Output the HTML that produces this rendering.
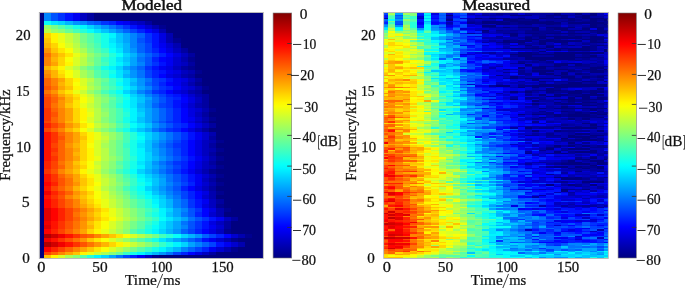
<!DOCTYPE html>
<html><head><meta charset="utf-8"><style>
html,body{margin:0;padding:0;background:#fff;}
body{width:685px;height:288px;overflow:hidden;position:relative;}
svg{position:absolute;left:0;top:0;}

.t{font-family:"Liberation Serif",serif;font-size:14px;fill:#111;stroke:#111;stroke-width:0.25px;}
.tb{font-family:"Liberation Serif",serif;font-size:14px;font-weight:normal;fill:#111;stroke:#111;stroke-width:0.45px;}
</style></head><body>
<svg width="685" height="288" viewBox="0 0 685 288">
<defs><linearGradient id="jet" x1="0" y1="0" x2="0" y2="1"><stop offset="0.0000" stop-color="#800000"/><stop offset="0.0159" stop-color="#900000"/><stop offset="0.0317" stop-color="#a00000"/><stop offset="0.0476" stop-color="#b00000"/><stop offset="0.0635" stop-color="#c00000"/><stop offset="0.0794" stop-color="#d00000"/><stop offset="0.0952" stop-color="#e10000"/><stop offset="0.1111" stop-color="#f10000"/><stop offset="0.1270" stop-color="#ff0200"/><stop offset="0.1429" stop-color="#ff1200"/><stop offset="0.1587" stop-color="#ff2200"/><stop offset="0.1746" stop-color="#ff3300"/><stop offset="0.1905" stop-color="#ff4300"/><stop offset="0.2063" stop-color="#ff5300"/><stop offset="0.2222" stop-color="#ff6300"/><stop offset="0.2381" stop-color="#ff7300"/><stop offset="0.2540" stop-color="#ff8400"/><stop offset="0.2698" stop-color="#ff9400"/><stop offset="0.2857" stop-color="#ffa400"/><stop offset="0.3016" stop-color="#ffb400"/><stop offset="0.3175" stop-color="#ffc400"/><stop offset="0.3333" stop-color="#ffd500"/><stop offset="0.3492" stop-color="#ffe500"/><stop offset="0.3651" stop-color="#fff500"/><stop offset="0.3810" stop-color="#f9ff06"/><stop offset="0.3968" stop-color="#e9ff16"/><stop offset="0.4127" stop-color="#d9ff26"/><stop offset="0.4286" stop-color="#c8ff37"/><stop offset="0.4444" stop-color="#b8ff47"/><stop offset="0.4603" stop-color="#a8ff57"/><stop offset="0.4762" stop-color="#98ff67"/><stop offset="0.4921" stop-color="#88ff77"/><stop offset="0.5079" stop-color="#77ff88"/><stop offset="0.5238" stop-color="#67ff98"/><stop offset="0.5397" stop-color="#57ffa8"/><stop offset="0.5556" stop-color="#47ffb8"/><stop offset="0.5714" stop-color="#37ffc8"/><stop offset="0.5873" stop-color="#26ffd9"/><stop offset="0.6032" stop-color="#16ffe9"/><stop offset="0.6190" stop-color="#06fff9"/><stop offset="0.6349" stop-color="#00f5ff"/><stop offset="0.6508" stop-color="#00e5ff"/><stop offset="0.6667" stop-color="#00d4ff"/><stop offset="0.6825" stop-color="#00c4ff"/><stop offset="0.6984" stop-color="#00b4ff"/><stop offset="0.7143" stop-color="#00a4ff"/><stop offset="0.7302" stop-color="#0094ff"/><stop offset="0.7460" stop-color="#0084ff"/><stop offset="0.7619" stop-color="#0073ff"/><stop offset="0.7778" stop-color="#0063ff"/><stop offset="0.7937" stop-color="#0053ff"/><stop offset="0.8095" stop-color="#0043ff"/><stop offset="0.8254" stop-color="#0033ff"/><stop offset="0.8413" stop-color="#0022ff"/><stop offset="0.8571" stop-color="#0012ff"/><stop offset="0.8730" stop-color="#0002ff"/><stop offset="0.8889" stop-color="#0000f1"/><stop offset="0.9048" stop-color="#0000e1"/><stop offset="0.9206" stop-color="#0000d0"/><stop offset="0.9365" stop-color="#0000c0"/><stop offset="0.9524" stop-color="#0000b0"/><stop offset="0.9683" stop-color="#0000a0"/><stop offset="0.9841" stop-color="#000090"/><stop offset="1.0000" stop-color="#000080"/></linearGradient></defs>
<g style="filter:blur(0.45px)">
<rect x="39.8" y="13" width="223.2" height="245" fill="#000080"/>
<g shape-rendering="crispEdges">
<path fill="#000090" d="M158.9 24.5h7.2v4.0h-7.2zM173.3 38.0h7.2v5.0h-7.2zM187.7 57.0h7.2v4.5h-7.2zM187.7 66.0h7.2v4.0h-7.2zM194.8 70.0h7.2v4.0h-7.2zM194.8 82.0h7.2v4.0h-7.2zM202.0 86.0h7.2v4.0h-7.2zM209.2 107.8h7.2v4.0h-7.2zM209.2 116.5h7.2v4.0h-7.2zM216.4 139.9h7.2v3.5h-7.2zM216.4 147.7h7.2v4.3h-7.2zM216.4 156.3h7.2v4.3h-7.2zM216.4 164.9h7.2v4.3h-7.2zM209.2 169.2h7.2v4.3h-7.2zM216.4 173.5h7.2v4.3h-7.2zM216.4 182.1h7.2v4.3h-7.2zM216.4 190.7h7.2v4.3h-7.2zM216.4 203.6h7.2v4.3h-7.2zM223.6 207.9h7.2v4.3h-7.2zM223.6 229.4h7.2v4.3h-7.2zM245.2 233.7h7.2v4.3h-7.2zM230.8 238.0h7.2v4.4h-7.2zM230.8 247.4h7.2v4.5h-7.2zM151.7 254.7h7.2v3.3h-7.2z"/>
<path fill="#0000a0" d="M87.0 13.0h7.2v7.5h-7.2zM144.5 20.5h7.2v4.0h-7.2zM180.5 48.0h7.2v4.5h-7.2zM187.7 52.5h7.2v4.5h-7.2zM187.7 61.5h7.2v4.5h-7.2zM180.5 66.0h7.2v4.0h-7.2zM187.7 74.0h7.2v4.0h-7.2zM194.8 78.0h7.2v4.0h-7.2zM194.8 90.0h7.2v4.0h-7.2zM202.0 94.0h7.2v2.5h-7.2zM202.0 96.5h7.2v3.5h-7.2zM202.0 100.0h7.2v3.1h-7.2zM202.0 103.1h7.2v4.7h-7.2zM202.0 111.8h7.2v4.7h-7.2zM202.0 120.5h7.2v2.9h-7.2zM209.2 123.4h7.2v4.4h-7.2zM202.0 127.8h7.2v4.3h-7.2zM209.2 135.6h7.2v4.3h-7.2zM209.2 143.4h7.2v4.3h-7.2zM209.2 152.0h7.2v4.3h-7.2zM209.2 160.6h7.2v4.3h-7.2zM209.2 177.8h7.2v4.3h-7.2zM209.2 186.4h7.2v4.3h-7.2zM216.4 199.3h7.2v4.3h-7.2zM230.8 216.5h7.2v4.3h-7.2zM223.6 220.8h7.2v4.3h-7.2zM223.6 225.1h7.2v4.3h-7.2zM209.2 251.9h7.2v2.8h-7.2z"/>
<path fill="#0000b0" d="M151.7 24.5h7.2v4.0h-7.2zM158.9 28.5h7.2v4.5h-7.2zM166.1 33.0h7.2v5.0h-7.2zM166.1 38.0h7.2v5.0h-7.2zM173.3 43.0h7.2v5.0h-7.2zM180.5 57.0h7.2v4.5h-7.2zM187.7 70.0h7.2v4.0h-7.2zM180.5 74.0h7.2v4.0h-7.2zM187.7 82.0h7.2v4.0h-7.2zM194.8 86.0h7.2v4.0h-7.2zM187.7 90.0h7.2v4.0h-7.2zM194.8 94.0h7.2v2.5h-7.2zM194.8 103.1h7.2v4.7h-7.2zM202.0 107.8h7.2v4.0h-7.2zM202.0 116.5h7.2v4.0h-7.2zM209.2 132.1h7.2v3.5h-7.2zM209.2 139.9h7.2v3.5h-7.2zM209.2 147.7h7.2v4.3h-7.2zM209.2 156.3h7.2v4.3h-7.2zM209.2 164.9h7.2v4.3h-7.2zM202.0 169.2h7.2v4.3h-7.2zM209.2 173.5h7.2v4.3h-7.2zM209.2 182.1h7.2v4.3h-7.2zM209.2 190.7h7.2v4.3h-7.2zM209.2 195.0h7.2v4.3h-7.2zM216.4 207.9h7.2v4.3h-7.2zM216.4 212.2h7.2v4.3h-7.2zM238.0 233.7h7.2v4.3h-7.2zM223.6 238.0h7.2v4.4h-7.2zM238.0 242.4h7.2v5.0h-7.2zM223.6 247.4h7.2v4.5h-7.2z"/>
<path fill="#0000c0" d="M79.8 13.0h7.2v7.5h-7.2zM137.3 20.5h7.2v4.0h-7.2zM173.3 48.0h7.2v4.5h-7.2zM180.5 52.5h7.2v4.5h-7.2zM180.5 61.5h7.2v4.5h-7.2zM173.3 66.0h7.2v4.0h-7.2zM180.5 70.0h7.2v4.0h-7.2zM187.7 78.0h7.2v4.0h-7.2zM194.8 96.5h7.2v3.5h-7.2zM194.8 100.0h7.2v3.1h-7.2zM194.8 111.8h7.2v4.7h-7.2zM194.8 120.5h7.2v2.9h-7.2zM202.0 123.4h7.2v4.4h-7.2zM194.8 127.8h7.2v4.3h-7.2zM202.0 139.9h7.2v3.5h-7.2zM202.0 143.4h7.2v4.3h-7.2zM202.0 147.7h7.2v4.3h-7.2zM202.0 152.0h7.2v4.3h-7.2zM202.0 160.6h7.2v4.3h-7.2zM202.0 164.9h7.2v4.3h-7.2zM202.0 177.8h7.2v4.3h-7.2zM202.0 186.4h7.2v4.3h-7.2zM209.2 199.3h7.2v4.3h-7.2zM209.2 203.6h7.2v4.3h-7.2zM223.6 216.5h7.2v4.3h-7.2zM216.4 220.8h7.2v4.3h-7.2zM216.4 229.4h7.2v4.3h-7.2zM202.0 251.9h7.2v2.8h-7.2zM144.5 254.7h7.2v3.3h-7.2z"/>
<path fill="#0000d0" d="M130.1 20.5h7.2v4.0h-7.2zM144.5 24.5h7.2v4.0h-7.2zM166.1 43.0h7.2v5.0h-7.2zM173.3 57.0h7.2v4.5h-7.2zM173.3 61.5h7.2v4.5h-7.2zM173.3 74.0h7.2v4.0h-7.2zM180.5 82.0h7.2v4.0h-7.2zM187.7 86.0h7.2v4.0h-7.2zM180.5 90.0h7.2v4.0h-7.2zM187.7 94.0h7.2v2.5h-7.2zM187.7 103.1h7.2v4.7h-7.2zM194.8 107.8h7.2v4.0h-7.2zM194.8 116.5h7.2v4.0h-7.2zM202.0 132.1h7.2v3.5h-7.2zM202.0 135.6h7.2v4.3h-7.2zM202.0 156.3h7.2v4.3h-7.2zM194.8 169.2h7.2v4.3h-7.2zM202.0 173.5h7.2v4.3h-7.2zM202.0 182.1h7.2v4.3h-7.2zM202.0 195.0h7.2v4.3h-7.2zM209.2 212.2h7.2v4.3h-7.2zM216.4 225.1h7.2v4.3h-7.2zM230.8 233.7h7.2v4.3h-7.2zM216.4 238.0h7.2v4.4h-7.2zM230.8 242.4h7.2v5.0h-7.2zM216.4 247.4h7.2v4.5h-7.2z"/>
<path fill="#0000e1" d="M151.7 28.5h7.2v4.5h-7.2zM158.9 33.0h7.2v5.0h-7.2zM158.9 38.0h7.2v5.0h-7.2zM166.1 48.0h7.2v4.5h-7.2zM173.3 52.5h7.2v4.5h-7.2zM166.1 66.0h7.2v4.0h-7.2zM173.3 70.0h7.2v4.0h-7.2zM166.1 74.0h7.2v4.0h-7.2zM180.5 78.0h7.2v4.0h-7.2zM180.5 86.0h7.2v4.0h-7.2zM173.3 90.0h7.2v4.0h-7.2zM187.7 96.5h7.2v3.5h-7.2zM187.7 100.0h7.2v3.1h-7.2zM187.7 107.8h7.2v4.0h-7.2zM187.7 111.8h7.2v4.7h-7.2zM187.7 120.5h7.2v2.9h-7.2zM194.8 123.4h7.2v4.4h-7.2zM187.7 127.8h7.2v4.3h-7.2zM194.8 139.9h7.2v3.5h-7.2zM194.8 143.4h7.2v4.3h-7.2zM194.8 147.7h7.2v4.3h-7.2zM194.8 152.0h7.2v4.3h-7.2zM194.8 160.6h7.2v4.3h-7.2zM194.8 164.9h7.2v4.3h-7.2zM194.8 186.4h7.2v4.3h-7.2zM202.0 190.7h7.2v4.3h-7.2zM202.0 203.6h7.2v4.3h-7.2zM209.2 207.9h7.2v4.3h-7.2zM209.2 220.8h7.2v4.3h-7.2zM209.2 229.4h7.2v4.3h-7.2zM194.8 251.9h7.2v2.8h-7.2z"/>
<path fill="#0000f1" d="M72.6 13.0h7.2v7.5h-7.2zM122.9 20.5h7.2v4.0h-7.2zM137.3 24.5h7.2v4.0h-7.2zM158.9 43.0h7.2v5.0h-7.2zM166.1 57.0h7.2v4.5h-7.2zM166.1 61.5h7.2v4.5h-7.2zM158.9 66.0h7.2v4.0h-7.2zM166.1 70.0h7.2v4.0h-7.2zM173.3 78.0h7.2v4.0h-7.2zM173.3 82.0h7.2v4.0h-7.2zM180.5 94.0h7.2v2.5h-7.2zM180.5 103.1h7.2v4.7h-7.2zM187.7 116.5h7.2v4.0h-7.2zM194.8 132.1h7.2v3.5h-7.2zM194.8 135.6h7.2v4.3h-7.2zM194.8 156.3h7.2v4.3h-7.2zM187.7 169.2h7.2v4.3h-7.2zM194.8 173.5h7.2v4.3h-7.2zM194.8 177.8h7.2v4.3h-7.2zM194.8 182.1h7.2v4.3h-7.2zM202.0 199.3h7.2v4.3h-7.2zM216.4 216.5h7.2v4.3h-7.2zM209.2 225.1h7.2v4.3h-7.2zM209.2 238.0h7.2v4.4h-7.2zM223.6 242.4h7.2v5.0h-7.2zM209.2 247.4h7.2v4.5h-7.2zM137.3 254.7h7.2v3.3h-7.2z"/>
<path fill="#0002ff" d="M115.8 20.5h7.2v4.0h-7.2zM144.5 28.5h7.2v4.5h-7.2zM158.9 48.0h7.2v4.5h-7.2zM166.1 52.5h7.2v4.5h-7.2zM158.9 57.0h7.2v4.5h-7.2zM158.9 74.0h7.2v4.0h-7.2zM166.1 82.0h7.2v4.0h-7.2zM173.3 86.0h7.2v4.0h-7.2zM166.1 90.0h7.2v4.0h-7.2zM180.5 96.5h7.2v3.5h-7.2zM180.5 100.0h7.2v3.1h-7.2zM180.5 107.8h7.2v4.0h-7.2zM180.5 111.8h7.2v4.7h-7.2zM180.5 116.5h7.2v4.0h-7.2zM180.5 120.5h7.2v2.9h-7.2zM187.7 123.4h7.2v4.4h-7.2zM180.5 127.8h7.2v4.3h-7.2zM187.7 139.9h7.2v3.5h-7.2zM187.7 143.4h7.2v4.3h-7.2zM187.7 147.7h7.2v4.3h-7.2zM187.7 152.0h7.2v4.3h-7.2zM187.7 160.6h7.2v4.3h-7.2zM187.7 164.9h7.2v4.3h-7.2zM187.7 186.4h7.2v4.3h-7.2zM194.8 190.7h7.2v4.3h-7.2zM194.8 195.0h7.2v4.3h-7.2zM202.0 207.9h7.2v4.3h-7.2zM202.0 212.2h7.2v4.3h-7.2zM202.0 229.4h7.2v4.3h-7.2zM223.6 233.7h7.2v4.3h-7.2zM187.7 251.9h7.2v2.8h-7.2z"/>
<path fill="#0012ff" d="M65.4 13.0h7.2v7.5h-7.2zM130.1 24.5h7.2v4.0h-7.2zM151.7 33.0h7.2v5.0h-7.2zM151.7 38.0h7.2v5.0h-7.2zM151.7 43.0h7.2v5.0h-7.2zM158.9 61.5h7.2v4.5h-7.2zM151.7 66.0h7.2v4.0h-7.2zM158.9 70.0h7.2v4.0h-7.2zM166.1 78.0h7.2v4.0h-7.2zM173.3 94.0h7.2v2.5h-7.2zM173.3 100.0h7.2v3.1h-7.2zM173.3 103.1h7.2v4.7h-7.2zM187.7 132.1h7.2v3.5h-7.2zM187.7 135.6h7.2v4.3h-7.2zM187.7 156.3h7.2v4.3h-7.2zM180.5 169.2h7.2v4.3h-7.2zM187.7 173.5h7.2v4.3h-7.2zM187.7 177.8h7.2v4.3h-7.2zM194.8 199.3h7.2v4.3h-7.2zM194.8 203.6h7.2v4.3h-7.2zM209.2 216.5h7.2v4.3h-7.2zM202.0 220.8h7.2v4.3h-7.2zM202.0 225.1h7.2v4.3h-7.2zM202.0 238.0h7.2v4.4h-7.2zM216.4 242.4h7.2v5.0h-7.2z"/>
<path fill="#0022ff" d="M108.6 20.5h7.2v4.0h-7.2zM137.3 28.5h7.2v4.5h-7.2zM151.7 48.0h7.2v4.5h-7.2zM158.9 52.5h7.2v4.5h-7.2zM151.7 57.0h7.2v4.5h-7.2zM151.7 70.0h7.2v4.0h-7.2zM151.7 74.0h7.2v4.0h-7.2zM158.9 82.0h7.2v4.0h-7.2zM166.1 86.0h7.2v4.0h-7.2zM158.9 90.0h7.2v4.0h-7.2zM166.1 94.0h7.2v2.5h-7.2zM173.3 96.5h7.2v3.5h-7.2zM173.3 107.8h7.2v4.0h-7.2zM173.3 111.8h7.2v4.7h-7.2zM173.3 116.5h7.2v4.0h-7.2zM173.3 120.5h7.2v2.9h-7.2zM180.5 123.4h7.2v4.4h-7.2zM173.3 127.8h7.2v4.3h-7.2zM180.5 139.9h7.2v3.5h-7.2zM180.5 143.4h7.2v4.3h-7.2zM180.5 147.7h7.2v4.3h-7.2zM180.5 152.0h7.2v4.3h-7.2zM180.5 160.6h7.2v4.3h-7.2zM180.5 164.9h7.2v4.3h-7.2zM187.7 182.1h7.2v4.3h-7.2zM180.5 186.4h7.2v4.3h-7.2zM187.7 190.7h7.2v4.3h-7.2zM187.7 195.0h7.2v4.3h-7.2zM194.8 212.2h7.2v4.3h-7.2zM194.8 229.4h7.2v4.3h-7.2zM216.4 233.7h7.2v4.3h-7.2zM202.0 247.4h7.2v4.5h-7.2zM180.5 251.9h7.2v2.8h-7.2zM130.1 254.7h7.2v3.3h-7.2z"/>
<path fill="#0033ff" d="M58.2 13.0h7.2v7.5h-7.2zM101.4 20.5h7.2v4.0h-7.2zM122.9 24.5h7.2v4.0h-7.2zM144.5 33.0h7.2v5.0h-7.2zM144.5 38.0h7.2v5.0h-7.2zM151.7 61.5h7.2v4.5h-7.2zM144.5 66.0h7.2v4.0h-7.2zM158.9 78.0h7.2v4.0h-7.2zM158.9 86.0h7.2v4.0h-7.2zM151.7 90.0h7.2v4.0h-7.2zM166.1 96.5h7.2v3.5h-7.2zM166.1 100.0h7.2v3.1h-7.2zM166.1 103.1h7.2v4.7h-7.2zM166.1 120.5h7.2v2.9h-7.2zM173.3 123.4h7.2v4.4h-7.2zM166.1 127.8h7.2v4.3h-7.2zM180.5 132.1h7.2v3.5h-7.2zM180.5 135.6h7.2v4.3h-7.2zM173.3 143.4h7.2v4.3h-7.2zM180.5 156.3h7.2v4.3h-7.2zM173.3 160.6h7.2v4.3h-7.2zM173.3 169.2h7.2v4.3h-7.2zM180.5 173.5h7.2v4.3h-7.2zM180.5 177.8h7.2v4.3h-7.2zM187.7 199.3h7.2v4.3h-7.2zM187.7 203.6h7.2v4.3h-7.2zM194.8 207.9h7.2v4.3h-7.2zM202.0 216.5h7.2v4.3h-7.2zM194.8 220.8h7.2v4.3h-7.2zM194.8 225.1h7.2v4.3h-7.2z"/>
<path fill="#0043ff" d="M130.1 28.5h7.2v4.5h-7.2zM144.5 43.0h7.2v5.0h-7.2zM144.5 48.0h7.2v4.5h-7.2zM151.7 52.5h7.2v4.5h-7.2zM144.5 70.0h7.2v4.0h-7.2zM144.5 74.0h7.2v4.0h-7.2zM151.7 78.0h7.2v4.0h-7.2zM151.7 82.0h7.2v4.0h-7.2zM158.9 94.0h7.2v2.5h-7.2zM158.9 103.1h7.2v4.7h-7.2zM166.1 107.8h7.2v4.0h-7.2zM166.1 111.8h7.2v4.7h-7.2zM166.1 116.5h7.2v4.0h-7.2zM173.3 139.9h7.2v3.5h-7.2zM173.3 147.7h7.2v4.3h-7.2zM173.3 152.0h7.2v4.3h-7.2zM173.3 164.9h7.2v4.3h-7.2zM180.5 182.1h7.2v4.3h-7.2zM180.5 190.7h7.2v4.3h-7.2zM180.5 195.0h7.2v4.3h-7.2zM187.7 229.4h7.2v4.3h-7.2zM209.2 233.7h7.2v4.3h-7.2zM194.8 238.0h7.2v4.4h-7.2zM209.2 242.4h7.2v5.0h-7.2zM194.8 247.4h7.2v4.5h-7.2zM173.3 251.9h7.2v2.8h-7.2zM122.9 254.7h7.2v3.3h-7.2z"/>
<path fill="#0053ff" d="M51.0 13.0h7.2v7.5h-7.2zM94.2 20.5h7.2v4.0h-7.2zM115.8 24.5h7.2v4.0h-7.2zM137.3 38.0h7.2v5.0h-7.2zM144.5 57.0h7.2v4.5h-7.2zM144.5 61.5h7.2v4.5h-7.2zM151.7 86.0h7.2v4.0h-7.2zM158.9 96.5h7.2v3.5h-7.2zM158.9 100.0h7.2v3.1h-7.2zM158.9 120.5h7.2v2.9h-7.2zM166.1 123.4h7.2v4.4h-7.2zM158.9 127.8h7.2v4.3h-7.2zM173.3 132.1h7.2v3.5h-7.2zM173.3 135.6h7.2v4.3h-7.2zM166.1 143.4h7.2v4.3h-7.2zM173.3 156.3h7.2v4.3h-7.2zM166.1 160.6h7.2v4.3h-7.2zM166.1 169.2h7.2v4.3h-7.2zM173.3 173.5h7.2v4.3h-7.2zM173.3 177.8h7.2v4.3h-7.2zM173.3 186.4h7.2v4.3h-7.2zM187.7 207.9h7.2v4.3h-7.2zM187.7 212.2h7.2v4.3h-7.2zM194.8 216.5h7.2v4.3h-7.2zM187.7 220.8h7.2v4.3h-7.2zM187.7 225.1h7.2v4.3h-7.2z"/>
<path fill="#0063ff" d="M87.0 20.5h7.2v4.0h-7.2zM122.9 28.5h7.2v4.5h-7.2zM137.3 33.0h7.2v5.0h-7.2zM137.3 43.0h7.2v5.0h-7.2zM137.3 48.0h7.2v4.5h-7.2zM144.5 52.5h7.2v4.5h-7.2zM137.3 66.0h7.2v4.0h-7.2zM144.5 82.0h7.2v4.0h-7.2zM144.5 90.0h7.2v4.0h-7.2zM151.7 94.0h7.2v2.5h-7.2zM151.7 103.1h7.2v4.7h-7.2zM158.9 107.8h7.2v4.0h-7.2zM158.9 111.8h7.2v4.7h-7.2zM158.9 116.5h7.2v4.0h-7.2zM166.1 139.9h7.2v3.5h-7.2zM166.1 147.7h7.2v4.3h-7.2zM166.1 152.0h7.2v4.3h-7.2zM166.1 164.9h7.2v4.3h-7.2zM173.3 182.1h7.2v4.3h-7.2zM173.3 190.7h7.2v4.3h-7.2zM180.5 199.3h7.2v4.3h-7.2zM180.5 203.6h7.2v4.3h-7.2zM180.5 229.4h7.2v4.3h-7.2zM202.0 233.7h7.2v4.3h-7.2zM187.7 238.0h7.2v4.4h-7.2zM202.0 242.4h7.2v5.0h-7.2zM187.7 247.4h7.2v4.5h-7.2z"/>
<path fill="#0073ff" d="M108.6 24.5h7.2v4.0h-7.2zM137.3 57.0h7.2v4.5h-7.2zM137.3 70.0h7.2v4.0h-7.2zM137.3 74.0h7.2v4.0h-7.2zM144.5 78.0h7.2v4.0h-7.2zM151.7 96.5h7.2v3.5h-7.2zM151.7 100.0h7.2v3.1h-7.2zM151.7 120.5h7.2v2.9h-7.2zM158.9 123.4h7.2v4.4h-7.2zM151.7 127.8h7.2v4.3h-7.2zM166.1 132.1h7.2v3.5h-7.2zM166.1 135.6h7.2v4.3h-7.2zM158.9 143.4h7.2v4.3h-7.2zM166.1 156.3h7.2v4.3h-7.2zM158.9 160.6h7.2v4.3h-7.2zM158.9 169.2h7.2v4.3h-7.2zM166.1 173.5h7.2v4.3h-7.2zM166.1 177.8h7.2v4.3h-7.2zM166.1 186.4h7.2v4.3h-7.2zM173.3 195.0h7.2v4.3h-7.2zM180.5 212.2h7.2v4.3h-7.2zM187.7 216.5h7.2v4.3h-7.2zM180.5 220.8h7.2v4.3h-7.2zM166.1 251.9h7.2v2.8h-7.2zM115.8 254.7h7.2v3.3h-7.2z"/>
<path fill="#0084ff" d="M43.8 13.0h7.2v7.5h-7.2zM79.8 20.5h7.2v4.0h-7.2zM115.8 28.5h7.2v4.5h-7.2zM130.1 33.0h7.2v5.0h-7.2zM130.1 38.0h7.2v5.0h-7.2zM130.1 43.0h7.2v5.0h-7.2zM137.3 52.5h7.2v4.5h-7.2zM137.3 61.5h7.2v4.5h-7.2zM130.1 66.0h7.2v4.0h-7.2zM144.5 86.0h7.2v4.0h-7.2zM137.3 90.0h7.2v4.0h-7.2zM144.5 94.0h7.2v2.5h-7.2zM151.7 107.8h7.2v4.0h-7.2zM151.7 111.8h7.2v4.7h-7.2zM151.7 116.5h7.2v4.0h-7.2zM158.9 139.9h7.2v3.5h-7.2zM158.9 147.7h7.2v4.3h-7.2zM158.9 152.0h7.2v4.3h-7.2zM158.9 164.9h7.2v4.3h-7.2zM166.1 182.1h7.2v4.3h-7.2zM166.1 190.7h7.2v4.3h-7.2zM173.3 199.3h7.2v4.3h-7.2zM173.3 203.6h7.2v4.3h-7.2zM180.5 207.9h7.2v4.3h-7.2zM180.5 225.1h7.2v4.3h-7.2zM180.5 238.0h7.2v4.4h-7.2zM194.8 242.4h7.2v5.0h-7.2zM180.5 247.4h7.2v4.5h-7.2z"/>
<path fill="#0094ff" d="M72.6 20.5h7.2v4.0h-7.2zM101.4 24.5h7.2v4.0h-7.2zM130.1 48.0h7.2v4.5h-7.2zM130.1 70.0h7.2v4.0h-7.2zM130.1 74.0h7.2v4.0h-7.2zM137.3 78.0h7.2v4.0h-7.2zM137.3 82.0h7.2v4.0h-7.2zM144.5 100.0h7.2v3.1h-7.2zM144.5 103.1h7.2v4.7h-7.2zM151.7 123.4h7.2v4.4h-7.2zM158.9 132.1h7.2v3.5h-7.2zM158.9 135.6h7.2v4.3h-7.2zM151.7 143.4h7.2v4.3h-7.2zM158.9 156.3h7.2v4.3h-7.2zM151.7 160.6h7.2v4.3h-7.2zM151.7 169.2h7.2v4.3h-7.2zM158.9 173.5h7.2v4.3h-7.2zM158.9 186.4h7.2v4.3h-7.2zM166.1 195.0h7.2v4.3h-7.2zM173.3 229.4h7.2v4.3h-7.2zM194.8 233.7h7.2v4.3h-7.2zM158.9 251.9h7.2v2.8h-7.2z"/>
<path fill="#00a4ff" d="M108.6 28.5h7.2v4.5h-7.2zM122.9 33.0h7.2v5.0h-7.2zM122.9 38.0h7.2v5.0h-7.2zM130.1 57.0h7.2v4.5h-7.2zM130.1 61.5h7.2v4.5h-7.2zM122.9 66.0h7.2v4.0h-7.2zM137.3 86.0h7.2v4.0h-7.2zM144.5 96.5h7.2v3.5h-7.2zM144.5 107.8h7.2v4.0h-7.2zM144.5 111.8h7.2v4.7h-7.2zM144.5 116.5h7.2v4.0h-7.2zM144.5 120.5h7.2v2.9h-7.2zM144.5 127.8h7.2v4.3h-7.2zM151.7 139.9h7.2v3.5h-7.2zM151.7 147.7h7.2v4.3h-7.2zM151.7 152.0h7.2v4.3h-7.2zM151.7 164.9h7.2v4.3h-7.2zM158.9 177.8h7.2v4.3h-7.2zM158.9 182.1h7.2v4.3h-7.2zM158.9 190.7h7.2v4.3h-7.2zM173.3 207.9h7.2v4.3h-7.2zM173.3 212.2h7.2v4.3h-7.2zM180.5 216.5h7.2v4.3h-7.2zM173.3 220.8h7.2v4.3h-7.2zM173.3 225.1h7.2v4.3h-7.2zM173.3 238.0h7.2v4.4h-7.2zM187.7 242.4h7.2v5.0h-7.2zM108.6 254.7h7.2v3.3h-7.2z"/>
<path fill="#00b4ff" d="M65.4 20.5h7.2v4.0h-7.2zM94.2 24.5h7.2v4.0h-7.2zM122.9 43.0h7.2v5.0h-7.2zM122.9 48.0h7.2v4.5h-7.2zM130.1 52.5h7.2v4.5h-7.2zM122.9 74.0h7.2v4.0h-7.2zM130.1 82.0h7.2v4.0h-7.2zM130.1 90.0h7.2v4.0h-7.2zM137.3 94.0h7.2v2.5h-7.2zM137.3 103.1h7.2v4.7h-7.2zM151.7 132.1h7.2v3.5h-7.2zM151.7 135.6h7.2v4.3h-7.2zM151.7 156.3h7.2v4.3h-7.2zM144.5 169.2h7.2v4.3h-7.2zM151.7 173.5h7.2v4.3h-7.2zM151.7 186.4h7.2v4.3h-7.2zM166.1 199.3h7.2v4.3h-7.2zM166.1 203.6h7.2v4.3h-7.2zM166.1 229.4h7.2v4.3h-7.2zM187.7 233.7h7.2v4.3h-7.2zM173.3 247.4h7.2v4.5h-7.2zM151.7 251.9h7.2v2.8h-7.2z"/>
<path fill="#00c4ff" d="M101.4 28.5h7.2v4.5h-7.2zM115.8 33.0h7.2v5.0h-7.2zM115.8 38.0h7.2v5.0h-7.2zM122.9 57.0h7.2v4.5h-7.2zM122.9 70.0h7.2v4.0h-7.2zM130.1 78.0h7.2v4.0h-7.2zM137.3 96.5h7.2v3.5h-7.2zM137.3 100.0h7.2v3.1h-7.2zM137.3 107.8h7.2v4.0h-7.2zM137.3 116.5h7.2v4.0h-7.2zM137.3 120.5h7.2v2.9h-7.2zM144.5 123.4h7.2v4.4h-7.2zM137.3 127.8h7.2v4.3h-7.2zM144.5 139.9h7.2v3.5h-7.2zM144.5 143.4h7.2v4.3h-7.2zM144.5 147.7h7.2v4.3h-7.2zM144.5 160.6h7.2v4.3h-7.2zM144.5 164.9h7.2v4.3h-7.2zM151.7 177.8h7.2v4.3h-7.2zM151.7 182.1h7.2v4.3h-7.2zM151.7 190.7h7.2v4.3h-7.2zM158.9 195.0h7.2v4.3h-7.2zM166.1 212.2h7.2v4.3h-7.2zM173.3 216.5h7.2v4.3h-7.2zM166.1 220.8h7.2v4.3h-7.2zM166.1 225.1h7.2v4.3h-7.2zM166.1 238.0h7.2v4.4h-7.2z"/>
<path fill="#00d4ff" d="M58.2 20.5h7.2v4.0h-7.2zM87.0 24.5h7.2v4.0h-7.2zM115.8 43.0h7.2v5.0h-7.2zM122.9 52.5h7.2v4.5h-7.2zM122.9 61.5h7.2v4.5h-7.2zM115.8 66.0h7.2v4.0h-7.2zM130.1 86.0h7.2v4.0h-7.2zM122.9 90.0h7.2v4.0h-7.2zM130.1 94.0h7.2v2.5h-7.2zM137.3 111.8h7.2v4.7h-7.2zM144.5 132.1h7.2v3.5h-7.2zM144.5 135.6h7.2v4.3h-7.2zM144.5 152.0h7.2v4.3h-7.2zM144.5 156.3h7.2v4.3h-7.2zM137.3 169.2h7.2v4.3h-7.2zM144.5 173.5h7.2v4.3h-7.2zM144.5 186.4h7.2v4.3h-7.2zM158.9 199.3h7.2v4.3h-7.2zM158.9 203.6h7.2v4.3h-7.2zM166.1 207.9h7.2v4.3h-7.2zM158.9 229.4h7.2v4.3h-7.2zM180.5 233.7h7.2v4.3h-7.2zM180.5 242.4h7.2v5.0h-7.2zM166.1 247.4h7.2v4.5h-7.2zM144.5 251.9h7.2v2.8h-7.2zM101.4 254.7h7.2v3.3h-7.2z"/>
<path fill="#00e5ff" d="M51.0 20.5h7.2v4.0h-7.2zM94.2 28.5h7.2v4.5h-7.2zM108.6 38.0h7.2v5.0h-7.2zM115.8 48.0h7.2v4.5h-7.2zM115.8 57.0h7.2v4.5h-7.2zM115.8 70.0h7.2v4.0h-7.2zM115.8 74.0h7.2v4.0h-7.2zM122.9 78.0h7.2v4.0h-7.2zM122.9 82.0h7.2v4.0h-7.2zM130.1 96.5h7.2v3.5h-7.2zM130.1 100.0h7.2v3.1h-7.2zM130.1 103.1h7.2v4.7h-7.2zM130.1 120.5h7.2v2.9h-7.2zM137.3 123.4h7.2v4.4h-7.2zM130.1 127.8h7.2v4.3h-7.2zM137.3 143.4h7.2v4.3h-7.2zM137.3 160.6h7.2v4.3h-7.2zM144.5 177.8h7.2v4.3h-7.2zM151.7 195.0h7.2v4.3h-7.2zM166.1 216.5h7.2v4.3h-7.2zM158.9 220.8h7.2v4.3h-7.2zM158.9 225.1h7.2v4.3h-7.2zM158.9 238.0h7.2v4.4h-7.2z"/>
<path fill="#00f5ff" d="M79.8 24.5h7.2v4.0h-7.2zM108.6 33.0h7.2v5.0h-7.2zM108.6 43.0h7.2v5.0h-7.2zM115.8 61.5h7.2v4.5h-7.2zM108.6 66.0h7.2v4.0h-7.2zM122.9 86.0h7.2v4.0h-7.2zM130.1 107.8h7.2v4.0h-7.2zM130.1 111.8h7.2v4.7h-7.2zM130.1 116.5h7.2v4.0h-7.2zM137.3 132.1h7.2v3.5h-7.2zM137.3 139.9h7.2v3.5h-7.2zM137.3 147.7h7.2v4.3h-7.2zM137.3 152.0h7.2v4.3h-7.2zM137.3 156.3h7.2v4.3h-7.2zM137.3 164.9h7.2v4.3h-7.2zM137.3 173.5h7.2v4.3h-7.2zM144.5 182.1h7.2v4.3h-7.2zM144.5 190.7h7.2v4.3h-7.2zM151.7 199.3h7.2v4.3h-7.2zM158.9 207.9h7.2v4.3h-7.2zM158.9 212.2h7.2v4.3h-7.2zM151.7 229.4h7.2v4.3h-7.2zM173.3 242.4h7.2v5.0h-7.2zM158.9 247.4h7.2v4.5h-7.2zM137.3 251.9h7.2v2.8h-7.2zM94.2 254.7h7.2v3.3h-7.2z"/>
<path fill="#06fff9" d="M43.8 20.5h7.2v4.0h-7.2zM87.0 28.5h7.2v4.5h-7.2zM108.6 48.0h7.2v4.5h-7.2zM115.8 52.5h7.2v4.5h-7.2zM108.6 74.0h7.2v4.0h-7.2zM115.8 82.0h7.2v4.0h-7.2zM115.8 90.0h7.2v4.0h-7.2zM122.9 94.0h7.2v2.5h-7.2zM122.9 100.0h7.2v3.1h-7.2zM122.9 103.1h7.2v4.7h-7.2zM130.1 123.4h7.2v4.4h-7.2zM137.3 135.6h7.2v4.3h-7.2zM130.1 169.2h7.2v4.3h-7.2zM137.3 177.8h7.2v4.3h-7.2zM137.3 186.4h7.2v4.3h-7.2zM144.5 195.0h7.2v4.3h-7.2zM151.7 203.6h7.2v4.3h-7.2zM158.9 216.5h7.2v4.3h-7.2zM151.7 225.1h7.2v4.3h-7.2zM173.3 233.7h7.2v4.3h-7.2z"/>
<path fill="#16ffe9" d="M72.6 24.5h7.2v4.0h-7.2zM101.4 33.0h7.2v5.0h-7.2zM101.4 38.0h7.2v5.0h-7.2zM101.4 43.0h7.2v5.0h-7.2zM108.6 57.0h7.2v4.5h-7.2zM108.6 61.5h7.2v4.5h-7.2zM101.4 66.0h7.2v4.0h-7.2zM108.6 70.0h7.2v4.0h-7.2zM115.8 78.0h7.2v4.0h-7.2zM122.9 96.5h7.2v3.5h-7.2zM122.9 107.8h7.2v4.0h-7.2zM122.9 116.5h7.2v4.0h-7.2zM122.9 120.5h7.2v2.9h-7.2zM122.9 127.8h7.2v4.3h-7.2zM130.1 139.9h7.2v3.5h-7.2zM130.1 143.4h7.2v4.3h-7.2zM130.1 147.7h7.2v4.3h-7.2zM130.1 152.0h7.2v4.3h-7.2zM130.1 160.6h7.2v4.3h-7.2zM130.1 164.9h7.2v4.3h-7.2zM137.3 182.1h7.2v4.3h-7.2zM137.3 190.7h7.2v4.3h-7.2zM151.7 212.2h7.2v4.3h-7.2zM151.7 220.8h7.2v4.3h-7.2zM144.5 229.4h7.2v4.3h-7.2zM151.7 238.0h7.2v4.4h-7.2zM166.1 242.4h7.2v5.0h-7.2zM151.7 247.4h7.2v4.5h-7.2zM130.1 251.9h7.2v2.8h-7.2z"/>
<path fill="#26ffd9" d="M79.8 28.5h7.2v4.5h-7.2zM108.6 52.5h7.2v4.5h-7.2zM115.8 86.0h7.2v4.0h-7.2zM108.6 90.0h7.2v4.0h-7.2zM115.8 94.0h7.2v2.5h-7.2zM115.8 103.1h7.2v4.7h-7.2zM122.9 111.8h7.2v4.7h-7.2zM130.1 132.1h7.2v3.5h-7.2zM130.1 135.6h7.2v4.3h-7.2zM130.1 156.3h7.2v4.3h-7.2zM122.9 169.2h7.2v4.3h-7.2zM130.1 173.5h7.2v4.3h-7.2zM130.1 186.4h7.2v4.3h-7.2zM137.3 195.0h7.2v4.3h-7.2zM144.5 199.3h7.2v4.3h-7.2zM144.5 203.6h7.2v4.3h-7.2zM151.7 207.9h7.2v4.3h-7.2zM144.5 225.1h7.2v4.3h-7.2zM166.1 233.7h7.2v4.3h-7.2zM87.0 254.7h7.2v3.3h-7.2z"/>
<path fill="#37ffc8" d="M65.4 24.5h7.2v4.0h-7.2zM94.2 33.0h7.2v5.0h-7.2zM94.2 38.0h7.2v5.0h-7.2zM101.4 48.0h7.2v4.5h-7.2zM101.4 57.0h7.2v4.5h-7.2zM101.4 70.0h7.2v4.0h-7.2zM101.4 74.0h7.2v4.0h-7.2zM108.6 78.0h7.2v4.0h-7.2zM108.6 82.0h7.2v4.0h-7.2zM115.8 96.5h7.2v3.5h-7.2zM115.8 100.0h7.2v3.1h-7.2zM115.8 120.5h7.2v2.9h-7.2zM122.9 123.4h7.2v4.4h-7.2zM115.8 127.8h7.2v4.3h-7.2zM122.9 143.4h7.2v4.3h-7.2zM122.9 160.6h7.2v4.3h-7.2zM122.9 164.9h7.2v4.3h-7.2zM130.1 177.8h7.2v4.3h-7.2zM130.1 182.1h7.2v4.3h-7.2zM130.1 190.7h7.2v4.3h-7.2zM144.5 212.2h7.2v4.3h-7.2zM151.7 216.5h7.2v4.3h-7.2zM144.5 220.8h7.2v4.3h-7.2zM137.3 229.4h7.2v4.3h-7.2zM144.5 238.0h7.2v4.4h-7.2zM158.9 242.4h7.2v5.0h-7.2zM144.5 247.4h7.2v4.5h-7.2zM122.9 251.9h7.2v2.8h-7.2z"/>
<path fill="#47ffb8" d="M72.6 28.5h7.2v4.5h-7.2zM94.2 43.0h7.2v5.0h-7.2zM101.4 61.5h7.2v4.5h-7.2zM94.2 66.0h7.2v4.0h-7.2zM108.6 86.0h7.2v4.0h-7.2zM101.4 90.0h7.2v4.0h-7.2zM108.6 94.0h7.2v2.5h-7.2zM115.8 107.8h7.2v4.0h-7.2zM115.8 111.8h7.2v4.7h-7.2zM115.8 116.5h7.2v4.0h-7.2zM122.9 132.1h7.2v3.5h-7.2zM122.9 135.6h7.2v4.3h-7.2zM122.9 139.9h7.2v3.5h-7.2zM122.9 147.7h7.2v4.3h-7.2zM122.9 152.0h7.2v4.3h-7.2zM122.9 156.3h7.2v4.3h-7.2zM115.8 169.2h7.2v4.3h-7.2zM122.9 173.5h7.2v4.3h-7.2zM122.9 186.4h7.2v4.3h-7.2zM130.1 195.0h7.2v4.3h-7.2zM137.3 199.3h7.2v4.3h-7.2zM137.3 203.6h7.2v4.3h-7.2zM144.5 207.9h7.2v4.3h-7.2zM158.9 233.7h7.2v4.3h-7.2z"/>
<path fill="#57ffa8" d="M58.2 24.5h7.2v4.0h-7.2zM87.0 33.0h7.2v5.0h-7.2zM87.0 38.0h7.2v5.0h-7.2zM94.2 48.0h7.2v4.5h-7.2zM101.4 52.5h7.2v4.5h-7.2zM94.2 70.0h7.2v4.0h-7.2zM94.2 74.0h7.2v4.0h-7.2zM101.4 82.0h7.2v4.0h-7.2zM108.6 100.0h7.2v3.1h-7.2zM108.6 103.1h7.2v4.7h-7.2zM115.8 123.4h7.2v4.4h-7.2zM115.8 160.6h7.2v4.3h-7.2zM122.9 177.8h7.2v4.3h-7.2zM144.5 216.5h7.2v4.3h-7.2zM137.3 220.8h7.2v4.3h-7.2zM137.3 225.1h7.2v4.3h-7.2zM130.1 229.4h7.2v4.3h-7.2zM137.3 238.0h7.2v4.4h-7.2zM137.3 247.4h7.2v4.5h-7.2zM79.8 254.7h7.2v3.3h-7.2z"/>
<path fill="#67ff98" d="M65.4 28.5h7.2v4.5h-7.2zM87.0 43.0h7.2v5.0h-7.2zM94.2 57.0h7.2v4.5h-7.2zM94.2 61.5h7.2v4.5h-7.2zM87.0 66.0h7.2v4.0h-7.2zM101.4 78.0h7.2v4.0h-7.2zM101.4 86.0h7.2v4.0h-7.2zM108.6 96.5h7.2v3.5h-7.2zM108.6 107.8h7.2v4.0h-7.2zM108.6 111.8h7.2v4.7h-7.2zM108.6 116.5h7.2v4.0h-7.2zM108.6 120.5h7.2v2.9h-7.2zM108.6 127.8h7.2v4.3h-7.2zM115.8 139.9h7.2v3.5h-7.2zM115.8 143.4h7.2v4.3h-7.2zM115.8 147.7h7.2v4.3h-7.2zM115.8 152.0h7.2v4.3h-7.2zM115.8 164.9h7.2v4.3h-7.2zM122.9 182.1h7.2v4.3h-7.2zM122.9 190.7h7.2v4.3h-7.2zM130.1 199.3h7.2v4.3h-7.2zM130.1 203.6h7.2v4.3h-7.2zM137.3 207.9h7.2v4.3h-7.2zM137.3 212.2h7.2v4.3h-7.2zM151.7 242.4h7.2v5.0h-7.2zM115.8 251.9h7.2v2.8h-7.2z"/>
<path fill="#77ff88" d="M51.0 24.5h7.2v4.0h-7.2zM79.8 33.0h7.2v5.0h-7.2zM79.8 38.0h7.2v5.0h-7.2zM87.0 48.0h7.2v4.5h-7.2zM94.2 52.5h7.2v4.5h-7.2zM94.2 90.0h7.2v4.0h-7.2zM101.4 94.0h7.2v2.5h-7.2zM101.4 103.1h7.2v4.7h-7.2zM115.8 132.1h7.2v3.5h-7.2zM115.8 135.6h7.2v4.3h-7.2zM115.8 156.3h7.2v4.3h-7.2zM108.6 169.2h7.2v4.3h-7.2zM115.8 173.5h7.2v4.3h-7.2zM115.8 177.8h7.2v4.3h-7.2zM115.8 186.4h7.2v4.3h-7.2zM122.9 195.0h7.2v4.3h-7.2zM137.3 216.5h7.2v4.3h-7.2zM130.1 220.8h7.2v4.3h-7.2zM130.1 225.1h7.2v4.3h-7.2zM151.7 233.7h7.2v4.3h-7.2zM130.1 238.0h7.2v4.4h-7.2zM130.1 247.4h7.2v4.5h-7.2z"/>
<path fill="#88ff77" d="M58.2 28.5h7.2v4.5h-7.2zM79.8 43.0h7.2v5.0h-7.2zM87.0 57.0h7.2v4.5h-7.2zM79.8 66.0h7.2v4.0h-7.2zM87.0 70.0h7.2v4.0h-7.2zM87.0 74.0h7.2v4.0h-7.2zM94.2 78.0h7.2v4.0h-7.2zM94.2 82.0h7.2v4.0h-7.2zM101.4 96.5h7.2v3.5h-7.2zM101.4 100.0h7.2v3.1h-7.2zM101.4 107.8h7.2v4.0h-7.2zM101.4 116.5h7.2v4.0h-7.2zM101.4 120.5h7.2v2.9h-7.2zM108.6 123.4h7.2v4.4h-7.2zM101.4 127.8h7.2v4.3h-7.2zM108.6 139.9h7.2v3.5h-7.2zM108.6 143.4h7.2v4.3h-7.2zM108.6 147.7h7.2v4.3h-7.2zM108.6 152.0h7.2v4.3h-7.2zM108.6 160.6h7.2v4.3h-7.2zM108.6 164.9h7.2v4.3h-7.2zM115.8 182.1h7.2v4.3h-7.2zM115.8 190.7h7.2v4.3h-7.2zM122.9 199.3h7.2v4.3h-7.2zM122.9 203.6h7.2v4.3h-7.2zM130.1 207.9h7.2v4.3h-7.2zM130.1 212.2h7.2v4.3h-7.2zM122.9 229.4h7.2v4.3h-7.2zM144.5 242.4h7.2v5.0h-7.2zM108.6 251.9h7.2v2.8h-7.2zM72.6 254.7h7.2v3.3h-7.2z"/>
<path fill="#98ff67" d="M43.8 24.5h7.2v4.0h-7.2zM51.0 28.5h7.2v4.5h-7.2zM87.0 52.5h7.2v4.5h-7.2zM87.0 61.5h7.2v4.5h-7.2zM94.2 86.0h7.2v4.0h-7.2zM87.0 90.0h7.2v4.0h-7.2zM94.2 94.0h7.2v2.5h-7.2zM101.4 111.8h7.2v4.7h-7.2zM108.6 132.1h7.2v3.5h-7.2zM108.6 135.6h7.2v4.3h-7.2zM108.6 156.3h7.2v4.3h-7.2zM101.4 169.2h7.2v4.3h-7.2zM108.6 173.5h7.2v4.3h-7.2zM108.6 186.4h7.2v4.3h-7.2zM115.8 195.0h7.2v4.3h-7.2zM130.1 216.5h7.2v4.3h-7.2zM122.9 220.8h7.2v4.3h-7.2zM122.9 225.1h7.2v4.3h-7.2zM144.5 233.7h7.2v4.3h-7.2zM122.9 238.0h7.2v4.4h-7.2zM122.9 247.4h7.2v4.5h-7.2z"/>
<path fill="#a8ff57" d="M72.6 33.0h7.2v5.0h-7.2zM72.6 38.0h7.2v5.0h-7.2zM79.8 48.0h7.2v4.5h-7.2zM79.8 70.0h7.2v4.0h-7.2zM79.8 74.0h7.2v4.0h-7.2zM87.0 82.0h7.2v4.0h-7.2zM94.2 96.5h7.2v3.5h-7.2zM94.2 100.0h7.2v3.1h-7.2zM94.2 103.1h7.2v4.7h-7.2zM94.2 120.5h7.2v2.9h-7.2zM101.4 123.4h7.2v4.4h-7.2zM94.2 127.8h7.2v4.3h-7.2zM101.4 143.4h7.2v4.3h-7.2zM101.4 160.6h7.2v4.3h-7.2zM101.4 164.9h7.2v4.3h-7.2zM108.6 177.8h7.2v4.3h-7.2zM108.6 182.1h7.2v4.3h-7.2zM108.6 190.7h7.2v4.3h-7.2zM115.8 199.3h7.2v4.3h-7.2zM115.8 203.6h7.2v4.3h-7.2zM122.9 207.9h7.2v4.3h-7.2zM122.9 212.2h7.2v4.3h-7.2zM115.8 229.4h7.2v4.3h-7.2zM137.3 242.4h7.2v5.0h-7.2zM101.4 251.9h7.2v2.8h-7.2zM65.4 254.7h7.2v3.3h-7.2z"/>
<path fill="#b8ff47" d="M43.8 28.5h7.2v4.5h-7.2zM72.6 43.0h7.2v5.0h-7.2zM79.8 57.0h7.2v4.5h-7.2zM79.8 61.5h7.2v4.5h-7.2zM72.6 66.0h7.2v4.0h-7.2zM87.0 78.0h7.2v4.0h-7.2zM87.0 86.0h7.2v4.0h-7.2zM94.2 107.8h7.2v4.0h-7.2zM94.2 111.8h7.2v4.7h-7.2zM94.2 116.5h7.2v4.0h-7.2zM101.4 132.1h7.2v3.5h-7.2zM101.4 139.9h7.2v3.5h-7.2zM101.4 147.7h7.2v4.3h-7.2zM101.4 152.0h7.2v4.3h-7.2zM101.4 156.3h7.2v4.3h-7.2zM101.4 173.5h7.2v4.3h-7.2zM101.4 186.4h7.2v4.3h-7.2zM108.6 195.0h7.2v4.3h-7.2zM122.9 216.5h7.2v4.3h-7.2zM115.8 220.8h7.2v4.3h-7.2zM115.8 225.1h7.2v4.3h-7.2zM137.3 233.7h7.2v4.3h-7.2zM115.8 238.0h7.2v4.4h-7.2zM115.8 247.4h7.2v4.5h-7.2z"/>
<path fill="#c8ff37" d="M65.4 33.0h7.2v5.0h-7.2zM65.4 38.0h7.2v5.0h-7.2zM72.6 48.0h7.2v4.5h-7.2zM79.8 52.5h7.2v4.5h-7.2zM79.8 90.0h7.2v4.0h-7.2zM87.0 94.0h7.2v2.5h-7.2zM87.0 103.1h7.2v4.7h-7.2zM94.2 123.4h7.2v4.4h-7.2zM101.4 135.6h7.2v4.3h-7.2zM94.2 160.6h7.2v4.3h-7.2zM94.2 169.2h7.2v4.3h-7.2zM101.4 177.8h7.2v4.3h-7.2zM101.4 182.1h7.2v4.3h-7.2zM108.6 199.3h7.2v4.3h-7.2zM108.6 203.6h7.2v4.3h-7.2zM115.8 207.9h7.2v4.3h-7.2zM115.8 212.2h7.2v4.3h-7.2zM108.6 229.4h7.2v4.3h-7.2zM130.1 242.4h7.2v5.0h-7.2zM94.2 251.9h7.2v2.8h-7.2z"/>
<path fill="#d9ff26" d="M65.4 43.0h7.2v5.0h-7.2zM72.6 57.0h7.2v4.5h-7.2zM72.6 61.5h7.2v4.5h-7.2zM65.4 66.0h7.2v4.0h-7.2zM72.6 70.0h7.2v4.0h-7.2zM72.6 74.0h7.2v4.0h-7.2zM79.8 78.0h7.2v4.0h-7.2zM79.8 82.0h7.2v4.0h-7.2zM87.0 96.5h7.2v3.5h-7.2zM87.0 100.0h7.2v3.1h-7.2zM87.0 107.8h7.2v4.0h-7.2zM87.0 116.5h7.2v4.0h-7.2zM87.0 120.5h7.2v2.9h-7.2zM87.0 127.8h7.2v4.3h-7.2zM94.2 139.9h7.2v3.5h-7.2zM94.2 143.4h7.2v4.3h-7.2zM94.2 147.7h7.2v4.3h-7.2zM94.2 152.0h7.2v4.3h-7.2zM94.2 164.9h7.2v4.3h-7.2zM101.4 190.7h7.2v4.3h-7.2zM101.4 195.0h7.2v4.3h-7.2zM115.8 216.5h7.2v4.3h-7.2zM108.6 220.8h7.2v4.3h-7.2zM108.6 225.1h7.2v4.3h-7.2zM130.1 233.7h7.2v4.3h-7.2zM108.6 238.0h7.2v4.4h-7.2zM108.6 247.4h7.2v4.5h-7.2zM58.2 254.7h7.2v3.3h-7.2z"/>
<path fill="#e9ff16" d="M58.2 33.0h7.2v5.0h-7.2zM58.2 38.0h7.2v5.0h-7.2zM72.6 52.5h7.2v4.5h-7.2zM79.8 86.0h7.2v4.0h-7.2zM72.6 90.0h7.2v4.0h-7.2zM79.8 94.0h7.2v2.5h-7.2zM79.8 103.1h7.2v4.7h-7.2zM87.0 111.8h7.2v4.7h-7.2zM94.2 132.1h7.2v3.5h-7.2zM94.2 135.6h7.2v4.3h-7.2zM94.2 156.3h7.2v4.3h-7.2zM87.0 169.2h7.2v4.3h-7.2zM94.2 173.5h7.2v4.3h-7.2zM94.2 177.8h7.2v4.3h-7.2zM94.2 186.4h7.2v4.3h-7.2zM101.4 199.3h7.2v4.3h-7.2zM101.4 203.6h7.2v4.3h-7.2zM108.6 207.9h7.2v4.3h-7.2zM108.6 212.2h7.2v4.3h-7.2zM101.4 229.4h7.2v4.3h-7.2zM122.9 242.4h7.2v5.0h-7.2zM87.0 251.9h7.2v2.8h-7.2z"/>
<path fill="#f9ff06" d="M58.2 43.0h7.2v5.0h-7.2zM65.4 48.0h7.2v4.5h-7.2zM65.4 57.0h7.2v4.5h-7.2zM65.4 70.0h7.2v4.0h-7.2zM65.4 74.0h7.2v4.0h-7.2zM72.6 82.0h7.2v4.0h-7.2zM79.8 96.5h7.2v3.5h-7.2zM79.8 100.0h7.2v3.1h-7.2zM79.8 120.5h7.2v2.9h-7.2zM87.0 123.4h7.2v4.4h-7.2zM79.8 127.8h7.2v4.3h-7.2zM87.0 143.4h7.2v4.3h-7.2zM87.0 160.6h7.2v4.3h-7.2zM87.0 164.9h7.2v4.3h-7.2zM94.2 182.1h7.2v4.3h-7.2zM94.2 190.7h7.2v4.3h-7.2zM94.2 195.0h7.2v4.3h-7.2zM108.6 216.5h7.2v4.3h-7.2zM101.4 220.8h7.2v4.3h-7.2zM101.4 225.1h7.2v4.3h-7.2zM122.9 233.7h7.2v4.3h-7.2zM101.4 238.0h7.2v4.4h-7.2zM101.4 247.4h7.2v4.5h-7.2z"/>
<path fill="#fff500" d="M51.0 33.0h7.2v5.0h-7.2zM51.0 38.0h7.2v5.0h-7.2zM65.4 61.5h7.2v4.5h-7.2zM58.2 66.0h7.2v4.0h-7.2zM72.6 78.0h7.2v4.0h-7.2zM72.6 86.0h7.2v4.0h-7.2zM79.8 107.8h7.2v4.0h-7.2zM79.8 111.8h7.2v4.7h-7.2zM79.8 116.5h7.2v4.0h-7.2zM87.0 132.1h7.2v3.5h-7.2zM87.0 135.6h7.2v4.3h-7.2zM87.0 139.9h7.2v3.5h-7.2zM87.0 147.7h7.2v4.3h-7.2zM87.0 152.0h7.2v4.3h-7.2zM87.0 156.3h7.2v4.3h-7.2zM79.8 169.2h7.2v4.3h-7.2zM87.0 173.5h7.2v4.3h-7.2zM87.0 186.4h7.2v4.3h-7.2zM94.2 199.3h7.2v4.3h-7.2zM101.4 212.2h7.2v4.3h-7.2zM94.2 229.4h7.2v4.3h-7.2zM115.8 242.4h7.2v5.0h-7.2zM79.8 251.9h7.2v2.8h-7.2zM51.0 254.7h7.2v3.3h-7.2z"/>
<path fill="#ffe500" d="M58.2 48.0h7.2v4.5h-7.2zM65.4 52.5h7.2v4.5h-7.2zM58.2 70.0h7.2v4.0h-7.2zM65.4 90.0h7.2v4.0h-7.2zM72.6 94.0h7.2v2.5h-7.2zM72.6 100.0h7.2v3.1h-7.2zM72.6 103.1h7.2v4.7h-7.2zM79.8 123.4h7.2v4.4h-7.2zM79.8 160.6h7.2v4.3h-7.2zM87.0 177.8h7.2v4.3h-7.2zM87.0 182.1h7.2v4.3h-7.2zM87.0 195.0h7.2v4.3h-7.2zM94.2 203.6h7.2v4.3h-7.2zM101.4 207.9h7.2v4.3h-7.2zM101.4 216.5h7.2v4.3h-7.2zM94.2 220.8h7.2v4.3h-7.2zM94.2 225.1h7.2v4.3h-7.2zM115.8 233.7h7.2v4.3h-7.2zM94.2 238.0h7.2v4.4h-7.2zM94.2 247.4h7.2v4.5h-7.2z"/>
<path fill="#ffd500" d="M43.8 33.0h7.2v5.0h-7.2zM51.0 43.0h7.2v5.0h-7.2zM58.2 57.0h7.2v4.5h-7.2zM58.2 61.5h7.2v4.5h-7.2zM51.0 66.0h7.2v4.0h-7.2zM58.2 74.0h7.2v4.0h-7.2zM65.4 78.0h7.2v4.0h-7.2zM65.4 82.0h7.2v4.0h-7.2zM72.6 96.5h7.2v3.5h-7.2zM72.6 107.8h7.2v4.0h-7.2zM72.6 111.8h7.2v4.7h-7.2zM72.6 116.5h7.2v4.0h-7.2zM72.6 120.5h7.2v2.9h-7.2zM72.6 127.8h7.2v4.3h-7.2zM79.8 132.1h7.2v3.5h-7.2zM79.8 139.9h7.2v3.5h-7.2zM79.8 143.4h7.2v4.3h-7.2zM79.8 147.7h7.2v4.3h-7.2zM79.8 152.0h7.2v4.3h-7.2zM79.8 156.3h7.2v4.3h-7.2zM79.8 164.9h7.2v4.3h-7.2zM79.8 173.5h7.2v4.3h-7.2zM79.8 186.4h7.2v4.3h-7.2zM87.0 190.7h7.2v4.3h-7.2zM87.0 199.3h7.2v4.3h-7.2zM94.2 212.2h7.2v4.3h-7.2zM87.0 229.4h7.2v4.3h-7.2zM108.6 242.4h7.2v5.0h-7.2z"/>
<path fill="#ffc400" d="M43.8 38.0h7.2v5.0h-7.2zM51.0 48.0h7.2v4.5h-7.2zM58.2 52.5h7.2v4.5h-7.2zM65.4 86.0h7.2v4.0h-7.2zM58.2 90.0h7.2v4.0h-7.2zM65.4 94.0h7.2v2.5h-7.2zM65.4 103.1h7.2v4.7h-7.2zM79.8 135.6h7.2v4.3h-7.2zM72.6 160.6h7.2v4.3h-7.2zM72.6 169.2h7.2v4.3h-7.2zM79.8 177.8h7.2v4.3h-7.2zM79.8 182.1h7.2v4.3h-7.2zM79.8 195.0h7.2v4.3h-7.2zM87.0 203.6h7.2v4.3h-7.2zM94.2 207.9h7.2v4.3h-7.2zM94.2 216.5h7.2v4.3h-7.2zM87.0 220.8h7.2v4.3h-7.2zM108.6 233.7h7.2v4.3h-7.2zM87.0 238.0h7.2v4.4h-7.2zM87.0 247.4h7.2v4.5h-7.2zM72.6 251.9h7.2v2.8h-7.2zM43.8 254.7h7.2v3.3h-7.2z"/>
<path fill="#ffb400" d="M43.8 43.0h7.2v5.0h-7.2zM51.0 57.0h7.2v4.5h-7.2zM43.8 66.0h7.2v4.0h-7.2zM51.0 70.0h7.2v4.0h-7.2zM51.0 74.0h7.2v4.0h-7.2zM58.2 82.0h7.2v4.0h-7.2zM65.4 96.5h7.2v3.5h-7.2zM65.4 100.0h7.2v3.1h-7.2zM65.4 120.5h7.2v2.9h-7.2zM72.6 123.4h7.2v4.4h-7.2zM65.4 127.8h7.2v4.3h-7.2zM72.6 143.4h7.2v4.3h-7.2zM72.6 152.0h7.2v4.3h-7.2zM72.6 164.9h7.2v4.3h-7.2zM72.6 186.4h7.2v4.3h-7.2zM79.8 190.7h7.2v4.3h-7.2zM79.8 199.3h7.2v4.3h-7.2zM87.0 212.2h7.2v4.3h-7.2zM87.0 225.1h7.2v4.3h-7.2zM101.4 242.4h7.2v5.0h-7.2z"/>
<path fill="#ffa400" d="M51.0 52.5h7.2v4.5h-7.2zM51.0 61.5h7.2v4.5h-7.2zM58.2 78.0h7.2v4.0h-7.2zM58.2 86.0h7.2v4.0h-7.2zM58.2 94.0h7.2v2.5h-7.2zM65.4 107.8h7.2v4.0h-7.2zM65.4 111.8h7.2v4.7h-7.2zM65.4 116.5h7.2v4.0h-7.2zM72.6 132.1h7.2v3.5h-7.2zM72.6 135.6h7.2v4.3h-7.2zM72.6 139.9h7.2v3.5h-7.2zM72.6 147.7h7.2v4.3h-7.2zM72.6 156.3h7.2v4.3h-7.2zM65.4 169.2h7.2v4.3h-7.2zM72.6 173.5h7.2v4.3h-7.2zM72.6 177.8h7.2v4.3h-7.2zM72.6 195.0h7.2v4.3h-7.2zM79.8 203.6h7.2v4.3h-7.2zM87.0 207.9h7.2v4.3h-7.2zM87.0 216.5h7.2v4.3h-7.2zM79.8 229.4h7.2v4.3h-7.2zM101.4 233.7h7.2v4.3h-7.2zM79.8 247.4h7.2v4.5h-7.2zM65.4 251.9h7.2v2.8h-7.2z"/>
<path fill="#ff9400" d="M43.8 48.0h7.2v4.5h-7.2zM43.8 70.0h7.2v4.0h-7.2zM51.0 90.0h7.2v4.0h-7.2zM58.2 100.0h7.2v3.1h-7.2zM58.2 103.1h7.2v4.7h-7.2zM65.4 123.4h7.2v4.4h-7.2zM65.4 143.4h7.2v4.3h-7.2zM65.4 160.6h7.2v4.3h-7.2zM65.4 164.9h7.2v4.3h-7.2zM72.6 182.1h7.2v4.3h-7.2zM72.6 190.7h7.2v4.3h-7.2zM79.8 212.2h7.2v4.3h-7.2zM79.8 220.8h7.2v4.3h-7.2zM79.8 225.1h7.2v4.3h-7.2zM79.8 238.0h7.2v4.4h-7.2zM94.2 242.4h7.2v5.0h-7.2z"/>
<path fill="#ff8400" d="M43.8 57.0h7.2v4.5h-7.2zM43.8 61.5h7.2v4.5h-7.2zM43.8 74.0h7.2v4.0h-7.2zM51.0 78.0h7.2v4.0h-7.2zM51.0 82.0h7.2v4.0h-7.2zM58.2 96.5h7.2v3.5h-7.2zM58.2 107.8h7.2v4.0h-7.2zM58.2 111.8h7.2v4.7h-7.2zM58.2 116.5h7.2v4.0h-7.2zM58.2 120.5h7.2v2.9h-7.2zM58.2 127.8h7.2v4.3h-7.2zM65.4 132.1h7.2v3.5h-7.2zM65.4 135.6h7.2v4.3h-7.2zM65.4 139.9h7.2v3.5h-7.2zM65.4 147.7h7.2v4.3h-7.2zM65.4 152.0h7.2v4.3h-7.2zM65.4 156.3h7.2v4.3h-7.2zM58.2 169.2h7.2v4.3h-7.2zM65.4 173.5h7.2v4.3h-7.2zM65.4 186.4h7.2v4.3h-7.2zM65.4 195.0h7.2v4.3h-7.2zM72.6 199.3h7.2v4.3h-7.2zM72.6 203.6h7.2v4.3h-7.2zM79.8 207.9h7.2v4.3h-7.2zM79.8 216.5h7.2v4.3h-7.2zM72.6 229.4h7.2v4.3h-7.2zM94.2 233.7h7.2v4.3h-7.2zM72.6 247.4h7.2v4.5h-7.2zM58.2 251.9h7.2v2.8h-7.2z"/>
<path fill="#ff7300" d="M43.8 52.5h7.2v4.5h-7.2zM51.0 86.0h7.2v4.0h-7.2zM43.8 90.0h7.2v4.0h-7.2zM51.0 94.0h7.2v2.5h-7.2zM51.0 103.1h7.2v4.7h-7.2zM58.2 160.6h7.2v4.3h-7.2zM65.4 177.8h7.2v4.3h-7.2zM65.4 182.1h7.2v4.3h-7.2zM72.6 212.2h7.2v4.3h-7.2zM72.6 220.8h7.2v4.3h-7.2zM72.6 225.1h7.2v4.3h-7.2zM72.6 238.0h7.2v4.4h-7.2zM87.0 242.4h7.2v5.0h-7.2z"/>
<path fill="#ff6300" d="M43.8 78.0h7.2v4.0h-7.2zM43.8 82.0h7.2v4.0h-7.2zM51.0 96.5h7.2v3.5h-7.2zM51.0 100.0h7.2v3.1h-7.2zM51.0 107.8h7.2v4.0h-7.2zM51.0 116.5h7.2v4.0h-7.2zM51.0 120.5h7.2v2.9h-7.2zM58.2 123.4h7.2v4.4h-7.2zM51.0 127.8h7.2v4.3h-7.2zM58.2 132.1h7.2v3.5h-7.2zM58.2 139.9h7.2v3.5h-7.2zM58.2 143.4h7.2v4.3h-7.2zM58.2 147.7h7.2v4.3h-7.2zM58.2 152.0h7.2v4.3h-7.2zM58.2 156.3h7.2v4.3h-7.2zM58.2 164.9h7.2v4.3h-7.2zM58.2 173.5h7.2v4.3h-7.2zM58.2 186.4h7.2v4.3h-7.2zM65.4 190.7h7.2v4.3h-7.2zM65.4 199.3h7.2v4.3h-7.2zM65.4 203.6h7.2v4.3h-7.2zM72.6 207.9h7.2v4.3h-7.2zM72.6 216.5h7.2v4.3h-7.2zM65.4 229.4h7.2v4.3h-7.2zM87.0 233.7h7.2v4.3h-7.2zM65.4 247.4h7.2v4.5h-7.2zM51.0 251.9h7.2v2.8h-7.2z"/>
<path fill="#ff5300" d="M43.8 86.0h7.2v4.0h-7.2zM43.8 94.0h7.2v2.5h-7.2zM51.0 111.8h7.2v4.7h-7.2zM58.2 135.6h7.2v4.3h-7.2zM51.0 169.2h7.2v4.3h-7.2zM58.2 177.8h7.2v4.3h-7.2zM58.2 182.1h7.2v4.3h-7.2zM58.2 195.0h7.2v4.3h-7.2zM65.4 220.8h7.2v4.3h-7.2zM65.4 225.1h7.2v4.3h-7.2zM79.8 233.7h7.2v4.3h-7.2zM65.4 238.0h7.2v4.4h-7.2zM79.8 242.4h7.2v5.0h-7.2z"/>
<path fill="#ff4300" d="M43.8 96.5h7.2v3.5h-7.2zM43.8 100.0h7.2v3.1h-7.2zM43.8 103.1h7.2v4.7h-7.2zM43.8 120.5h7.2v2.9h-7.2zM51.0 123.4h7.2v4.4h-7.2zM43.8 127.8h7.2v4.3h-7.2zM51.0 143.4h7.2v4.3h-7.2zM51.0 152.0h7.2v4.3h-7.2zM51.0 160.6h7.2v4.3h-7.2zM51.0 164.9h7.2v4.3h-7.2zM51.0 186.4h7.2v4.3h-7.2zM58.2 190.7h7.2v4.3h-7.2zM58.2 199.3h7.2v4.3h-7.2zM58.2 203.6h7.2v4.3h-7.2zM65.4 207.9h7.2v4.3h-7.2zM65.4 212.2h7.2v4.3h-7.2zM65.4 216.5h7.2v4.3h-7.2zM58.2 229.4h7.2v4.3h-7.2zM58.2 247.4h7.2v4.5h-7.2zM43.8 251.9h7.2v2.8h-7.2z"/>
<path fill="#ff3300" d="M43.8 107.8h7.2v4.0h-7.2zM43.8 111.8h7.2v4.7h-7.2zM43.8 116.5h7.2v4.0h-7.2zM51.0 132.1h7.2v3.5h-7.2zM51.0 135.6h7.2v4.3h-7.2zM51.0 139.9h7.2v3.5h-7.2zM51.0 147.7h7.2v4.3h-7.2zM51.0 156.3h7.2v4.3h-7.2zM43.8 169.2h7.2v4.3h-7.2zM51.0 173.5h7.2v4.3h-7.2zM51.0 177.8h7.2v4.3h-7.2zM51.0 195.0h7.2v4.3h-7.2zM58.2 220.8h7.2v4.3h-7.2zM58.2 225.1h7.2v4.3h-7.2zM72.6 233.7h7.2v4.3h-7.2zM58.2 238.0h7.2v4.4h-7.2zM72.6 242.4h7.2v5.0h-7.2z"/>
<path fill="#ff2200" d="M43.8 123.4h7.2v4.4h-7.2zM43.8 160.6h7.2v4.3h-7.2zM43.8 164.9h7.2v4.3h-7.2zM51.0 182.1h7.2v4.3h-7.2zM51.0 190.7h7.2v4.3h-7.2zM51.0 199.3h7.2v4.3h-7.2zM51.0 203.6h7.2v4.3h-7.2zM58.2 207.9h7.2v4.3h-7.2zM58.2 212.2h7.2v4.3h-7.2zM58.2 216.5h7.2v4.3h-7.2zM51.0 229.4h7.2v4.3h-7.2zM51.0 247.4h7.2v4.5h-7.2z"/>
<path fill="#ff1200" d="M43.8 132.1h7.2v3.5h-7.2zM43.8 135.6h7.2v4.3h-7.2zM43.8 139.9h7.2v3.5h-7.2zM43.8 143.4h7.2v4.3h-7.2zM43.8 147.7h7.2v4.3h-7.2zM43.8 152.0h7.2v4.3h-7.2zM43.8 156.3h7.2v4.3h-7.2zM43.8 173.5h7.2v4.3h-7.2zM43.8 177.8h7.2v4.3h-7.2zM43.8 186.4h7.2v4.3h-7.2zM43.8 195.0h7.2v4.3h-7.2zM51.0 220.8h7.2v4.3h-7.2zM51.0 225.1h7.2v4.3h-7.2zM65.4 233.7h7.2v4.3h-7.2zM51.0 238.0h7.2v4.4h-7.2zM65.4 242.4h7.2v5.0h-7.2z"/>
<path fill="#ff0200" d="M43.8 182.1h7.2v4.3h-7.2zM43.8 199.3h7.2v4.3h-7.2zM43.8 203.6h7.2v4.3h-7.2zM51.0 207.9h7.2v4.3h-7.2zM51.0 212.2h7.2v4.3h-7.2zM51.0 216.5h7.2v4.3h-7.2zM43.8 229.4h7.2v4.3h-7.2zM43.8 247.4h7.2v4.5h-7.2z"/>
<path fill="#f10000" d="M43.8 190.7h7.2v4.3h-7.2zM43.8 220.8h7.2v4.3h-7.2zM58.2 233.7h7.2v4.3h-7.2zM43.8 238.0h7.2v4.4h-7.2zM58.2 242.4h7.2v5.0h-7.2z"/>
<path fill="#e10000" d="M43.8 207.9h7.2v4.3h-7.2zM43.8 212.2h7.2v4.3h-7.2zM43.8 216.5h7.2v4.3h-7.2zM43.8 225.1h7.2v4.3h-7.2z"/>
<path fill="#d00000" d="M51.0 233.7h7.2v4.3h-7.2zM51.0 242.4h7.2v5.0h-7.2z"/>
<path fill="#b00000" d="M43.8 233.7h7.2v4.3h-7.2zM43.8 242.4h7.2v5.0h-7.2z"/>
</g>
</g>
<rect x="39.3" y="12.5" width="224" height="246" fill="none" stroke="#aaa" stroke-width="0.8"/>
<rect x="273.10" y="13" width="18.60" height="245" fill="url(#jet)" stroke="#777" stroke-width="0.6"/>
<line x1="287.20" y1="43.50" x2="291.70" y2="43.50" stroke="#333" stroke-width="0.8"/>
<line x1="287.20" y1="74.40" x2="291.70" y2="74.40" stroke="#333" stroke-width="0.8"/>
<line x1="287.20" y1="104.40" x2="291.70" y2="104.40" stroke="#333" stroke-width="0.8"/>
<line x1="287.20" y1="135.40" x2="291.70" y2="135.40" stroke="#333" stroke-width="0.8"/>
<line x1="287.20" y1="166.10" x2="291.70" y2="166.10" stroke="#333" stroke-width="0.8"/>
<line x1="287.20" y1="196.40" x2="291.70" y2="196.40" stroke="#333" stroke-width="0.8"/>
<line x1="287.20" y1="227.40" x2="291.70" y2="227.40" stroke="#333" stroke-width="0.8"/>
<g style="filter:blur(0.45px)">
<rect x="384.3" y="13" width="223.6" height="245" fill="#000080"/>
<g shape-rendering="crispEdges">
<path fill="#000090" d="M568.0 188.9h7.2v1.5h-7.2zM575.1 185.9h7.2v1.5h-7.2zM575.1 184.3h7.2v1.5h-7.2zM560.8 181.3h7.2v1.5h-7.2zM582.3 178.3h7.2v1.5h-7.2zM568.0 176.8h7.2v1.5h-7.2zM603.9 176.8h4.0v1.5h-4.0zM546.4 173.8h7.2v1.5h-7.2zM596.7 170.8h7.2v1.5h-7.2zM568.0 167.8h7.2v1.5h-7.2zM546.4 166.3h7.2v1.5h-7.2zM582.3 166.3h14.4v1.5h-14.4zM553.6 163.3h7.2v1.5h-7.2zM603.9 163.3h4.0v1.5h-4.0zM560.8 161.8h7.2v1.5h-7.2zM603.9 161.8h4.0v1.5h-4.0zM575.1 157.3h7.2v1.5h-7.2zM589.5 155.8h7.2v1.5h-7.2zM524.8 152.8h7.2v1.5h-7.2zM546.4 152.8h14.4v1.5h-14.4zM603.9 152.8h4.0v1.5h-4.0zM568.0 151.3h7.2v1.5h-7.2zM539.2 149.8h7.2v1.5h-7.2zM560.8 149.8h7.2v1.5h-7.2zM546.4 146.8h14.4v1.5h-14.4zM589.5 146.8h18.4v1.5h-18.4zM596.7 145.3h7.2v1.5h-7.2zM575.1 143.8h7.2v1.5h-7.2zM582.3 142.3h7.2v1.5h-7.2zM603.9 140.8h4.0v1.5h-4.0zM560.8 139.3h14.4v1.5h-14.4zM596.7 139.3h7.2v1.5h-7.2zM596.7 137.8h7.2v1.5h-7.2zM589.5 136.3h7.2v1.5h-7.2zM524.8 134.7h14.4v1.5h-14.4zM546.4 134.7h14.4v1.5h-14.4zM546.4 133.2h7.2v1.5h-7.2zM560.8 130.2h28.8v1.5h-28.8zM539.2 127.2h14.4v1.5h-14.4zM553.6 125.7h7.2v1.5h-7.2zM575.1 125.7h7.2v1.5h-7.2zM589.5 125.7h14.4v1.5h-14.4zM560.8 124.2h7.2v1.5h-7.2zM532.0 121.2h7.2v1.5h-7.2zM532.0 118.2h7.2v1.5h-7.2zM582.3 116.7h14.4v1.5h-14.4zM560.8 115.2h7.2v1.5h-7.2zM589.5 115.2h7.2v1.5h-7.2zM546.4 113.7h7.2v1.5h-7.2zM560.8 113.7h7.2v1.5h-7.2zM546.4 112.2h7.2v1.5h-7.2zM568.0 112.2h7.2v1.5h-7.2zM582.3 112.2h7.2v1.5h-7.2zM596.7 112.2h11.2v1.5h-11.2zM539.2 110.7h7.2v1.5h-7.2zM568.0 110.7h7.2v1.5h-7.2zM596.7 110.7h7.2v1.5h-7.2zM553.6 103.2h7.2v1.5h-7.2zM582.3 103.2h7.2v1.5h-7.2zM596.7 103.2h7.2v1.5h-7.2zM568.0 101.7h7.2v1.5h-7.2zM603.9 101.7h4.0v1.5h-4.0zM575.1 100.2h14.4v1.5h-14.4zM539.2 98.7h7.2v1.5h-7.2zM575.1 98.7h7.2v1.5h-7.2zM603.9 98.7h4.0v1.5h-4.0zM524.8 97.2h14.4v1.5h-14.4zM603.9 97.2h4.0v1.5h-4.0zM524.8 94.2h7.2v1.5h-7.2zM568.0 94.2h14.4v1.5h-14.4zM553.6 91.2h14.4v1.5h-14.4zM582.3 91.2h7.2v1.5h-7.2zM532.0 89.7h14.4v1.5h-14.4zM560.8 89.7h7.2v1.5h-7.2zM596.7 89.7h7.2v1.5h-7.2zM553.6 88.2h7.2v1.5h-7.2zM517.6 85.1h14.4v1.5h-14.4zM553.6 83.6h7.2v1.5h-7.2zM589.5 82.1h7.2v1.5h-7.2zM553.6 80.6h14.4v1.5h-14.4zM568.0 79.1h14.4v1.5h-14.4zM596.7 79.1h7.2v1.5h-7.2zM553.6 77.6h7.2v1.5h-7.2zM575.1 77.6h14.4v1.5h-14.4zM589.5 76.1h7.2v1.5h-7.2zM496.1 74.6h7.2v1.5h-7.2zM560.8 74.6h7.2v1.5h-7.2zM596.7 74.6h11.2v1.5h-11.2zM517.6 73.1h14.4v1.5h-14.4zM582.3 73.1h7.2v1.5h-7.2zM503.2 71.6h7.2v1.5h-7.2zM517.6 71.6h7.2v1.5h-7.2zM517.6 70.1h7.2v1.5h-7.2zM575.1 70.1h7.2v1.5h-7.2zM503.2 68.6h7.2v1.5h-7.2zM532.0 68.6h14.4v1.5h-14.4zM568.0 68.6h7.2v1.5h-7.2zM546.4 65.6h7.2v1.5h-7.2zM568.0 65.6h21.6v1.5h-21.6zM596.7 65.6h11.2v1.5h-11.2zM582.3 64.1h7.2v1.5h-7.2zM553.6 62.6h7.2v1.5h-7.2zM589.5 62.6h7.2v1.5h-7.2zM517.6 61.1h7.2v1.5h-7.2zM532.0 61.1h7.2v1.5h-7.2zM546.4 61.1h7.2v1.5h-7.2zM575.1 59.6h7.2v1.5h-7.2zM582.3 58.1h7.2v1.5h-7.2zM589.5 56.6h14.4v1.5h-14.4zM582.3 55.1h7.2v1.5h-7.2zM582.3 53.6h7.2v1.5h-7.2zM532.0 52.1h7.2v1.5h-7.2zM546.4 49.1h7.2v1.5h-7.2zM589.5 49.1h7.2v1.5h-7.2zM503.2 47.6h7.2v1.5h-7.2zM589.5 47.6h7.2v1.5h-7.2zM532.0 46.1h7.2v1.5h-7.2zM589.5 46.1h7.2v1.5h-7.2zM546.4 44.6h7.2v1.5h-7.2zM589.5 44.6h7.2v1.5h-7.2zM603.9 44.6h4.0v1.5h-4.0zM517.6 43.1h7.2v1.5h-7.2zM560.8 43.1h7.2v1.5h-7.2zM582.3 43.1h7.2v1.5h-7.2zM496.1 41.6h7.2v1.5h-7.2zM510.4 40.1h7.2v1.5h-7.2zM596.7 40.1h7.2v1.5h-7.2zM553.6 38.6h7.2v1.5h-7.2zM510.4 35.5h7.2v1.5h-7.2zM524.8 35.5h14.4v1.5h-14.4zM568.0 35.5h7.2v1.5h-7.2zM582.3 35.5h7.2v1.5h-7.2zM596.7 35.5h7.2v1.5h-7.2zM532.0 34.0h14.4v1.5h-14.4zM568.0 34.0h7.2v1.5h-7.2zM503.2 32.5h7.2v1.5h-7.2zM539.2 32.5h7.2v1.5h-7.2zM481.7 31.0h7.2v1.5h-7.2zM524.8 31.0h36.0v1.5h-36.0zM568.0 31.0h7.2v1.5h-7.2zM589.5 31.0h7.2v1.5h-7.2zM496.1 29.5h7.2v1.5h-7.2zM510.4 29.5h7.2v1.5h-7.2zM524.8 29.5h7.2v1.5h-7.2zM546.4 29.5h7.2v1.5h-7.2zM582.3 29.5h7.2v1.5h-7.2zM603.9 29.5h4.0v1.5h-4.0zM546.4 28.0h7.2v1.5h-7.2zM488.9 26.5h7.2v1.5h-7.2zM560.8 26.5h7.2v1.5h-7.2zM582.3 26.5h7.2v1.5h-7.2zM596.7 25.0h11.2v1.5h-11.2zM510.4 23.5h14.4v1.5h-14.4zM553.6 23.5h7.2v1.5h-7.2zM596.7 23.5h7.2v1.5h-7.2zM467.3 22.0h7.2v1.5h-7.2zM510.4 22.0h7.2v1.5h-7.2zM603.9 22.0h4.0v1.5h-4.0zM503.2 20.5h7.2v1.5h-7.2zM539.2 20.5h7.2v1.5h-7.2zM560.8 20.5h14.4v1.5h-14.4zM582.3 20.5h7.2v1.5h-7.2zM603.9 20.5h4.0v1.5h-4.0zM445.7 19.0h7.2v1.5h-7.2zM517.6 19.0h14.4v1.5h-14.4zM575.1 19.0h7.2v1.5h-7.2zM596.7 19.0h7.2v1.5h-7.2zM496.1 17.5h7.2v1.5h-7.2zM546.4 17.5h7.2v1.5h-7.2zM546.4 16.0h7.2v1.5h-7.2zM560.8 16.0h7.2v1.5h-7.2zM575.1 16.0h7.2v1.5h-7.2zM481.7 14.5h7.2v1.5h-7.2zM496.1 13.0h7.2v1.5h-7.2z"/>
<path fill="#0000a0" d="M596.7 206.9h7.2v1.5h-7.2zM560.8 205.4h7.2v1.5h-7.2zM582.3 205.4h14.4v1.5h-14.4zM603.9 205.4h4.0v1.5h-4.0zM532.0 196.4h7.2v1.5h-7.2zM539.2 194.9h7.2v1.5h-7.2zM568.0 191.9h7.2v1.5h-7.2zM589.5 190.4h7.2v1.5h-7.2zM575.1 188.9h7.2v1.5h-7.2zM596.7 187.4h7.2v1.5h-7.2zM582.3 185.9h7.2v1.5h-7.2zM596.7 185.9h7.2v1.5h-7.2zM560.8 184.3h7.2v1.5h-7.2zM582.3 182.8h7.2v1.5h-7.2zM553.6 181.3h7.2v1.5h-7.2zM589.5 179.8h14.4v1.5h-14.4zM596.7 178.3h7.2v1.5h-7.2zM582.3 176.8h21.6v1.5h-21.6zM560.8 172.3h7.2v1.5h-7.2zM575.1 169.3h7.2v1.5h-7.2zM589.5 169.3h14.4v1.5h-14.4zM575.1 167.8h7.2v1.5h-7.2zM589.5 167.8h7.2v1.5h-7.2zM524.8 163.3h7.2v1.5h-7.2zM546.4 163.3h7.2v1.5h-7.2zM589.5 163.3h7.2v1.5h-7.2zM539.2 161.8h7.2v1.5h-7.2zM553.6 161.8h7.2v1.5h-7.2zM560.8 160.3h7.2v1.5h-7.2zM582.3 160.3h7.2v1.5h-7.2zM603.9 157.3h4.0v1.5h-4.0zM575.1 154.3h7.2v1.5h-7.2zM596.7 154.3h7.2v1.5h-7.2zM568.0 152.8h7.2v1.5h-7.2zM589.5 152.8h14.4v1.5h-14.4zM524.8 151.3h7.2v1.5h-7.2zM603.9 151.3h4.0v1.5h-4.0zM560.8 148.3h7.2v1.5h-7.2zM575.1 146.8h7.2v1.5h-7.2zM560.8 145.3h7.2v1.5h-7.2zM575.1 145.3h7.2v1.5h-7.2zM589.5 145.3h7.2v1.5h-7.2zM603.9 145.3h4.0v1.5h-4.0zM568.0 143.8h7.2v1.5h-7.2zM553.6 140.8h28.8v1.5h-28.8zM575.1 137.8h7.2v1.5h-7.2zM546.4 136.3h14.4v1.5h-14.4zM575.1 134.7h7.2v1.5h-7.2zM532.0 133.2h7.2v1.5h-7.2zM568.0 133.2h7.2v1.5h-7.2zM589.5 133.2h18.4v1.5h-18.4zM568.0 131.7h7.2v1.5h-7.2zM510.4 127.2h7.2v1.5h-7.2zM532.0 127.2h7.2v1.5h-7.2zM524.8 125.7h14.4v1.5h-14.4zM546.4 125.7h7.2v1.5h-7.2zM568.0 124.2h7.2v1.5h-7.2zM589.5 122.7h7.2v1.5h-7.2zM603.9 122.7h4.0v1.5h-4.0zM546.4 121.2h7.2v1.5h-7.2zM575.1 119.7h7.2v1.5h-7.2zM539.2 118.2h7.2v1.5h-7.2zM560.8 118.2h7.2v1.5h-7.2zM575.1 118.2h7.2v1.5h-7.2zM603.9 118.2h4.0v1.5h-4.0zM546.4 116.7h7.2v1.5h-7.2zM568.0 116.7h14.4v1.5h-14.4zM546.4 115.2h7.2v1.5h-7.2zM596.7 115.2h7.2v1.5h-7.2zM589.5 113.7h7.2v1.5h-7.2zM532.0 112.2h14.4v1.5h-14.4zM560.8 112.2h7.2v1.5h-7.2zM575.1 110.7h7.2v1.5h-7.2zM560.8 109.2h14.4v1.5h-14.4zM582.3 109.2h7.2v1.5h-7.2zM596.7 109.2h7.2v1.5h-7.2zM546.4 107.7h7.2v1.5h-7.2zM546.4 106.2h7.2v1.5h-7.2zM568.0 106.2h7.2v1.5h-7.2zM596.7 106.2h7.2v1.5h-7.2zM596.7 104.7h7.2v1.5h-7.2zM539.2 103.2h7.2v1.5h-7.2zM589.5 103.2h7.2v1.5h-7.2zM539.2 100.2h14.4v1.5h-14.4zM560.8 100.2h7.2v1.5h-7.2zM589.5 100.2h7.2v1.5h-7.2zM524.8 98.7h7.2v1.5h-7.2zM510.4 97.2h7.2v1.5h-7.2zM539.2 97.2h7.2v1.5h-7.2zM568.0 95.7h7.2v1.5h-7.2zM596.7 95.7h7.2v1.5h-7.2zM524.8 92.7h7.2v1.5h-7.2zM546.4 92.7h14.4v1.5h-14.4zM532.0 91.2h7.2v1.5h-7.2zM524.8 89.7h7.2v1.5h-7.2zM582.3 89.7h7.2v1.5h-7.2zM568.0 86.7h14.4v1.5h-14.4zM488.9 85.1h7.2v1.5h-7.2zM517.6 83.6h7.2v1.5h-7.2zM539.2 82.1h7.2v1.5h-7.2zM553.6 82.1h14.4v1.5h-14.4zM582.3 82.1h7.2v1.5h-7.2zM517.6 80.6h7.2v1.5h-7.2zM546.4 80.6h7.2v1.5h-7.2zM568.0 80.6h7.2v1.5h-7.2zM589.5 79.1h7.2v1.5h-7.2zM503.2 77.6h7.2v1.5h-7.2zM517.6 77.6h7.2v1.5h-7.2zM560.8 77.6h7.2v1.5h-7.2zM596.7 77.6h11.2v1.5h-11.2zM517.6 76.1h7.2v1.5h-7.2zM524.8 74.6h7.2v1.5h-7.2zM568.0 74.6h7.2v1.5h-7.2zM582.3 74.6h14.4v1.5h-14.4zM575.1 71.6h7.2v1.5h-7.2zM582.3 70.1h7.2v1.5h-7.2zM603.9 70.1h4.0v1.5h-4.0zM546.4 68.6h7.2v1.5h-7.2zM596.7 68.6h7.2v1.5h-7.2zM553.6 67.1h14.4v1.5h-14.4zM575.1 67.1h14.4v1.5h-14.4zM524.8 65.6h14.4v1.5h-14.4zM560.8 65.6h7.2v1.5h-7.2zM589.5 65.6h7.2v1.5h-7.2zM589.5 64.1h14.4v1.5h-14.4zM510.4 62.6h7.2v1.5h-7.2zM546.4 62.6h7.2v1.5h-7.2zM524.8 61.1h7.2v1.5h-7.2zM539.2 61.1h7.2v1.5h-7.2zM596.7 61.1h7.2v1.5h-7.2zM532.0 59.6h7.2v1.5h-7.2zM568.0 59.6h7.2v1.5h-7.2zM589.5 59.6h7.2v1.5h-7.2zM503.2 58.1h14.4v1.5h-14.4zM575.1 58.1h7.2v1.5h-7.2zM596.7 58.1h7.2v1.5h-7.2zM510.4 55.1h7.2v1.5h-7.2zM532.0 55.1h21.6v1.5h-21.6zM575.1 55.1h7.2v1.5h-7.2zM488.9 52.1h7.2v1.5h-7.2zM546.4 52.1h7.2v1.5h-7.2zM532.0 49.1h7.2v1.5h-7.2zM560.8 49.1h7.2v1.5h-7.2zM524.8 46.1h7.2v1.5h-7.2zM510.4 44.6h7.2v1.5h-7.2zM553.6 44.6h14.4v1.5h-14.4zM575.1 44.6h7.2v1.5h-7.2zM503.2 43.1h7.2v1.5h-7.2zM524.8 43.1h14.4v1.5h-14.4zM589.5 43.1h7.2v1.5h-7.2zM481.7 41.6h7.2v1.5h-7.2zM532.0 41.6h7.2v1.5h-7.2zM582.3 41.6h7.2v1.5h-7.2zM488.9 40.1h7.2v1.5h-7.2zM510.4 38.6h7.2v1.5h-7.2zM539.2 38.6h7.2v1.5h-7.2zM496.1 37.0h7.2v1.5h-7.2zM517.6 37.0h7.2v1.5h-7.2zM532.0 37.0h7.2v1.5h-7.2zM582.3 37.0h7.2v1.5h-7.2zM603.9 37.0h4.0v1.5h-4.0zM496.1 35.5h7.2v1.5h-7.2zM553.6 34.0h7.2v1.5h-7.2zM575.1 34.0h7.2v1.5h-7.2zM589.5 34.0h7.2v1.5h-7.2zM467.3 32.5h7.2v1.5h-7.2zM517.6 32.5h7.2v1.5h-7.2zM603.9 32.5h4.0v1.5h-4.0zM496.1 31.0h21.6v1.5h-21.6zM503.2 29.5h7.2v1.5h-7.2zM517.6 29.5h7.2v1.5h-7.2zM539.2 29.5h7.2v1.5h-7.2zM517.6 28.0h14.4v1.5h-14.4zM481.7 26.5h7.2v1.5h-7.2zM496.1 26.5h7.2v1.5h-7.2zM510.4 26.5h7.2v1.5h-7.2zM603.9 26.5h4.0v1.5h-4.0zM517.6 25.0h14.4v1.5h-14.4zM539.2 25.0h21.6v1.5h-21.6zM568.0 25.0h7.2v1.5h-7.2zM582.3 25.0h7.2v1.5h-7.2zM539.2 23.5h7.2v1.5h-7.2zM568.0 23.5h14.4v1.5h-14.4zM474.5 22.0h7.2v1.5h-7.2zM467.3 20.5h7.2v1.5h-7.2zM553.6 20.5h7.2v1.5h-7.2zM575.1 20.5h7.2v1.5h-7.2zM596.7 20.5h7.2v1.5h-7.2zM546.4 19.0h21.6v1.5h-21.6zM582.3 19.0h7.2v1.5h-7.2zM384.3 17.5h3.9v1.5h-3.9zM481.7 17.5h7.2v1.5h-7.2zM510.4 17.5h7.2v1.5h-7.2zM575.1 17.5h7.2v1.5h-7.2zM603.9 17.5h4.0v1.5h-4.0zM539.2 16.0h7.2v1.5h-7.2zM589.5 16.0h14.4v1.5h-14.4zM488.9 14.5h14.4v1.5h-14.4zM539.2 14.5h7.2v1.5h-7.2zM568.0 14.5h14.4v1.5h-14.4zM603.9 14.5h4.0v1.5h-4.0zM481.7 13.0h7.2v1.5h-7.2zM503.2 13.0h14.4v1.5h-14.4zM524.8 13.0h28.8v1.5h-28.8z"/>
<path fill="#0000b0" d="M596.7 229.4h7.2v1.5h-7.2zM539.2 205.4h7.2v1.5h-7.2zM575.1 205.4h7.2v1.5h-7.2zM568.0 203.9h7.2v1.5h-7.2zM596.7 203.9h7.2v1.5h-7.2zM582.3 197.9h7.2v1.5h-7.2zM596.7 196.4h7.2v1.5h-7.2zM568.0 194.9h7.2v1.5h-7.2zM596.7 194.9h7.2v1.5h-7.2zM568.0 193.4h7.2v1.5h-7.2zM553.6 191.9h7.2v1.5h-7.2zM539.2 188.9h7.2v1.5h-7.2zM582.3 187.4h7.2v1.5h-7.2zM582.3 184.3h7.2v1.5h-7.2zM568.0 181.3h7.2v1.5h-7.2zM582.3 179.8h7.2v1.5h-7.2zM539.2 176.8h7.2v1.5h-7.2zM568.0 175.3h7.2v1.5h-7.2zM589.5 175.3h7.2v1.5h-7.2zM575.1 173.8h14.4v1.5h-14.4zM596.7 173.8h7.2v1.5h-7.2zM589.5 170.8h7.2v1.5h-7.2zM603.9 170.8h4.0v1.5h-4.0zM560.8 169.3h14.4v1.5h-14.4zM582.3 169.3h7.2v1.5h-7.2zM568.0 166.3h7.2v1.5h-7.2zM568.0 164.8h21.6v1.5h-21.6zM532.0 161.8h7.2v1.5h-7.2zM546.4 161.8h7.2v1.5h-7.2zM582.3 161.8h14.4v1.5h-14.4zM589.5 158.8h14.4v1.5h-14.4zM582.3 157.3h7.2v1.5h-7.2zM553.6 155.8h7.2v1.5h-7.2zM603.9 155.8h4.0v1.5h-4.0zM532.0 154.3h7.2v1.5h-7.2zM582.3 154.3h7.2v1.5h-7.2zM596.7 151.3h7.2v1.5h-7.2zM568.0 149.8h7.2v1.5h-7.2zM596.7 149.8h7.2v1.5h-7.2zM539.2 148.3h7.2v1.5h-7.2zM589.5 148.3h14.4v1.5h-14.4zM532.0 145.3h7.2v1.5h-7.2zM546.4 145.3h7.2v1.5h-7.2zM532.0 143.8h7.2v1.5h-7.2zM596.7 140.8h7.2v1.5h-7.2zM524.8 139.3h7.2v1.5h-7.2zM546.4 139.3h7.2v1.5h-7.2zM589.5 137.8h7.2v1.5h-7.2zM560.8 136.3h7.2v1.5h-7.2zM596.7 136.3h7.2v1.5h-7.2zM539.2 134.7h7.2v1.5h-7.2zM560.8 134.7h7.2v1.5h-7.2zM582.3 134.7h7.2v1.5h-7.2zM603.9 134.7h4.0v1.5h-4.0zM539.2 133.2h7.2v1.5h-7.2zM560.8 133.2h7.2v1.5h-7.2zM546.4 131.7h21.6v1.5h-21.6zM589.5 131.7h7.2v1.5h-7.2zM589.5 130.2h7.2v1.5h-7.2zM568.0 128.7h14.4v1.5h-14.4zM553.6 127.2h7.2v1.5h-7.2zM596.7 127.2h7.2v1.5h-7.2zM517.6 125.7h7.2v1.5h-7.2zM539.2 125.7h7.2v1.5h-7.2zM560.8 125.7h14.4v1.5h-14.4zM582.3 125.7h7.2v1.5h-7.2zM575.1 124.2h14.4v1.5h-14.4zM539.2 122.7h7.2v1.5h-7.2zM560.8 122.7h14.4v1.5h-14.4zM596.7 122.7h7.2v1.5h-7.2zM553.6 121.2h7.2v1.5h-7.2zM575.1 121.2h14.4v1.5h-14.4zM524.8 118.2h7.2v1.5h-7.2zM553.6 118.2h7.2v1.5h-7.2zM589.5 118.2h14.4v1.5h-14.4zM553.6 116.7h7.2v1.5h-7.2zM603.9 115.2h4.0v1.5h-4.0zM524.8 113.7h7.2v1.5h-7.2zM553.6 110.7h7.2v1.5h-7.2zM582.3 110.7h7.2v1.5h-7.2zM546.4 109.2h7.2v1.5h-7.2zM524.8 106.2h14.4v1.5h-14.4zM553.6 106.2h7.2v1.5h-7.2zM582.3 106.2h7.2v1.5h-7.2zM532.0 104.7h7.2v1.5h-7.2zM546.4 104.7h7.2v1.5h-7.2zM560.8 104.7h7.2v1.5h-7.2zM524.8 103.2h7.2v1.5h-7.2zM546.4 103.2h7.2v1.5h-7.2zM603.9 103.2h4.0v1.5h-4.0zM546.4 101.7h7.2v1.5h-7.2zM560.8 101.7h7.2v1.5h-7.2zM596.7 101.7h7.2v1.5h-7.2zM596.7 100.2h7.2v1.5h-7.2zM546.4 98.7h7.2v1.5h-7.2zM589.5 97.2h7.2v1.5h-7.2zM510.4 95.7h7.2v1.5h-7.2zM539.2 95.7h7.2v1.5h-7.2zM603.9 95.7h4.0v1.5h-4.0zM532.0 94.2h7.2v1.5h-7.2zM496.1 92.7h7.2v1.5h-7.2zM582.3 92.7h7.2v1.5h-7.2zM517.6 91.2h7.2v1.5h-7.2zM603.9 91.2h4.0v1.5h-4.0zM568.0 89.7h7.2v1.5h-7.2zM532.0 88.2h7.2v1.5h-7.2zM510.4 86.7h7.2v1.5h-7.2zM539.2 86.7h7.2v1.5h-7.2zM582.3 86.7h7.2v1.5h-7.2zM496.1 83.6h7.2v1.5h-7.2zM510.4 82.1h28.8v1.5h-28.8zM575.1 80.6h7.2v1.5h-7.2zM589.5 77.6h7.2v1.5h-7.2zM524.8 76.1h36.0v1.5h-36.0zM575.1 76.1h7.2v1.5h-7.2zM546.4 74.6h7.2v1.5h-7.2zM575.1 74.6h7.2v1.5h-7.2zM553.6 73.1h7.2v1.5h-7.2zM589.5 73.1h14.4v1.5h-14.4zM524.8 71.6h14.4v1.5h-14.4zM546.4 71.6h14.4v1.5h-14.4zM568.0 71.6h7.2v1.5h-7.2zM603.9 71.6h4.0v1.5h-4.0zM524.8 70.1h7.2v1.5h-7.2zM553.6 70.1h14.4v1.5h-14.4zM510.4 68.6h14.4v1.5h-14.4zM488.9 67.1h7.2v1.5h-7.2zM546.4 67.1h7.2v1.5h-7.2zM568.0 67.1h7.2v1.5h-7.2zM496.1 65.6h7.2v1.5h-7.2zM539.2 64.1h14.4v1.5h-14.4zM539.2 62.6h7.2v1.5h-7.2zM582.3 62.6h7.2v1.5h-7.2zM596.7 62.6h7.2v1.5h-7.2zM582.3 59.6h7.2v1.5h-7.2zM596.7 59.6h7.2v1.5h-7.2zM517.6 58.1h7.2v1.5h-7.2zM589.5 58.1h7.2v1.5h-7.2zM510.4 56.6h14.4v1.5h-14.4zM596.7 55.1h7.2v1.5h-7.2zM575.1 53.6h7.2v1.5h-7.2zM589.5 53.6h7.2v1.5h-7.2zM481.7 52.1h7.2v1.5h-7.2zM510.4 52.1h7.2v1.5h-7.2zM539.2 52.1h7.2v1.5h-7.2zM568.0 50.6h7.2v1.5h-7.2zM582.3 50.6h7.2v1.5h-7.2zM510.4 49.1h21.6v1.5h-21.6zM596.7 49.1h7.2v1.5h-7.2zM496.1 47.6h7.2v1.5h-7.2zM546.4 47.6h7.2v1.5h-7.2zM596.7 47.6h7.2v1.5h-7.2zM503.2 46.1h7.2v1.5h-7.2zM539.2 46.1h7.2v1.5h-7.2zM560.8 46.1h7.2v1.5h-7.2zM603.9 46.1h4.0v1.5h-4.0zM546.4 43.1h7.2v1.5h-7.2zM575.1 43.1h7.2v1.5h-7.2zM596.7 43.1h7.2v1.5h-7.2zM546.4 41.6h7.2v1.5h-7.2zM575.1 41.6h7.2v1.5h-7.2zM496.1 40.1h7.2v1.5h-7.2zM532.0 40.1h7.2v1.5h-7.2zM503.2 38.6h7.2v1.5h-7.2zM560.8 38.6h7.2v1.5h-7.2zM575.1 38.6h7.2v1.5h-7.2zM481.7 37.0h14.4v1.5h-14.4zM503.2 37.0h14.4v1.5h-14.4zM546.4 37.0h7.2v1.5h-7.2zM524.8 34.0h7.2v1.5h-7.2zM546.4 34.0h7.2v1.5h-7.2zM560.8 34.0h7.2v1.5h-7.2zM582.3 34.0h7.2v1.5h-7.2zM488.9 32.5h14.4v1.5h-14.4zM589.5 32.5h7.2v1.5h-7.2zM517.6 31.0h7.2v1.5h-7.2zM575.1 31.0h14.4v1.5h-14.4zM553.6 29.5h7.2v1.5h-7.2zM496.1 28.0h21.6v1.5h-21.6zM539.2 28.0h7.2v1.5h-7.2zM568.0 28.0h14.4v1.5h-14.4zM532.0 25.0h7.2v1.5h-7.2zM575.1 25.0h7.2v1.5h-7.2zM474.5 23.5h14.4v1.5h-14.4zM532.0 23.5h7.2v1.5h-7.2zM560.8 23.5h7.2v1.5h-7.2zM445.7 22.0h7.2v1.5h-7.2zM560.8 22.0h7.2v1.5h-7.2zM474.5 20.5h7.2v1.5h-7.2zM467.3 19.0h7.2v1.5h-7.2zM481.7 19.0h14.4v1.5h-14.4zM539.2 19.0h7.2v1.5h-7.2zM445.7 17.5h7.2v1.5h-7.2zM467.3 17.5h7.2v1.5h-7.2zM524.8 17.5h7.2v1.5h-7.2zM517.6 16.0h7.2v1.5h-7.2zM553.6 16.0h7.2v1.5h-7.2zM474.5 14.5h7.2v1.5h-7.2zM532.0 14.5h7.2v1.5h-7.2zM596.7 14.5h7.2v1.5h-7.2zM467.3 13.0h7.2v1.5h-7.2zM488.9 13.0h7.2v1.5h-7.2zM560.8 13.0h14.4v1.5h-14.4zM582.3 13.0h7.2v1.5h-7.2zM596.7 13.0h7.2v1.5h-7.2z"/>
<path fill="#0000c0" d="M596.7 237.0h7.2v1.5h-7.2zM589.5 230.9h7.2v1.5h-7.2zM524.8 229.4h7.2v1.5h-7.2zM582.3 217.4h7.2v1.5h-7.2zM575.1 214.4h14.4v1.5h-14.4zM568.0 206.9h7.2v1.5h-7.2zM582.3 206.9h7.2v1.5h-7.2zM568.0 205.4h7.2v1.5h-7.2zM596.7 205.4h7.2v1.5h-7.2zM553.6 203.9h7.2v1.5h-7.2zM589.5 203.9h7.2v1.5h-7.2zM553.6 202.4h7.2v1.5h-7.2zM568.0 202.4h7.2v1.5h-7.2zM582.3 202.4h7.2v1.5h-7.2zM596.7 200.9h7.2v1.5h-7.2zM575.1 196.4h7.2v1.5h-7.2zM589.5 196.4h7.2v1.5h-7.2zM603.9 196.4h4.0v1.5h-4.0zM575.1 194.9h14.4v1.5h-14.4zM575.1 190.4h7.2v1.5h-7.2zM603.9 188.9h4.0v1.5h-4.0zM560.8 187.4h7.2v1.5h-7.2zM589.5 187.4h7.2v1.5h-7.2zM553.6 185.9h7.2v1.5h-7.2zM568.0 185.9h7.2v1.5h-7.2zM596.7 184.3h7.2v1.5h-7.2zM560.8 182.8h7.2v1.5h-7.2zM575.1 182.8h7.2v1.5h-7.2zM532.0 181.3h7.2v1.5h-7.2zM575.1 181.3h7.2v1.5h-7.2zM603.9 181.3h4.0v1.5h-4.0zM532.0 179.8h7.2v1.5h-7.2zM603.9 179.8h4.0v1.5h-4.0zM589.5 178.3h7.2v1.5h-7.2zM603.9 178.3h4.0v1.5h-4.0zM553.6 175.3h7.2v1.5h-7.2zM582.3 175.3h7.2v1.5h-7.2zM568.0 173.8h7.2v1.5h-7.2zM603.9 173.8h4.0v1.5h-4.0zM575.1 172.3h21.6v1.5h-21.6zM603.9 172.3h4.0v1.5h-4.0zM560.8 170.8h7.2v1.5h-7.2zM546.4 169.3h14.4v1.5h-14.4zM560.8 167.8h7.2v1.5h-7.2zM539.2 166.3h7.2v1.5h-7.2zM560.8 164.8h7.2v1.5h-7.2zM524.8 161.8h7.2v1.5h-7.2zM546.4 160.3h14.4v1.5h-14.4zM575.1 160.3h7.2v1.5h-7.2zM568.0 158.8h7.2v1.5h-7.2zM596.7 157.3h7.2v1.5h-7.2zM539.2 155.8h7.2v1.5h-7.2zM560.8 155.8h21.6v1.5h-21.6zM596.7 155.8h7.2v1.5h-7.2zM539.2 152.8h7.2v1.5h-7.2zM575.1 152.8h14.4v1.5h-14.4zM539.2 151.3h7.2v1.5h-7.2zM546.4 149.8h14.4v1.5h-14.4zM575.1 149.8h14.4v1.5h-14.4zM532.0 148.3h7.2v1.5h-7.2zM539.2 146.8h7.2v1.5h-7.2zM582.3 146.8h7.2v1.5h-7.2zM510.4 143.8h7.2v1.5h-7.2zM582.3 143.8h14.4v1.5h-14.4zM524.8 142.3h7.2v1.5h-7.2zM553.6 142.3h7.2v1.5h-7.2zM596.7 142.3h7.2v1.5h-7.2zM539.2 139.3h7.2v1.5h-7.2zM553.6 139.3h7.2v1.5h-7.2zM539.2 137.8h7.2v1.5h-7.2zM517.6 133.2h14.4v1.5h-14.4zM553.6 133.2h7.2v1.5h-7.2zM532.0 131.7h7.2v1.5h-7.2zM596.7 131.7h11.2v1.5h-11.2zM517.6 130.2h14.4v1.5h-14.4zM539.2 130.2h7.2v1.5h-7.2zM524.8 128.7h7.2v1.5h-7.2zM560.8 128.7h7.2v1.5h-7.2zM589.5 128.7h14.4v1.5h-14.4zM603.9 125.7h4.0v1.5h-4.0zM553.6 124.2h7.2v1.5h-7.2zM596.7 124.2h7.2v1.5h-7.2zM532.0 122.7h7.2v1.5h-7.2zM575.1 122.7h7.2v1.5h-7.2zM560.8 121.2h14.4v1.5h-14.4zM596.7 121.2h7.2v1.5h-7.2zM517.6 119.7h7.2v1.5h-7.2zM546.4 119.7h21.6v1.5h-21.6zM589.5 119.7h14.4v1.5h-14.4zM524.8 116.7h14.4v1.5h-14.4zM517.6 115.2h7.2v1.5h-7.2zM532.0 115.2h7.2v1.5h-7.2zM524.8 112.2h7.2v1.5h-7.2zM524.8 110.7h14.4v1.5h-14.4zM503.2 109.2h7.2v1.5h-7.2zM532.0 109.2h14.4v1.5h-14.4zM553.6 109.2h7.2v1.5h-7.2zM603.9 109.2h4.0v1.5h-4.0zM524.8 107.7h14.4v1.5h-14.4zM575.1 106.2h7.2v1.5h-7.2zM589.5 106.2h7.2v1.5h-7.2zM553.6 104.7h7.2v1.5h-7.2zM532.0 101.7h14.4v1.5h-14.4zM575.1 101.7h7.2v1.5h-7.2zM553.6 100.2h7.2v1.5h-7.2zM553.6 97.2h7.2v1.5h-7.2zM575.1 97.2h7.2v1.5h-7.2zM560.8 95.7h7.2v1.5h-7.2zM503.2 94.2h7.2v1.5h-7.2zM603.9 94.2h4.0v1.5h-4.0zM510.4 92.7h7.2v1.5h-7.2zM532.0 92.7h7.2v1.5h-7.2zM560.8 92.7h7.2v1.5h-7.2zM596.7 92.7h11.2v1.5h-11.2zM503.2 91.2h7.2v1.5h-7.2zM539.2 91.2h7.2v1.5h-7.2zM603.9 89.7h4.0v1.5h-4.0zM539.2 88.2h7.2v1.5h-7.2zM560.8 88.2h7.2v1.5h-7.2zM582.3 88.2h14.4v1.5h-14.4zM589.5 86.7h14.4v1.5h-14.4zM510.4 85.1h7.2v1.5h-7.2zM532.0 83.6h7.2v1.5h-7.2zM496.1 82.1h7.2v1.5h-7.2zM596.7 82.1h7.2v1.5h-7.2zM596.7 80.6h7.2v1.5h-7.2zM524.8 79.1h7.2v1.5h-7.2zM539.2 79.1h14.4v1.5h-14.4zM582.3 79.1h7.2v1.5h-7.2zM503.2 76.1h7.2v1.5h-7.2zM603.9 76.1h4.0v1.5h-4.0zM503.2 74.6h7.2v1.5h-7.2zM568.0 73.1h7.2v1.5h-7.2zM603.9 73.1h4.0v1.5h-4.0zM510.4 71.6h7.2v1.5h-7.2zM582.3 71.6h7.2v1.5h-7.2zM496.1 70.1h7.2v1.5h-7.2zM481.7 68.6h7.2v1.5h-7.2zM524.8 68.6h7.2v1.5h-7.2zM575.1 68.6h7.2v1.5h-7.2zM603.9 67.1h4.0v1.5h-4.0zM568.0 64.1h7.2v1.5h-7.2zM524.8 62.6h14.4v1.5h-14.4zM560.8 61.1h7.2v1.5h-7.2zM582.3 61.1h14.4v1.5h-14.4zM517.6 59.6h14.4v1.5h-14.4zM546.4 59.6h21.6v1.5h-21.6zM603.9 58.1h4.0v1.5h-4.0zM496.1 53.6h7.2v1.5h-7.2zM603.9 53.6h4.0v1.5h-4.0zM503.2 52.1h7.2v1.5h-7.2zM603.9 52.1h4.0v1.5h-4.0zM532.0 50.6h7.2v1.5h-7.2zM575.1 50.6h7.2v1.5h-7.2zM539.2 49.1h7.2v1.5h-7.2zM568.0 46.1h14.4v1.5h-14.4zM596.7 46.1h7.2v1.5h-7.2zM481.7 44.6h7.2v1.5h-7.2zM503.2 44.6h7.2v1.5h-7.2zM517.6 44.6h7.2v1.5h-7.2zM532.0 44.6h14.4v1.5h-14.4zM582.3 44.6h7.2v1.5h-7.2zM496.1 43.1h7.2v1.5h-7.2zM568.0 43.1h7.2v1.5h-7.2zM568.0 41.6h7.2v1.5h-7.2zM481.7 40.1h7.2v1.5h-7.2zM582.3 40.1h7.2v1.5h-7.2zM603.9 40.1h4.0v1.5h-4.0zM488.9 38.6h7.2v1.5h-7.2zM517.6 38.6h7.2v1.5h-7.2zM517.6 35.5h7.2v1.5h-7.2zM503.2 34.0h7.2v1.5h-7.2zM517.6 34.0h7.2v1.5h-7.2zM481.7 32.5h7.2v1.5h-7.2zM488.9 31.0h7.2v1.5h-7.2zM560.8 31.0h7.2v1.5h-7.2zM474.5 29.5h7.2v1.5h-7.2zM488.9 28.0h7.2v1.5h-7.2zM603.9 28.0h4.0v1.5h-4.0zM539.2 26.5h7.2v1.5h-7.2zM575.1 26.5h7.2v1.5h-7.2zM503.2 25.0h14.4v1.5h-14.4zM445.7 23.5h7.2v1.5h-7.2zM488.9 23.5h7.2v1.5h-7.2zM582.3 23.5h7.2v1.5h-7.2zM474.5 19.0h7.2v1.5h-7.2zM417.0 17.5h7.2v1.5h-7.2zM532.0 17.5h7.2v1.5h-7.2zM445.7 16.0h7.2v1.5h-7.2zM488.9 16.0h7.2v1.5h-7.2zM510.4 16.0h7.2v1.5h-7.2zM524.8 16.0h14.4v1.5h-14.4zM568.0 16.0h7.2v1.5h-7.2zM503.2 14.5h7.2v1.5h-7.2z"/>
<path fill="#0000d0" d="M575.1 238.5h7.2v1.5h-7.2zM575.1 235.5h7.2v1.5h-7.2zM553.6 224.9h7.2v1.5h-7.2zM575.1 220.4h7.2v1.5h-7.2zM589.5 220.4h7.2v1.5h-7.2zM589.5 218.9h7.2v1.5h-7.2zM596.7 214.4h7.2v1.5h-7.2zM553.6 208.4h7.2v1.5h-7.2zM553.6 205.4h7.2v1.5h-7.2zM603.9 203.9h4.0v1.5h-4.0zM560.8 202.4h7.2v1.5h-7.2zM582.3 200.9h7.2v1.5h-7.2zM560.8 199.4h14.4v1.5h-14.4zM596.7 199.4h7.2v1.5h-7.2zM560.8 196.4h14.4v1.5h-14.4zM589.5 194.9h7.2v1.5h-7.2zM603.9 194.9h4.0v1.5h-4.0zM596.7 193.4h11.2v1.5h-11.2zM582.3 191.9h7.2v1.5h-7.2zM517.6 188.9h21.6v1.5h-21.6zM546.4 188.9h7.2v1.5h-7.2zM589.5 188.9h14.4v1.5h-14.4zM568.0 187.4h7.2v1.5h-7.2zM603.9 187.4h4.0v1.5h-4.0zM560.8 185.9h7.2v1.5h-7.2zM589.5 185.9h7.2v1.5h-7.2zM539.2 184.3h7.2v1.5h-7.2zM603.9 184.3h4.0v1.5h-4.0zM517.6 181.3h7.2v1.5h-7.2zM539.2 181.3h14.4v1.5h-14.4zM539.2 179.8h7.2v1.5h-7.2zM553.6 179.8h7.2v1.5h-7.2zM575.1 179.8h7.2v1.5h-7.2zM539.2 178.3h7.2v1.5h-7.2zM524.8 176.8h7.2v1.5h-7.2zM546.4 176.8h7.2v1.5h-7.2zM575.1 175.3h7.2v1.5h-7.2zM553.6 173.8h14.4v1.5h-14.4zM589.5 173.8h7.2v1.5h-7.2zM532.0 172.3h7.2v1.5h-7.2zM568.0 170.8h7.2v1.5h-7.2zM582.3 170.8h7.2v1.5h-7.2zM603.9 169.3h4.0v1.5h-4.0zM524.8 167.8h14.4v1.5h-14.4zM603.9 167.8h4.0v1.5h-4.0zM553.6 164.8h7.2v1.5h-7.2zM517.6 163.3h7.2v1.5h-7.2zM532.0 163.3h7.2v1.5h-7.2zM539.2 160.3h7.2v1.5h-7.2zM603.9 160.3h4.0v1.5h-4.0zM560.8 158.8h7.2v1.5h-7.2zM568.0 154.3h7.2v1.5h-7.2zM532.0 152.8h7.2v1.5h-7.2zM546.4 151.3h7.2v1.5h-7.2zM560.8 151.3h7.2v1.5h-7.2zM524.8 148.3h7.2v1.5h-7.2zM560.8 146.8h7.2v1.5h-7.2zM517.6 145.3h7.2v1.5h-7.2zM539.2 145.3h7.2v1.5h-7.2zM539.2 143.8h28.8v1.5h-28.8zM560.8 142.3h7.2v1.5h-7.2zM575.1 142.3h7.2v1.5h-7.2zM589.5 142.3h7.2v1.5h-7.2zM517.6 139.3h7.2v1.5h-7.2zM524.8 137.8h7.2v1.5h-7.2zM568.0 137.8h7.2v1.5h-7.2zM603.9 137.8h4.0v1.5h-4.0zM517.6 136.3h7.2v1.5h-7.2zM524.8 131.7h7.2v1.5h-7.2zM575.1 131.7h7.2v1.5h-7.2zM546.4 130.2h7.2v1.5h-7.2zM603.9 130.2h4.0v1.5h-4.0zM582.3 128.7h7.2v1.5h-7.2zM546.4 124.2h7.2v1.5h-7.2zM524.8 122.7h7.2v1.5h-7.2zM532.0 119.7h7.2v1.5h-7.2zM582.3 119.7h7.2v1.5h-7.2zM603.9 119.7h4.0v1.5h-4.0zM517.6 118.2h7.2v1.5h-7.2zM546.4 118.2h7.2v1.5h-7.2zM510.4 116.7h7.2v1.5h-7.2zM560.8 116.7h7.2v1.5h-7.2zM510.4 110.7h7.2v1.5h-7.2zM546.4 110.7h7.2v1.5h-7.2zM603.9 110.7h4.0v1.5h-4.0zM496.1 109.2h7.2v1.5h-7.2zM510.4 109.2h21.6v1.5h-21.6zM510.4 107.7h14.4v1.5h-14.4zM539.2 106.2h7.2v1.5h-7.2zM603.9 106.2h4.0v1.5h-4.0zM603.9 104.7h4.0v1.5h-4.0zM517.6 103.2h7.2v1.5h-7.2zM510.4 101.7h7.2v1.5h-7.2zM488.9 98.7h7.2v1.5h-7.2zM532.0 98.7h7.2v1.5h-7.2zM503.2 97.2h7.2v1.5h-7.2zM546.4 97.2h7.2v1.5h-7.2zM560.8 97.2h7.2v1.5h-7.2zM488.9 95.7h7.2v1.5h-7.2zM532.0 95.7h7.2v1.5h-7.2zM589.5 95.7h7.2v1.5h-7.2zM546.4 94.2h7.2v1.5h-7.2zM539.2 92.7h7.2v1.5h-7.2zM524.8 88.2h7.2v1.5h-7.2zM503.2 86.7h7.2v1.5h-7.2zM524.8 86.7h7.2v1.5h-7.2zM546.4 86.7h7.2v1.5h-7.2zM467.3 83.6h7.2v1.5h-7.2zM510.4 83.6h7.2v1.5h-7.2zM524.8 83.6h7.2v1.5h-7.2zM503.2 82.1h7.2v1.5h-7.2zM546.4 82.1h7.2v1.5h-7.2zM603.9 82.1h4.0v1.5h-4.0zM481.7 80.6h7.2v1.5h-7.2zM532.0 80.6h7.2v1.5h-7.2zM510.4 79.1h7.2v1.5h-7.2zM560.8 79.1h7.2v1.5h-7.2zM488.9 76.1h7.2v1.5h-7.2zM539.2 74.6h7.2v1.5h-7.2zM503.2 73.1h7.2v1.5h-7.2zM481.7 70.1h7.2v1.5h-7.2zM503.2 70.1h7.2v1.5h-7.2zM524.8 67.1h7.2v1.5h-7.2zM488.9 65.6h7.2v1.5h-7.2zM510.4 65.6h7.2v1.5h-7.2zM481.7 64.1h7.2v1.5h-7.2zM496.1 64.1h7.2v1.5h-7.2zM510.4 64.1h14.4v1.5h-14.4zM532.0 64.1h7.2v1.5h-7.2zM603.9 64.1h4.0v1.5h-4.0zM510.4 61.1h7.2v1.5h-7.2zM568.0 61.1h7.2v1.5h-7.2zM510.4 59.6h7.2v1.5h-7.2zM488.9 58.1h14.4v1.5h-14.4zM503.2 56.6h7.2v1.5h-7.2zM603.9 56.6h4.0v1.5h-4.0zM496.1 55.1h7.2v1.5h-7.2zM603.9 55.1h4.0v1.5h-4.0zM460.1 53.6h14.4v1.5h-14.4zM488.9 53.6h7.2v1.5h-7.2zM503.2 53.6h7.2v1.5h-7.2zM596.7 53.6h7.2v1.5h-7.2zM474.5 52.1h7.2v1.5h-7.2zM496.1 52.1h7.2v1.5h-7.2zM596.7 50.6h7.2v1.5h-7.2zM488.9 47.6h7.2v1.5h-7.2zM603.9 47.6h4.0v1.5h-4.0zM517.6 46.1h7.2v1.5h-7.2zM553.6 46.1h7.2v1.5h-7.2zM603.9 43.1h4.0v1.5h-4.0zM488.9 41.6h7.2v1.5h-7.2zM524.8 41.6h7.2v1.5h-7.2zM496.1 38.6h7.2v1.5h-7.2zM568.0 38.6h7.2v1.5h-7.2zM603.9 34.0h4.0v1.5h-4.0zM474.5 32.5h7.2v1.5h-7.2zM488.9 29.5h7.2v1.5h-7.2zM460.1 28.0h7.2v1.5h-7.2zM474.5 28.0h14.4v1.5h-14.4zM467.3 25.0h7.2v1.5h-7.2zM496.1 25.0h7.2v1.5h-7.2zM560.8 25.0h7.2v1.5h-7.2zM460.1 17.5h7.2v1.5h-7.2zM417.0 16.0h7.2v1.5h-7.2zM474.5 16.0h14.4v1.5h-14.4zM496.1 16.0h14.4v1.5h-14.4zM603.9 16.0h4.0v1.5h-4.0zM467.3 14.5h7.2v1.5h-7.2zM445.7 13.0h7.2v1.5h-7.2zM517.6 13.0h7.2v1.5h-7.2z"/>
<path fill="#0000e1" d="M568.0 229.4h7.2v1.5h-7.2zM553.6 220.4h7.2v1.5h-7.2zM582.3 220.4h7.2v1.5h-7.2zM560.8 217.4h7.2v1.5h-7.2zM560.8 211.4h7.2v1.5h-7.2zM532.0 208.4h7.2v1.5h-7.2zM560.8 206.9h7.2v1.5h-7.2zM510.4 205.4h7.2v1.5h-7.2zM560.8 203.9h7.2v1.5h-7.2zM575.1 202.4h7.2v1.5h-7.2zM582.3 199.4h7.2v1.5h-7.2zM553.6 197.9h14.4v1.5h-14.4zM553.6 196.4h7.2v1.5h-7.2zM582.3 196.4h7.2v1.5h-7.2zM546.4 193.4h7.2v1.5h-7.2zM560.8 191.9h7.2v1.5h-7.2zM575.1 191.9h7.2v1.5h-7.2zM568.0 190.4h7.2v1.5h-7.2zM582.3 190.4h7.2v1.5h-7.2zM596.7 190.4h7.2v1.5h-7.2zM575.1 187.4h7.2v1.5h-7.2zM603.9 185.9h4.0v1.5h-4.0zM553.6 184.3h7.2v1.5h-7.2zM596.7 182.8h7.2v1.5h-7.2zM524.8 181.3h7.2v1.5h-7.2zM560.8 179.8h14.4v1.5h-14.4zM553.6 178.3h7.2v1.5h-7.2zM596.7 175.3h11.2v1.5h-11.2zM524.8 173.8h7.2v1.5h-7.2zM539.2 173.8h7.2v1.5h-7.2zM539.2 172.3h7.2v1.5h-7.2zM532.0 170.8h7.2v1.5h-7.2zM546.4 170.8h7.2v1.5h-7.2zM539.2 169.3h7.2v1.5h-7.2zM603.9 166.3h4.0v1.5h-4.0zM524.8 164.8h7.2v1.5h-7.2zM603.9 164.8h4.0v1.5h-4.0zM539.2 163.3h7.2v1.5h-7.2zM553.6 157.3h14.4v1.5h-14.4zM546.4 155.8h7.2v1.5h-7.2zM582.3 155.8h7.2v1.5h-7.2zM539.2 154.3h7.2v1.5h-7.2zM553.6 154.3h14.4v1.5h-14.4zM603.9 154.3h4.0v1.5h-4.0zM524.8 149.8h7.2v1.5h-7.2zM553.6 148.3h7.2v1.5h-7.2zM603.9 148.3h4.0v1.5h-4.0zM524.8 145.3h7.2v1.5h-7.2zM596.7 143.8h7.2v1.5h-7.2zM539.2 142.3h7.2v1.5h-7.2zM582.3 140.8h14.4v1.5h-14.4zM532.0 139.3h7.2v1.5h-7.2zM603.9 139.3h4.0v1.5h-4.0zM532.0 137.8h7.2v1.5h-7.2zM539.2 136.3h7.2v1.5h-7.2zM603.9 136.3h4.0v1.5h-4.0zM510.4 134.7h14.4v1.5h-14.4zM539.2 131.7h7.2v1.5h-7.2zM582.3 131.7h7.2v1.5h-7.2zM546.4 128.7h7.2v1.5h-7.2zM603.9 127.2h4.0v1.5h-4.0zM510.4 125.7h7.2v1.5h-7.2zM589.5 121.2h7.2v1.5h-7.2zM539.2 119.7h7.2v1.5h-7.2zM568.0 119.7h7.2v1.5h-7.2zM603.9 116.7h4.0v1.5h-4.0zM524.8 115.2h7.2v1.5h-7.2zM539.2 115.2h7.2v1.5h-7.2zM503.2 113.7h7.2v1.5h-7.2zM517.6 112.2h7.2v1.5h-7.2zM553.6 112.2h7.2v1.5h-7.2zM589.5 110.7h7.2v1.5h-7.2zM575.1 109.2h7.2v1.5h-7.2zM517.6 106.2h7.2v1.5h-7.2zM568.0 104.7h14.4v1.5h-14.4zM488.9 101.7h7.2v1.5h-7.2zM517.6 101.7h7.2v1.5h-7.2zM524.8 100.2h7.2v1.5h-7.2zM503.2 98.7h7.2v1.5h-7.2zM517.6 95.7h14.4v1.5h-14.4zM496.1 94.2h7.2v1.5h-7.2zM517.6 94.2h7.2v1.5h-7.2zM503.2 92.7h7.2v1.5h-7.2zM510.4 89.7h7.2v1.5h-7.2zM510.4 88.2h7.2v1.5h-7.2zM568.0 88.2h7.2v1.5h-7.2zM603.9 88.2h4.0v1.5h-4.0zM488.9 86.7h7.2v1.5h-7.2zM474.5 85.1h14.4v1.5h-14.4zM503.2 83.6h7.2v1.5h-7.2zM503.2 80.6h14.4v1.5h-14.4zM524.8 80.6h7.2v1.5h-7.2zM496.1 79.1h7.2v1.5h-7.2zM517.6 79.1h7.2v1.5h-7.2zM603.9 79.1h4.0v1.5h-4.0zM488.9 77.6h14.4v1.5h-14.4zM496.1 76.1h7.2v1.5h-7.2zM510.4 74.6h14.4v1.5h-14.4zM488.9 73.1h14.4v1.5h-14.4zM532.0 73.1h7.2v1.5h-7.2zM488.9 71.6h14.4v1.5h-14.4zM488.9 70.1h7.2v1.5h-7.2zM488.9 68.6h14.4v1.5h-14.4zM481.7 67.1h7.2v1.5h-7.2zM481.7 65.6h7.2v1.5h-7.2zM517.6 65.6h7.2v1.5h-7.2zM575.1 61.1h7.2v1.5h-7.2zM481.7 58.1h7.2v1.5h-7.2zM474.5 56.6h7.2v1.5h-7.2zM481.7 55.1h7.2v1.5h-7.2zM524.8 50.6h7.2v1.5h-7.2zM553.6 50.6h7.2v1.5h-7.2zM589.5 50.6h7.2v1.5h-7.2zM481.7 49.1h28.8v1.5h-28.8zM481.7 47.6h7.2v1.5h-7.2zM510.4 46.1h7.2v1.5h-7.2zM496.1 44.6h7.2v1.5h-7.2zM553.6 43.1h7.2v1.5h-7.2zM474.5 40.1h7.2v1.5h-7.2zM481.7 38.6h7.2v1.5h-7.2zM474.5 35.5h14.4v1.5h-14.4zM603.9 35.5h4.0v1.5h-4.0zM481.7 34.0h7.2v1.5h-7.2zM496.1 34.0h7.2v1.5h-7.2zM596.7 34.0h7.2v1.5h-7.2zM467.3 28.0h7.2v1.5h-7.2zM589.5 28.0h7.2v1.5h-7.2zM445.7 25.0h7.2v1.5h-7.2zM474.5 25.0h7.2v1.5h-7.2zM467.3 23.5h7.2v1.5h-7.2zM445.7 20.5h7.2v1.5h-7.2zM496.1 19.0h7.2v1.5h-7.2zM431.3 13.0h7.2v1.5h-7.2zM474.5 13.0h7.2v1.5h-7.2z"/>
<path fill="#0000f1" d="M560.8 241.5h7.2v1.5h-7.2zM553.6 237.0h14.4v1.5h-14.4zM575.1 237.0h7.2v1.5h-7.2zM589.5 234.0h7.2v1.5h-7.2zM539.2 232.4h7.2v1.5h-7.2zM553.6 232.4h7.2v1.5h-7.2zM596.7 232.4h7.2v1.5h-7.2zM560.8 230.9h14.4v1.5h-14.4zM582.3 227.9h7.2v1.5h-7.2zM596.7 224.9h7.2v1.5h-7.2zM560.8 221.9h7.2v1.5h-7.2zM560.8 220.4h14.4v1.5h-14.4zM603.9 217.4h4.0v1.5h-4.0zM575.1 215.9h7.2v1.5h-7.2zM582.3 211.4h7.2v1.5h-7.2zM517.6 208.4h7.2v1.5h-7.2zM546.4 208.4h7.2v1.5h-7.2zM575.1 208.4h7.2v1.5h-7.2zM575.1 206.9h7.2v1.5h-7.2zM546.4 205.4h7.2v1.5h-7.2zM575.1 203.9h7.2v1.5h-7.2zM589.5 202.4h7.2v1.5h-7.2zM603.9 202.4h4.0v1.5h-4.0zM546.4 199.4h7.2v1.5h-7.2zM575.1 199.4h7.2v1.5h-7.2zM568.0 197.9h7.2v1.5h-7.2zM589.5 197.9h7.2v1.5h-7.2zM524.8 196.4h7.2v1.5h-7.2zM539.2 196.4h7.2v1.5h-7.2zM532.0 194.9h7.2v1.5h-7.2zM553.6 194.9h14.4v1.5h-14.4zM575.1 193.4h21.6v1.5h-21.6zM524.8 191.9h7.2v1.5h-7.2zM546.4 187.4h7.2v1.5h-7.2zM524.8 185.9h7.2v1.5h-7.2zM539.2 185.9h7.2v1.5h-7.2zM517.6 184.3h21.6v1.5h-21.6zM568.0 182.8h7.2v1.5h-7.2zM603.9 182.8h4.0v1.5h-4.0zM524.8 178.3h7.2v1.5h-7.2zM532.0 176.8h7.2v1.5h-7.2zM546.4 175.3h7.2v1.5h-7.2zM560.8 175.3h7.2v1.5h-7.2zM568.0 172.3h7.2v1.5h-7.2zM517.6 170.8h7.2v1.5h-7.2zM539.2 170.8h7.2v1.5h-7.2zM539.2 167.8h14.4v1.5h-14.4zM510.4 166.3h7.2v1.5h-7.2zM524.8 166.3h7.2v1.5h-7.2zM546.4 164.8h7.2v1.5h-7.2zM596.7 164.8h7.2v1.5h-7.2zM510.4 161.8h7.2v1.5h-7.2zM524.8 158.8h7.2v1.5h-7.2zM546.4 158.8h14.4v1.5h-14.4zM546.4 157.3h7.2v1.5h-7.2zM568.0 157.3h7.2v1.5h-7.2zM517.6 155.8h7.2v1.5h-7.2zM589.5 154.3h7.2v1.5h-7.2zM532.0 151.3h7.2v1.5h-7.2zM517.6 148.3h7.2v1.5h-7.2zM517.6 146.8h7.2v1.5h-7.2zM568.0 146.8h7.2v1.5h-7.2zM517.6 143.8h14.4v1.5h-14.4zM517.6 142.3h7.2v1.5h-7.2zM546.4 142.3h7.2v1.5h-7.2zM532.0 140.8h7.2v1.5h-7.2zM546.4 137.8h14.4v1.5h-14.4zM524.8 136.3h14.4v1.5h-14.4zM510.4 133.2h7.2v1.5h-7.2zM503.2 131.7h7.2v1.5h-7.2zM532.0 128.7h14.4v1.5h-14.4zM553.6 128.7h7.2v1.5h-7.2zM603.9 128.7h4.0v1.5h-4.0zM517.6 122.7h7.2v1.5h-7.2zM546.4 122.7h7.2v1.5h-7.2zM517.6 121.2h7.2v1.5h-7.2zM603.9 121.2h4.0v1.5h-4.0zM524.8 119.7h7.2v1.5h-7.2zM510.4 115.2h7.2v1.5h-7.2zM510.4 113.7h7.2v1.5h-7.2zM481.7 107.7h7.2v1.5h-7.2zM517.6 104.7h14.4v1.5h-14.4zM539.2 104.7h7.2v1.5h-7.2zM496.1 103.2h7.2v1.5h-7.2zM510.4 103.2h7.2v1.5h-7.2zM496.1 101.7h7.2v1.5h-7.2zM496.1 98.7h7.2v1.5h-7.2zM517.6 98.7h7.2v1.5h-7.2zM481.7 95.7h7.2v1.5h-7.2zM503.2 95.7h7.2v1.5h-7.2zM510.4 94.2h7.2v1.5h-7.2zM517.6 92.7h7.2v1.5h-7.2zM488.9 91.2h7.2v1.5h-7.2zM481.7 89.7h7.2v1.5h-7.2zM503.2 89.7h7.2v1.5h-7.2zM517.6 89.7h7.2v1.5h-7.2zM503.2 88.2h7.2v1.5h-7.2zM517.6 88.2h7.2v1.5h-7.2zM575.1 88.2h7.2v1.5h-7.2zM603.9 86.7h4.0v1.5h-4.0zM496.1 80.6h7.2v1.5h-7.2zM481.7 79.1h7.2v1.5h-7.2zM532.0 74.6h7.2v1.5h-7.2zM481.7 71.6h7.2v1.5h-7.2zM510.4 70.1h7.2v1.5h-7.2zM496.1 67.1h7.2v1.5h-7.2zM503.2 65.6h7.2v1.5h-7.2zM488.9 64.1h7.2v1.5h-7.2zM503.2 64.1h7.2v1.5h-7.2zM488.9 62.6h7.2v1.5h-7.2zM503.2 62.6h7.2v1.5h-7.2zM603.9 62.6h4.0v1.5h-4.0zM503.2 61.1h7.2v1.5h-7.2zM553.6 61.1h7.2v1.5h-7.2zM603.9 61.1h4.0v1.5h-4.0zM603.9 59.6h4.0v1.5h-4.0zM474.5 58.1h7.2v1.5h-7.2zM467.3 52.1h7.2v1.5h-7.2zM546.4 50.6h7.2v1.5h-7.2zM560.8 50.6h7.2v1.5h-7.2zM481.7 46.1h7.2v1.5h-7.2zM496.1 46.1h7.2v1.5h-7.2zM467.3 44.6h7.2v1.5h-7.2zM488.9 44.6h7.2v1.5h-7.2zM488.9 43.1h7.2v1.5h-7.2zM510.4 43.1h7.2v1.5h-7.2zM603.9 38.6h4.0v1.5h-4.0zM488.9 35.5h7.2v1.5h-7.2zM503.2 35.5h7.2v1.5h-7.2zM488.9 34.0h7.2v1.5h-7.2zM474.5 26.5h7.2v1.5h-7.2zM417.0 22.0h7.2v1.5h-7.2zM460.1 22.0h7.2v1.5h-7.2zM467.3 16.0h7.2v1.5h-7.2zM603.9 13.0h4.0v1.5h-4.0z"/>
<path fill="#0002ff" d="M539.2 241.5h14.4v1.5h-14.4zM603.9 241.5h4.0v1.5h-4.0zM553.6 240.0h7.2v1.5h-7.2zM582.3 240.0h7.2v1.5h-7.2zM582.3 234.0h7.2v1.5h-7.2zM596.7 234.0h7.2v1.5h-7.2zM575.1 230.9h7.2v1.5h-7.2zM575.1 229.4h7.2v1.5h-7.2zM575.1 227.9h7.2v1.5h-7.2zM603.9 227.9h4.0v1.5h-4.0zM568.0 224.9h7.2v1.5h-7.2zM568.0 221.9h14.4v1.5h-14.4zM596.7 218.9h7.2v1.5h-7.2zM560.8 215.9h14.4v1.5h-14.4zM539.2 214.4h7.2v1.5h-7.2zM560.8 214.4h7.2v1.5h-7.2zM553.6 211.4h7.2v1.5h-7.2zM589.5 209.9h7.2v1.5h-7.2zM603.9 209.9h4.0v1.5h-4.0zM524.8 208.4h7.2v1.5h-7.2zM539.2 208.4h7.2v1.5h-7.2zM589.5 208.4h7.2v1.5h-7.2zM589.5 206.9h7.2v1.5h-7.2zM603.9 206.9h4.0v1.5h-4.0zM582.3 203.9h7.2v1.5h-7.2zM524.8 202.4h7.2v1.5h-7.2zM546.4 200.9h7.2v1.5h-7.2zM553.6 199.4h7.2v1.5h-7.2zM575.1 197.9h7.2v1.5h-7.2zM596.7 197.9h11.2v1.5h-11.2zM517.6 196.4h7.2v1.5h-7.2zM596.7 191.9h7.2v1.5h-7.2zM532.0 190.4h14.4v1.5h-14.4zM553.6 187.4h7.2v1.5h-7.2zM589.5 182.8h7.2v1.5h-7.2zM524.8 179.8h7.2v1.5h-7.2zM546.4 178.3h7.2v1.5h-7.2zM517.6 175.3h7.2v1.5h-7.2zM532.0 175.3h14.4v1.5h-14.4zM532.0 173.8h7.2v1.5h-7.2zM532.0 169.3h7.2v1.5h-7.2zM503.2 161.8h7.2v1.5h-7.2zM517.6 161.8h7.2v1.5h-7.2zM517.6 160.3h7.2v1.5h-7.2zM532.0 160.3h7.2v1.5h-7.2zM517.6 158.8h7.2v1.5h-7.2zM532.0 157.3h7.2v1.5h-7.2zM503.2 152.8h7.2v1.5h-7.2zM532.0 146.8h7.2v1.5h-7.2zM510.4 145.3h7.2v1.5h-7.2zM603.9 143.8h4.0v1.5h-4.0zM603.9 142.3h4.0v1.5h-4.0zM539.2 140.8h14.4v1.5h-14.4zM510.4 139.3h7.2v1.5h-7.2zM510.4 130.2h7.2v1.5h-7.2zM496.1 128.7h7.2v1.5h-7.2zM517.6 128.7h7.2v1.5h-7.2zM503.2 127.2h7.2v1.5h-7.2zM517.6 127.2h7.2v1.5h-7.2zM517.6 124.2h7.2v1.5h-7.2zM532.0 124.2h14.4v1.5h-14.4zM603.9 124.2h4.0v1.5h-4.0zM553.6 122.7h7.2v1.5h-7.2zM539.2 121.2h7.2v1.5h-7.2zM510.4 119.7h7.2v1.5h-7.2zM510.4 118.2h7.2v1.5h-7.2zM481.7 115.2h7.2v1.5h-7.2zM510.4 112.2h7.2v1.5h-7.2zM517.6 110.7h7.2v1.5h-7.2zM496.1 107.7h14.4v1.5h-14.4zM496.1 106.2h7.2v1.5h-7.2zM503.2 101.7h7.2v1.5h-7.2zM524.8 101.7h7.2v1.5h-7.2zM603.9 100.2h4.0v1.5h-4.0zM496.1 97.2h7.2v1.5h-7.2zM517.6 97.2h7.2v1.5h-7.2zM474.5 94.2h7.2v1.5h-7.2zM481.7 92.7h7.2v1.5h-7.2zM496.1 91.2h7.2v1.5h-7.2zM481.7 86.7h7.2v1.5h-7.2zM496.1 86.7h7.2v1.5h-7.2zM481.7 82.1h7.2v1.5h-7.2zM488.9 79.1h7.2v1.5h-7.2zM488.9 74.6h7.2v1.5h-7.2zM481.7 73.1h7.2v1.5h-7.2zM467.3 70.1h7.2v1.5h-7.2zM474.5 68.6h7.2v1.5h-7.2zM503.2 67.1h14.4v1.5h-14.4zM467.3 61.1h7.2v1.5h-7.2zM481.7 56.6h21.6v1.5h-21.6zM460.1 55.1h7.2v1.5h-7.2zM474.5 55.1h7.2v1.5h-7.2zM474.5 53.6h7.2v1.5h-7.2zM503.2 50.6h7.2v1.5h-7.2zM517.6 50.6h7.2v1.5h-7.2zM488.9 46.1h7.2v1.5h-7.2zM460.1 44.6h7.2v1.5h-7.2zM474.5 41.6h7.2v1.5h-7.2zM467.3 38.6h7.2v1.5h-7.2zM467.3 35.5h7.2v1.5h-7.2zM467.3 29.5h7.2v1.5h-7.2zM445.7 26.5h7.2v1.5h-7.2zM467.3 26.5h7.2v1.5h-7.2zM417.0 23.5h7.2v1.5h-7.2zM431.3 22.0h7.2v1.5h-7.2zM431.3 17.5h7.2v1.5h-7.2z"/>
<path fill="#0012ff" d="M553.6 241.5h7.2v1.5h-7.2zM589.5 241.5h7.2v1.5h-7.2zM560.8 240.0h7.2v1.5h-7.2zM575.1 240.0h7.2v1.5h-7.2zM589.5 240.0h7.2v1.5h-7.2zM532.0 238.5h7.2v1.5h-7.2zM568.0 238.5h7.2v1.5h-7.2zM603.9 238.5h4.0v1.5h-4.0zM532.0 235.5h7.2v1.5h-7.2zM582.3 235.5h7.2v1.5h-7.2zM553.6 234.0h7.2v1.5h-7.2zM575.1 232.4h7.2v1.5h-7.2zM589.5 232.4h7.2v1.5h-7.2zM582.3 230.9h7.2v1.5h-7.2zM532.0 229.4h7.2v1.5h-7.2zM560.8 229.4h7.2v1.5h-7.2zM546.4 221.9h7.2v1.5h-7.2zM575.1 217.4h7.2v1.5h-7.2zM589.5 217.4h7.2v1.5h-7.2zM582.3 215.9h7.2v1.5h-7.2zM532.0 214.4h7.2v1.5h-7.2zM553.6 214.4h7.2v1.5h-7.2zM568.0 214.4h7.2v1.5h-7.2zM575.1 212.9h7.2v1.5h-7.2zM568.0 211.4h14.4v1.5h-14.4zM589.5 211.4h7.2v1.5h-7.2zM546.4 209.9h14.4v1.5h-14.4zM568.0 209.9h21.6v1.5h-21.6zM560.8 208.4h14.4v1.5h-14.4zM582.3 208.4h7.2v1.5h-7.2zM546.4 206.9h7.2v1.5h-7.2zM546.4 203.9h7.2v1.5h-7.2zM532.0 202.4h7.2v1.5h-7.2zM546.4 202.4h7.2v1.5h-7.2zM553.6 200.9h7.2v1.5h-7.2zM589.5 200.9h7.2v1.5h-7.2zM603.9 200.9h4.0v1.5h-4.0zM539.2 199.4h7.2v1.5h-7.2zM589.5 199.4h7.2v1.5h-7.2zM546.4 196.4h7.2v1.5h-7.2zM539.2 193.4h7.2v1.5h-7.2zM560.8 193.4h7.2v1.5h-7.2zM546.4 190.4h14.4v1.5h-14.4zM603.9 190.4h4.0v1.5h-4.0zM510.4 188.9h7.2v1.5h-7.2zM553.6 188.9h7.2v1.5h-7.2zM532.0 187.4h14.4v1.5h-14.4zM524.8 182.8h7.2v1.5h-7.2zM546.4 182.8h7.2v1.5h-7.2zM510.4 181.3h7.2v1.5h-7.2zM546.4 179.8h7.2v1.5h-7.2zM510.4 178.3h14.4v1.5h-14.4zM532.0 178.3h7.2v1.5h-7.2zM517.6 176.8h7.2v1.5h-7.2zM596.7 172.3h7.2v1.5h-7.2zM524.8 170.8h7.2v1.5h-7.2zM553.6 167.8h7.2v1.5h-7.2zM517.6 166.3h7.2v1.5h-7.2zM532.0 166.3h7.2v1.5h-7.2zM532.0 164.8h7.2v1.5h-7.2zM524.8 160.3h7.2v1.5h-7.2zM532.0 158.8h7.2v1.5h-7.2zM496.1 155.8h7.2v1.5h-7.2zM532.0 155.8h7.2v1.5h-7.2zM517.6 154.3h14.4v1.5h-14.4zM546.4 154.3h7.2v1.5h-7.2zM510.4 152.8h7.2v1.5h-7.2zM603.9 149.8h4.0v1.5h-4.0zM524.8 140.8h7.2v1.5h-7.2zM510.4 137.8h7.2v1.5h-7.2zM474.5 136.3h7.2v1.5h-7.2zM510.4 136.3h7.2v1.5h-7.2zM503.2 134.7h7.2v1.5h-7.2zM488.9 133.2h7.2v1.5h-7.2zM517.6 131.7h7.2v1.5h-7.2zM496.1 127.2h7.2v1.5h-7.2zM503.2 125.7h7.2v1.5h-7.2zM524.8 124.2h7.2v1.5h-7.2zM510.4 121.2h7.2v1.5h-7.2zM524.8 121.2h7.2v1.5h-7.2zM496.1 119.7h14.4v1.5h-14.4zM496.1 116.7h7.2v1.5h-7.2zM517.6 116.7h7.2v1.5h-7.2zM496.1 115.2h7.2v1.5h-7.2zM496.1 112.2h14.4v1.5h-14.4zM488.9 104.7h7.2v1.5h-7.2zM503.2 103.2h7.2v1.5h-7.2zM503.2 100.2h21.6v1.5h-21.6zM481.7 98.7h7.2v1.5h-7.2zM496.1 95.7h7.2v1.5h-7.2zM481.7 94.2h7.2v1.5h-7.2zM488.9 92.7h7.2v1.5h-7.2zM481.7 88.2h21.6v1.5h-21.6zM474.5 86.7h7.2v1.5h-7.2zM488.9 82.1h7.2v1.5h-7.2zM488.9 80.6h7.2v1.5h-7.2zM503.2 79.1h7.2v1.5h-7.2zM553.6 79.1h7.2v1.5h-7.2zM481.7 77.6h7.2v1.5h-7.2zM481.7 76.1h7.2v1.5h-7.2zM510.4 73.1h7.2v1.5h-7.2zM474.5 70.1h7.2v1.5h-7.2zM460.1 68.6h7.2v1.5h-7.2zM474.5 67.1h7.2v1.5h-7.2zM474.5 64.1h7.2v1.5h-7.2zM474.5 62.6h7.2v1.5h-7.2zM474.5 59.6h7.2v1.5h-7.2zM496.1 59.6h7.2v1.5h-7.2zM467.3 58.1h7.2v1.5h-7.2zM488.9 55.1h7.2v1.5h-7.2zM503.2 55.1h7.2v1.5h-7.2zM481.7 53.6h7.2v1.5h-7.2zM474.5 49.1h7.2v1.5h-7.2zM474.5 47.6h7.2v1.5h-7.2zM467.3 46.1h7.2v1.5h-7.2zM481.7 43.1h7.2v1.5h-7.2zM474.5 38.6h7.2v1.5h-7.2zM460.1 32.5h7.2v1.5h-7.2zM467.3 31.0h7.2v1.5h-7.2zM452.9 25.0h7.2v1.5h-7.2zM431.3 23.5h7.2v1.5h-7.2zM438.5 22.0h7.2v1.5h-7.2zM417.0 20.5h7.2v1.5h-7.2zM431.3 20.5h7.2v1.5h-7.2zM452.9 20.5h7.2v1.5h-7.2zM417.0 19.0h7.2v1.5h-7.2zM384.3 16.0h3.9v1.5h-3.9zM431.3 16.0h7.2v1.5h-7.2zM452.9 16.0h7.2v1.5h-7.2zM384.3 14.5h3.9v1.5h-3.9zM417.0 14.5h7.2v1.5h-7.2zM431.3 14.5h7.2v1.5h-7.2z"/>
<path fill="#0022ff" d="M553.6 244.5h7.2v1.5h-7.2zM568.0 241.5h7.2v1.5h-7.2zM582.3 241.5h7.2v1.5h-7.2zM596.7 241.5h7.2v1.5h-7.2zM568.0 240.0h7.2v1.5h-7.2zM560.8 238.5h7.2v1.5h-7.2zM582.3 238.5h7.2v1.5h-7.2zM568.0 237.0h7.2v1.5h-7.2zM546.4 230.9h7.2v1.5h-7.2zM596.7 230.9h7.2v1.5h-7.2zM546.4 229.4h7.2v1.5h-7.2zM560.8 227.9h14.4v1.5h-14.4zM546.4 224.9h7.2v1.5h-7.2zM560.8 224.9h7.2v1.5h-7.2zM589.5 224.9h7.2v1.5h-7.2zM603.9 224.9h4.0v1.5h-4.0zM553.6 223.4h7.2v1.5h-7.2zM575.1 223.4h7.2v1.5h-7.2zM596.7 223.4h11.2v1.5h-11.2zM589.5 221.9h7.2v1.5h-7.2zM596.7 220.4h7.2v1.5h-7.2zM546.4 217.4h7.2v1.5h-7.2zM596.7 217.4h7.2v1.5h-7.2zM589.5 214.4h7.2v1.5h-7.2zM603.9 214.4h4.0v1.5h-4.0zM546.4 211.4h7.2v1.5h-7.2zM596.7 211.4h7.2v1.5h-7.2zM596.7 209.9h7.2v1.5h-7.2zM596.7 208.4h7.2v1.5h-7.2zM553.6 206.9h7.2v1.5h-7.2zM524.8 205.4h14.4v1.5h-14.4zM596.7 202.4h7.2v1.5h-7.2zM539.2 200.9h7.2v1.5h-7.2zM568.0 200.9h7.2v1.5h-7.2zM546.4 197.9h7.2v1.5h-7.2zM517.6 194.9h7.2v1.5h-7.2zM546.4 194.9h7.2v1.5h-7.2zM524.8 193.4h7.2v1.5h-7.2zM532.0 191.9h21.6v1.5h-21.6zM589.5 191.9h7.2v1.5h-7.2zM603.9 191.9h4.0v1.5h-4.0zM517.6 187.4h7.2v1.5h-7.2zM546.4 185.9h7.2v1.5h-7.2zM553.6 182.8h7.2v1.5h-7.2zM517.6 179.8h7.2v1.5h-7.2zM510.4 176.8h7.2v1.5h-7.2zM503.2 175.3h7.2v1.5h-7.2zM503.2 173.8h21.6v1.5h-21.6zM546.4 172.3h7.2v1.5h-7.2zM553.6 170.8h7.2v1.5h-7.2zM517.6 164.8h7.2v1.5h-7.2zM539.2 164.8h7.2v1.5h-7.2zM503.2 163.3h14.4v1.5h-14.4zM503.2 158.8h14.4v1.5h-14.4zM539.2 158.8h7.2v1.5h-7.2zM510.4 157.3h7.2v1.5h-7.2zM524.8 157.3h7.2v1.5h-7.2zM539.2 157.3h7.2v1.5h-7.2zM524.8 146.8h7.2v1.5h-7.2zM496.1 145.3h14.4v1.5h-14.4zM503.2 143.8h7.2v1.5h-7.2zM503.2 139.3h7.2v1.5h-7.2zM517.6 137.8h7.2v1.5h-7.2zM488.9 136.3h7.2v1.5h-7.2zM503.2 133.2h7.2v1.5h-7.2zM510.4 131.7h7.2v1.5h-7.2zM496.1 125.7h7.2v1.5h-7.2zM510.4 124.2h7.2v1.5h-7.2zM503.2 122.7h14.4v1.5h-14.4zM503.2 121.2h7.2v1.5h-7.2zM503.2 115.2h7.2v1.5h-7.2zM503.2 110.7h7.2v1.5h-7.2zM488.9 107.7h7.2v1.5h-7.2zM510.4 106.2h7.2v1.5h-7.2zM496.1 104.7h7.2v1.5h-7.2zM510.4 104.7h7.2v1.5h-7.2zM481.7 103.2h14.4v1.5h-14.4zM488.9 94.2h7.2v1.5h-7.2zM488.9 89.7h14.4v1.5h-14.4zM474.5 83.6h7.2v1.5h-7.2zM488.9 83.6h7.2v1.5h-7.2zM467.3 80.6h7.2v1.5h-7.2zM474.5 79.1h7.2v1.5h-7.2zM460.1 70.1h7.2v1.5h-7.2zM467.3 68.6h7.2v1.5h-7.2zM467.3 62.6h7.2v1.5h-7.2zM496.1 62.6h7.2v1.5h-7.2zM488.9 59.6h7.2v1.5h-7.2zM503.2 59.6h7.2v1.5h-7.2zM467.3 56.6h7.2v1.5h-7.2zM467.3 55.1h7.2v1.5h-7.2zM481.7 50.6h14.4v1.5h-14.4zM510.4 50.6h7.2v1.5h-7.2zM467.3 49.1h7.2v1.5h-7.2zM474.5 43.1h7.2v1.5h-7.2zM467.3 40.1h7.2v1.5h-7.2zM467.3 37.0h7.2v1.5h-7.2zM474.5 31.0h7.2v1.5h-7.2zM445.7 28.0h7.2v1.5h-7.2zM417.0 26.5h7.2v1.5h-7.2zM417.0 25.0h7.2v1.5h-7.2zM384.3 22.0h3.9v1.5h-3.9zM460.1 20.5h7.2v1.5h-7.2zM431.3 19.0h7.2v1.5h-7.2zM452.9 14.5h7.2v1.5h-7.2zM417.0 13.0h7.2v1.5h-7.2z"/>
<path fill="#0033ff" d="M539.2 247.5h7.2v1.5h-7.2zM553.6 243.0h7.2v1.5h-7.2zM532.0 241.5h7.2v1.5h-7.2zM575.1 241.5h7.2v1.5h-7.2zM496.1 240.0h7.2v1.5h-7.2zM539.2 240.0h14.4v1.5h-14.4zM596.7 240.0h7.2v1.5h-7.2zM589.5 238.5h14.4v1.5h-14.4zM589.5 235.5h7.2v1.5h-7.2zM603.9 235.5h4.0v1.5h-4.0zM532.0 232.4h7.2v1.5h-7.2zM546.4 232.4h7.2v1.5h-7.2zM568.0 232.4h7.2v1.5h-7.2zM603.9 230.9h4.0v1.5h-4.0zM582.3 229.4h7.2v1.5h-7.2zM532.0 227.9h7.2v1.5h-7.2zM546.4 226.4h7.2v1.5h-7.2zM568.0 226.4h7.2v1.5h-7.2zM596.7 226.4h7.2v1.5h-7.2zM575.1 224.9h7.2v1.5h-7.2zM546.4 223.4h7.2v1.5h-7.2zM560.8 223.4h7.2v1.5h-7.2zM589.5 223.4h7.2v1.5h-7.2zM532.0 221.9h7.2v1.5h-7.2zM553.6 221.9h7.2v1.5h-7.2zM517.6 218.9h7.2v1.5h-7.2zM560.8 218.9h21.6v1.5h-21.6zM553.6 217.4h7.2v1.5h-7.2zM546.4 215.9h7.2v1.5h-7.2zM589.5 215.9h14.4v1.5h-14.4zM532.0 212.9h28.8v1.5h-28.8zM568.0 212.9h7.2v1.5h-7.2zM596.7 212.9h11.2v1.5h-11.2zM532.0 211.4h7.2v1.5h-7.2zM560.8 209.9h7.2v1.5h-7.2zM539.2 203.9h7.2v1.5h-7.2zM560.8 200.9h7.2v1.5h-7.2zM575.1 200.9h7.2v1.5h-7.2zM532.0 199.4h7.2v1.5h-7.2zM603.9 199.4h4.0v1.5h-4.0zM539.2 197.9h7.2v1.5h-7.2zM532.0 193.4h7.2v1.5h-7.2zM553.6 193.4h7.2v1.5h-7.2zM503.2 185.9h7.2v1.5h-7.2zM517.6 185.9h7.2v1.5h-7.2zM532.0 185.9h7.2v1.5h-7.2zM532.0 182.8h7.2v1.5h-7.2zM503.2 178.3h7.2v1.5h-7.2zM503.2 176.8h7.2v1.5h-7.2zM553.6 172.3h7.2v1.5h-7.2zM510.4 169.3h7.2v1.5h-7.2zM524.8 169.3h7.2v1.5h-7.2zM510.4 167.8h14.4v1.5h-14.4zM488.9 161.8h7.2v1.5h-7.2zM524.8 155.8h7.2v1.5h-7.2zM517.6 152.8h7.2v1.5h-7.2zM510.4 151.3h14.4v1.5h-14.4zM510.4 149.8h14.4v1.5h-14.4zM532.0 149.8h7.2v1.5h-7.2zM503.2 148.3h7.2v1.5h-7.2zM503.2 146.8h14.4v1.5h-14.4zM510.4 142.3h7.2v1.5h-7.2zM532.0 142.3h7.2v1.5h-7.2zM496.1 137.8h7.2v1.5h-7.2zM496.1 133.2h7.2v1.5h-7.2zM503.2 130.2h7.2v1.5h-7.2zM488.9 119.7h7.2v1.5h-7.2zM474.5 118.2h7.2v1.5h-7.2zM496.1 118.2h14.4v1.5h-14.4zM503.2 116.7h7.2v1.5h-7.2zM467.3 113.7h7.2v1.5h-7.2zM488.9 110.7h14.4v1.5h-14.4zM503.2 106.2h7.2v1.5h-7.2zM474.5 104.7h7.2v1.5h-7.2zM503.2 104.7h7.2v1.5h-7.2zM481.7 101.7h7.2v1.5h-7.2zM488.9 100.2h14.4v1.5h-14.4zM474.5 95.7h7.2v1.5h-7.2zM474.5 92.7h7.2v1.5h-7.2zM474.5 88.2h7.2v1.5h-7.2zM467.3 86.7h7.2v1.5h-7.2zM474.5 82.1h7.2v1.5h-7.2zM474.5 80.6h7.2v1.5h-7.2zM474.5 71.6h7.2v1.5h-7.2zM481.7 62.6h7.2v1.5h-7.2zM474.5 61.1h7.2v1.5h-7.2zM496.1 61.1h7.2v1.5h-7.2zM467.3 59.6h7.2v1.5h-7.2zM496.1 50.6h7.2v1.5h-7.2zM474.5 46.1h7.2v1.5h-7.2zM474.5 44.6h7.2v1.5h-7.2zM467.3 41.6h7.2v1.5h-7.2zM474.5 37.0h7.2v1.5h-7.2zM452.9 31.0h7.2v1.5h-7.2zM460.1 29.5h7.2v1.5h-7.2zM452.9 23.5h7.2v1.5h-7.2zM452.9 22.0h7.2v1.5h-7.2zM452.9 17.5h7.2v1.5h-7.2zM460.1 14.5h7.2v1.5h-7.2zM452.9 13.0h7.2v1.5h-7.2z"/>
<path fill="#0043ff" d="M546.4 249.0h7.2v1.5h-7.2zM596.7 246.0h7.2v1.5h-7.2zM546.4 244.5h7.2v1.5h-7.2zM546.4 243.0h7.2v1.5h-7.2zM553.6 238.5h7.2v1.5h-7.2zM596.7 235.5h7.2v1.5h-7.2zM560.8 232.4h7.2v1.5h-7.2zM582.3 232.4h7.2v1.5h-7.2zM532.0 230.9h14.4v1.5h-14.4zM553.6 230.9h7.2v1.5h-7.2zM539.2 229.4h7.2v1.5h-7.2zM603.9 229.4h4.0v1.5h-4.0zM553.6 227.9h7.2v1.5h-7.2zM589.5 227.9h7.2v1.5h-7.2zM553.6 226.4h7.2v1.5h-7.2zM589.5 226.4h7.2v1.5h-7.2zM532.0 224.9h7.2v1.5h-7.2zM582.3 224.9h7.2v1.5h-7.2zM532.0 223.4h7.2v1.5h-7.2zM603.9 221.9h4.0v1.5h-4.0zM546.4 220.4h7.2v1.5h-7.2zM582.3 218.9h7.2v1.5h-7.2zM568.0 217.4h7.2v1.5h-7.2zM553.6 215.9h7.2v1.5h-7.2zM560.8 212.9h7.2v1.5h-7.2zM603.9 208.4h4.0v1.5h-4.0zM539.2 206.9h7.2v1.5h-7.2zM532.0 203.9h7.2v1.5h-7.2zM539.2 202.4h7.2v1.5h-7.2zM517.6 197.9h7.2v1.5h-7.2zM532.0 197.9h7.2v1.5h-7.2zM524.8 194.9h7.2v1.5h-7.2zM524.8 187.4h7.2v1.5h-7.2zM503.2 184.3h14.4v1.5h-14.4zM539.2 182.8h7.2v1.5h-7.2zM510.4 179.8h7.2v1.5h-7.2zM517.6 172.3h7.2v1.5h-7.2zM517.6 169.3h7.2v1.5h-7.2zM503.2 166.3h7.2v1.5h-7.2zM517.6 157.3h7.2v1.5h-7.2zM510.4 155.8h7.2v1.5h-7.2zM496.1 152.8h7.2v1.5h-7.2zM510.4 148.3h7.2v1.5h-7.2zM488.9 145.3h7.2v1.5h-7.2zM496.1 143.8h7.2v1.5h-7.2zM496.1 136.3h14.4v1.5h-14.4zM488.9 131.7h7.2v1.5h-7.2zM481.7 127.2h14.4v1.5h-14.4zM503.2 124.2h7.2v1.5h-7.2zM496.1 122.7h7.2v1.5h-7.2zM474.5 116.7h7.2v1.5h-7.2zM488.9 116.7h7.2v1.5h-7.2zM488.9 113.7h14.4v1.5h-14.4zM481.7 112.2h7.2v1.5h-7.2zM488.9 109.2h7.2v1.5h-7.2zM488.9 97.2h7.2v1.5h-7.2zM474.5 91.2h14.4v1.5h-14.4zM467.3 89.7h7.2v1.5h-7.2zM460.1 83.6h7.2v1.5h-7.2zM481.7 83.6h7.2v1.5h-7.2zM474.5 77.6h7.2v1.5h-7.2zM467.3 71.6h7.2v1.5h-7.2zM460.1 65.6h14.4v1.5h-14.4zM467.3 64.1h7.2v1.5h-7.2zM460.1 52.1h7.2v1.5h-7.2zM460.1 49.1h7.2v1.5h-7.2zM467.3 47.6h7.2v1.5h-7.2zM460.1 43.1h7.2v1.5h-7.2zM460.1 37.0h7.2v1.5h-7.2zM452.9 29.5h7.2v1.5h-7.2zM438.5 26.5h7.2v1.5h-7.2zM452.9 26.5h14.4v1.5h-14.4zM395.4 23.5h7.2v1.5h-7.2zM384.3 20.5h3.9v1.5h-3.9zM452.9 19.0h7.2v1.5h-7.2zM384.3 13.0h3.9v1.5h-3.9z"/>
<path fill="#0053ff" d="M560.8 249.0h7.2v1.5h-7.2zM596.7 249.0h7.2v1.5h-7.2zM560.8 243.0h7.2v1.5h-7.2zM510.4 241.5h7.2v1.5h-7.2zM546.4 238.5h7.2v1.5h-7.2zM524.8 237.0h7.2v1.5h-7.2zM539.2 237.0h14.4v1.5h-14.4zM517.6 235.5h7.2v1.5h-7.2zM539.2 235.5h7.2v1.5h-7.2zM560.8 235.5h7.2v1.5h-7.2zM524.8 234.0h7.2v1.5h-7.2zM539.2 234.0h14.4v1.5h-14.4zM560.8 234.0h21.6v1.5h-21.6zM603.9 232.4h4.0v1.5h-4.0zM517.6 229.4h7.2v1.5h-7.2zM553.6 229.4h7.2v1.5h-7.2zM589.5 229.4h7.2v1.5h-7.2zM539.2 227.9h7.2v1.5h-7.2zM596.7 227.9h7.2v1.5h-7.2zM532.0 226.4h7.2v1.5h-7.2zM560.8 226.4h7.2v1.5h-7.2zM575.1 226.4h7.2v1.5h-7.2zM603.9 226.4h4.0v1.5h-4.0zM524.8 224.9h7.2v1.5h-7.2zM539.2 223.4h7.2v1.5h-7.2zM568.0 223.4h7.2v1.5h-7.2zM582.3 223.4h7.2v1.5h-7.2zM582.3 221.9h7.2v1.5h-7.2zM596.7 221.9h7.2v1.5h-7.2zM532.0 220.4h14.4v1.5h-14.4zM603.9 220.4h4.0v1.5h-4.0zM510.4 218.9h7.2v1.5h-7.2zM546.4 218.9h7.2v1.5h-7.2zM603.9 218.9h4.0v1.5h-4.0zM539.2 215.9h7.2v1.5h-7.2zM603.9 215.9h4.0v1.5h-4.0zM524.8 214.4h7.2v1.5h-7.2zM589.5 212.9h7.2v1.5h-7.2zM603.9 211.4h4.0v1.5h-4.0zM517.6 209.9h14.4v1.5h-14.4zM532.0 206.9h7.2v1.5h-7.2zM524.8 203.9h7.2v1.5h-7.2zM517.6 202.4h7.2v1.5h-7.2zM517.6 199.4h14.4v1.5h-14.4zM524.8 197.9h7.2v1.5h-7.2zM510.4 190.4h7.2v1.5h-7.2zM524.8 190.4h7.2v1.5h-7.2zM510.4 187.4h7.2v1.5h-7.2zM510.4 182.8h7.2v1.5h-7.2zM496.1 176.8h7.2v1.5h-7.2zM524.8 175.3h7.2v1.5h-7.2zM510.4 172.3h7.2v1.5h-7.2zM524.8 172.3h7.2v1.5h-7.2zM510.4 170.8h7.2v1.5h-7.2zM503.2 169.3h7.2v1.5h-7.2zM503.2 164.8h7.2v1.5h-7.2zM496.1 163.3h7.2v1.5h-7.2zM503.2 160.3h14.4v1.5h-14.4zM488.9 158.8h7.2v1.5h-7.2zM503.2 157.3h7.2v1.5h-7.2zM503.2 151.3h7.2v1.5h-7.2zM503.2 149.8h7.2v1.5h-7.2zM488.9 142.3h7.2v1.5h-7.2zM503.2 142.3h7.2v1.5h-7.2zM510.4 140.8h7.2v1.5h-7.2zM496.1 139.3h7.2v1.5h-7.2zM503.2 137.8h7.2v1.5h-7.2zM481.7 134.7h7.2v1.5h-7.2zM481.7 133.2h7.2v1.5h-7.2zM496.1 131.7h7.2v1.5h-7.2zM496.1 130.2h7.2v1.5h-7.2zM510.4 128.7h7.2v1.5h-7.2zM481.7 125.7h14.4v1.5h-14.4zM496.1 124.2h7.2v1.5h-7.2zM467.3 122.7h7.2v1.5h-7.2zM481.7 122.7h7.2v1.5h-7.2zM496.1 121.2h7.2v1.5h-7.2zM488.9 118.2h7.2v1.5h-7.2zM481.7 116.7h7.2v1.5h-7.2zM488.9 115.2h7.2v1.5h-7.2zM481.7 113.7h7.2v1.5h-7.2zM474.5 112.2h7.2v1.5h-7.2zM481.7 110.7h7.2v1.5h-7.2zM481.7 109.2h7.2v1.5h-7.2zM474.5 107.7h7.2v1.5h-7.2zM488.9 106.2h7.2v1.5h-7.2zM474.5 103.2h7.2v1.5h-7.2zM474.5 98.7h7.2v1.5h-7.2zM481.7 97.2h7.2v1.5h-7.2zM467.3 94.2h7.2v1.5h-7.2zM467.3 91.2h7.2v1.5h-7.2zM474.5 89.7h7.2v1.5h-7.2zM467.3 88.2h7.2v1.5h-7.2zM467.3 79.1h7.2v1.5h-7.2zM467.3 77.6h7.2v1.5h-7.2zM474.5 76.1h7.2v1.5h-7.2zM467.3 74.6h7.2v1.5h-7.2zM474.5 73.1h7.2v1.5h-7.2zM467.3 67.1h7.2v1.5h-7.2zM474.5 65.6h7.2v1.5h-7.2zM488.9 61.1h7.2v1.5h-7.2zM481.7 59.6h7.2v1.5h-7.2zM452.9 58.1h7.2v1.5h-7.2zM460.1 50.6h7.2v1.5h-7.2zM467.3 43.1h7.2v1.5h-7.2zM460.1 41.6h7.2v1.5h-7.2zM452.9 40.1h7.2v1.5h-7.2zM445.7 38.6h7.2v1.5h-7.2zM452.9 37.0h7.2v1.5h-7.2zM460.1 35.5h7.2v1.5h-7.2zM460.1 34.0h21.6v1.5h-21.6zM445.7 29.5h7.2v1.5h-7.2zM460.1 25.0h7.2v1.5h-7.2zM438.5 23.5h7.2v1.5h-7.2zM460.1 23.5h7.2v1.5h-7.2zM395.4 22.0h7.2v1.5h-7.2zM395.4 20.5h7.2v1.5h-7.2zM438.5 20.5h7.2v1.5h-7.2zM460.1 19.0h7.2v1.5h-7.2zM438.5 17.5h7.2v1.5h-7.2zM460.1 16.0h7.2v1.5h-7.2zM395.4 14.5h7.2v1.5h-7.2zM438.5 14.5h7.2v1.5h-7.2zM460.1 13.0h7.2v1.5h-7.2z"/>
<path fill="#0063ff" d="M517.6 252.0h7.2v1.5h-7.2zM546.4 250.5h7.2v1.5h-7.2zM524.8 249.0h7.2v1.5h-7.2zM575.1 249.0h7.2v1.5h-7.2zM582.3 246.0h7.2v1.5h-7.2zM560.8 244.5h7.2v1.5h-7.2zM517.6 241.5h7.2v1.5h-7.2zM532.0 240.0h7.2v1.5h-7.2zM603.9 240.0h4.0v1.5h-4.0zM582.3 237.0h7.2v1.5h-7.2zM524.8 235.5h7.2v1.5h-7.2zM546.4 235.5h7.2v1.5h-7.2zM603.9 234.0h4.0v1.5h-4.0zM517.6 230.9h14.4v1.5h-14.4zM524.8 227.9h7.2v1.5h-7.2zM546.4 227.9h7.2v1.5h-7.2zM517.6 224.9h7.2v1.5h-7.2zM539.2 221.9h7.2v1.5h-7.2zM524.8 220.4h7.2v1.5h-7.2zM553.6 218.9h7.2v1.5h-7.2zM510.4 217.4h7.2v1.5h-7.2zM517.6 215.9h7.2v1.5h-7.2zM517.6 214.4h7.2v1.5h-7.2zM546.4 214.4h7.2v1.5h-7.2zM524.8 212.9h7.2v1.5h-7.2zM517.6 211.4h7.2v1.5h-7.2zM539.2 211.4h7.2v1.5h-7.2zM539.2 209.9h7.2v1.5h-7.2zM524.8 206.9h7.2v1.5h-7.2zM517.6 205.4h7.2v1.5h-7.2zM532.0 200.9h7.2v1.5h-7.2zM503.2 196.4h14.4v1.5h-14.4zM510.4 194.9h7.2v1.5h-7.2zM517.6 190.4h7.2v1.5h-7.2zM503.2 188.9h7.2v1.5h-7.2zM510.4 185.9h7.2v1.5h-7.2zM496.1 184.3h7.2v1.5h-7.2zM503.2 182.8h7.2v1.5h-7.2zM517.6 182.8h7.2v1.5h-7.2zM496.1 178.3h7.2v1.5h-7.2zM496.1 175.3h7.2v1.5h-7.2zM510.4 175.3h7.2v1.5h-7.2zM503.2 167.8h7.2v1.5h-7.2zM496.1 166.3h7.2v1.5h-7.2zM481.7 155.8h7.2v1.5h-7.2zM503.2 155.8h7.2v1.5h-7.2zM510.4 154.3h7.2v1.5h-7.2zM488.9 152.8h7.2v1.5h-7.2zM488.9 148.3h7.2v1.5h-7.2zM496.1 146.8h7.2v1.5h-7.2zM481.7 145.3h7.2v1.5h-7.2zM488.9 143.8h7.2v1.5h-7.2zM496.1 142.3h7.2v1.5h-7.2zM503.2 140.8h7.2v1.5h-7.2zM481.7 137.8h7.2v1.5h-7.2zM481.7 136.3h7.2v1.5h-7.2zM488.9 124.2h7.2v1.5h-7.2zM474.5 113.7h7.2v1.5h-7.2zM488.9 112.2h7.2v1.5h-7.2zM481.7 104.7h7.2v1.5h-7.2zM467.3 103.2h7.2v1.5h-7.2zM481.7 100.2h7.2v1.5h-7.2zM474.5 97.2h7.2v1.5h-7.2zM460.1 86.7h7.2v1.5h-7.2zM460.1 79.1h7.2v1.5h-7.2zM460.1 76.1h14.4v1.5h-14.4zM481.7 74.6h7.2v1.5h-7.2zM460.1 71.6h7.2v1.5h-7.2zM460.1 62.6h7.2v1.5h-7.2zM481.7 61.1h7.2v1.5h-7.2zM438.5 58.1h7.2v1.5h-7.2zM467.3 50.6h7.2v1.5h-7.2zM452.9 43.1h7.2v1.5h-7.2zM460.1 38.6h7.2v1.5h-7.2zM452.9 32.5h7.2v1.5h-7.2zM445.7 31.0h7.2v1.5h-7.2zM384.3 19.0h3.9v1.5h-3.9zM438.5 19.0h7.2v1.5h-7.2zM395.4 17.5h7.2v1.5h-7.2zM438.5 16.0h7.2v1.5h-7.2zM438.5 13.0h7.2v1.5h-7.2z"/>
<path fill="#0073ff" d="M539.2 252.0h7.2v1.5h-7.2zM539.2 249.0h7.2v1.5h-7.2zM568.0 249.0h7.2v1.5h-7.2zM510.4 247.5h7.2v1.5h-7.2zM532.0 247.5h7.2v1.5h-7.2zM596.7 247.5h7.2v1.5h-7.2zM568.0 246.0h14.4v1.5h-14.4zM589.5 246.0h7.2v1.5h-7.2zM603.9 246.0h4.0v1.5h-4.0zM532.0 244.5h7.2v1.5h-7.2zM568.0 244.5h7.2v1.5h-7.2zM582.3 243.0h7.2v1.5h-7.2zM596.7 243.0h7.2v1.5h-7.2zM524.8 241.5h7.2v1.5h-7.2zM517.6 238.5h7.2v1.5h-7.2zM589.5 237.0h7.2v1.5h-7.2zM553.6 235.5h7.2v1.5h-7.2zM524.8 232.4h7.2v1.5h-7.2zM510.4 229.4h7.2v1.5h-7.2zM517.6 227.9h7.2v1.5h-7.2zM517.6 226.4h7.2v1.5h-7.2zM582.3 226.4h7.2v1.5h-7.2zM539.2 224.9h7.2v1.5h-7.2zM524.8 223.4h7.2v1.5h-7.2zM510.4 220.4h7.2v1.5h-7.2zM539.2 218.9h7.2v1.5h-7.2zM503.2 217.4h7.2v1.5h-7.2zM524.8 217.4h7.2v1.5h-7.2zM539.2 217.4h7.2v1.5h-7.2zM582.3 212.9h7.2v1.5h-7.2zM524.8 211.4h7.2v1.5h-7.2zM532.0 209.9h7.2v1.5h-7.2zM496.1 208.4h14.4v1.5h-14.4zM496.1 205.4h14.4v1.5h-14.4zM503.2 203.9h14.4v1.5h-14.4zM503.2 200.9h7.2v1.5h-7.2zM524.8 200.9h7.2v1.5h-7.2zM510.4 199.4h7.2v1.5h-7.2zM503.2 194.9h7.2v1.5h-7.2zM510.4 193.4h7.2v1.5h-7.2zM503.2 191.9h21.6v1.5h-21.6zM503.2 187.4h7.2v1.5h-7.2zM496.1 181.3h14.4v1.5h-14.4zM488.9 176.8h7.2v1.5h-7.2zM510.4 164.8h7.2v1.5h-7.2zM474.5 161.8h7.2v1.5h-7.2zM488.9 149.8h14.4v1.5h-14.4zM496.1 148.3h7.2v1.5h-7.2zM488.9 146.8h7.2v1.5h-7.2zM517.6 140.8h7.2v1.5h-7.2zM474.5 131.7h7.2v1.5h-7.2zM474.5 127.2h7.2v1.5h-7.2zM474.5 122.7h7.2v1.5h-7.2zM481.7 118.2h7.2v1.5h-7.2zM474.5 115.2h7.2v1.5h-7.2zM467.3 107.7h7.2v1.5h-7.2zM467.3 101.7h7.2v1.5h-7.2zM474.5 100.2h7.2v1.5h-7.2zM460.1 89.7h7.2v1.5h-7.2zM467.3 82.1h7.2v1.5h-7.2zM474.5 74.6h7.2v1.5h-7.2zM460.1 73.1h14.4v1.5h-14.4zM460.1 64.1h7.2v1.5h-7.2zM445.7 55.1h7.2v1.5h-7.2zM452.9 53.6h7.2v1.5h-7.2zM474.5 50.6h7.2v1.5h-7.2zM452.9 49.1h7.2v1.5h-7.2zM452.9 47.6h14.4v1.5h-14.4zM445.7 41.6h7.2v1.5h-7.2zM460.1 40.1h7.2v1.5h-7.2zM438.5 28.0h7.2v1.5h-7.2zM452.9 28.0h7.2v1.5h-7.2zM438.5 25.0h7.2v1.5h-7.2zM384.3 23.5h3.9v1.5h-3.9zM395.4 16.0h7.2v1.5h-7.2z"/>
<path fill="#0084ff" d="M589.5 250.5h7.2v1.5h-7.2zM510.4 249.0h7.2v1.5h-7.2zM553.6 249.0h7.2v1.5h-7.2zM546.4 247.5h14.4v1.5h-14.4zM568.0 247.5h7.2v1.5h-7.2zM524.8 246.0h14.4v1.5h-14.4zM546.4 246.0h14.4v1.5h-14.4zM575.1 244.5h7.2v1.5h-7.2zM596.7 244.5h7.2v1.5h-7.2zM539.2 243.0h7.2v1.5h-7.2zM568.0 243.0h14.4v1.5h-14.4zM524.8 240.0h7.2v1.5h-7.2zM524.8 238.5h7.2v1.5h-7.2zM532.0 237.0h7.2v1.5h-7.2zM603.9 237.0h4.0v1.5h-4.0zM496.1 235.5h14.4v1.5h-14.4zM568.0 235.5h7.2v1.5h-7.2zM517.6 232.4h7.2v1.5h-7.2zM496.1 229.4h7.2v1.5h-7.2zM524.8 218.9h14.4v1.5h-14.4zM517.6 217.4h7.2v1.5h-7.2zM524.8 215.9h7.2v1.5h-7.2zM503.2 214.4h7.2v1.5h-7.2zM510.4 208.4h7.2v1.5h-7.2zM510.4 206.9h7.2v1.5h-7.2zM517.6 203.9h7.2v1.5h-7.2zM510.4 202.4h7.2v1.5h-7.2zM510.4 200.9h14.4v1.5h-14.4zM503.2 193.4h7.2v1.5h-7.2zM517.6 193.4h7.2v1.5h-7.2zM503.2 190.4h7.2v1.5h-7.2zM496.1 188.9h7.2v1.5h-7.2zM481.7 170.8h7.2v1.5h-7.2zM481.7 166.3h7.2v1.5h-7.2zM488.9 163.3h7.2v1.5h-7.2zM496.1 161.8h7.2v1.5h-7.2zM496.1 158.8h7.2v1.5h-7.2zM496.1 157.3h7.2v1.5h-7.2zM488.9 155.8h7.2v1.5h-7.2zM503.2 154.3h7.2v1.5h-7.2zM481.7 151.3h7.2v1.5h-7.2zM496.1 151.3h7.2v1.5h-7.2zM481.7 149.8h7.2v1.5h-7.2zM481.7 148.3h7.2v1.5h-7.2zM474.5 143.8h14.4v1.5h-14.4zM496.1 140.8h7.2v1.5h-7.2zM481.7 139.3h14.4v1.5h-14.4zM467.3 134.7h14.4v1.5h-14.4zM496.1 134.7h7.2v1.5h-7.2zM474.5 133.2h7.2v1.5h-7.2zM481.7 131.7h7.2v1.5h-7.2zM503.2 128.7h7.2v1.5h-7.2zM460.1 125.7h7.2v1.5h-7.2zM488.9 122.7h7.2v1.5h-7.2zM481.7 121.2h7.2v1.5h-7.2zM467.3 119.7h7.2v1.5h-7.2zM481.7 119.7h7.2v1.5h-7.2zM467.3 115.2h7.2v1.5h-7.2zM474.5 110.7h7.2v1.5h-7.2zM460.1 109.2h7.2v1.5h-7.2zM481.7 106.2h7.2v1.5h-7.2zM467.3 104.7h7.2v1.5h-7.2zM474.5 101.7h7.2v1.5h-7.2zM467.3 98.7h7.2v1.5h-7.2zM467.3 95.7h7.2v1.5h-7.2zM460.1 94.2h7.2v1.5h-7.2zM467.3 92.7h7.2v1.5h-7.2zM460.1 85.1h7.2v1.5h-7.2zM460.1 77.6h7.2v1.5h-7.2zM438.5 65.6h7.2v1.5h-7.2zM460.1 59.6h7.2v1.5h-7.2zM445.7 56.6h7.2v1.5h-7.2zM460.1 56.6h7.2v1.5h-7.2zM460.1 46.1h7.2v1.5h-7.2zM452.9 38.6h7.2v1.5h-7.2zM445.7 37.0h7.2v1.5h-7.2zM445.7 35.5h14.4v1.5h-14.4zM452.9 34.0h7.2v1.5h-7.2zM460.1 31.0h7.2v1.5h-7.2zM431.3 26.5h7.2v1.5h-7.2z"/>
<path fill="#0094ff" d="M539.2 256.5h7.2v1.5h-7.2zM553.6 256.5h14.4v1.5h-14.4zM553.6 253.5h7.2v1.5h-7.2zM596.7 253.5h7.2v1.5h-7.2zM524.8 252.0h7.2v1.5h-7.2zM517.6 249.0h7.2v1.5h-7.2zM532.0 249.0h7.2v1.5h-7.2zM603.9 249.0h4.0v1.5h-4.0zM575.1 247.5h7.2v1.5h-7.2zM510.4 244.5h7.2v1.5h-7.2zM524.8 244.5h7.2v1.5h-7.2zM539.2 244.5h7.2v1.5h-7.2zM589.5 244.5h7.2v1.5h-7.2zM503.2 238.5h7.2v1.5h-7.2zM539.2 238.5h7.2v1.5h-7.2zM496.1 237.0h7.2v1.5h-7.2zM510.4 235.5h7.2v1.5h-7.2zM510.4 234.0h7.2v1.5h-7.2zM510.4 230.9h7.2v1.5h-7.2zM510.4 227.9h7.2v1.5h-7.2zM524.8 226.4h7.2v1.5h-7.2zM510.4 224.9h7.2v1.5h-7.2zM510.4 221.9h14.4v1.5h-14.4zM532.0 217.4h7.2v1.5h-7.2zM532.0 215.9h7.2v1.5h-7.2zM510.4 212.9h7.2v1.5h-7.2zM517.6 206.9h7.2v1.5h-7.2zM488.9 197.9h7.2v1.5h-7.2zM510.4 197.9h7.2v1.5h-7.2zM496.1 194.9h7.2v1.5h-7.2zM488.9 181.3h7.2v1.5h-7.2zM503.2 179.8h7.2v1.5h-7.2zM496.1 173.8h7.2v1.5h-7.2zM503.2 172.3h7.2v1.5h-7.2zM503.2 170.8h7.2v1.5h-7.2zM488.9 167.8h14.4v1.5h-14.4zM488.9 166.3h7.2v1.5h-7.2zM496.1 164.8h7.2v1.5h-7.2zM481.7 161.8h7.2v1.5h-7.2zM496.1 160.3h7.2v1.5h-7.2zM488.9 157.3h7.2v1.5h-7.2zM496.1 154.3h7.2v1.5h-7.2zM481.7 152.8h7.2v1.5h-7.2zM474.5 151.3h7.2v1.5h-7.2zM488.9 151.3h7.2v1.5h-7.2zM488.9 140.8h7.2v1.5h-7.2zM474.5 139.3h7.2v1.5h-7.2zM488.9 134.7h7.2v1.5h-7.2zM467.3 130.2h28.8v1.5h-28.8zM467.3 127.2h7.2v1.5h-7.2zM474.5 125.7h7.2v1.5h-7.2zM474.5 121.2h7.2v1.5h-7.2zM460.1 113.7h7.2v1.5h-7.2zM467.3 112.2h7.2v1.5h-7.2zM467.3 109.2h7.2v1.5h-7.2zM474.5 106.2h7.2v1.5h-7.2zM460.1 103.2h7.2v1.5h-7.2zM460.1 101.7h7.2v1.5h-7.2zM467.3 100.2h7.2v1.5h-7.2zM467.3 97.2h7.2v1.5h-7.2zM460.1 95.7h7.2v1.5h-7.2zM467.3 85.1h7.2v1.5h-7.2zM460.1 82.1h7.2v1.5h-7.2zM460.1 80.6h7.2v1.5h-7.2zM452.9 70.1h7.2v1.5h-7.2zM452.9 68.6h7.2v1.5h-7.2zM438.5 64.1h7.2v1.5h-7.2zM452.9 64.1h7.2v1.5h-7.2zM452.9 55.1h7.2v1.5h-7.2zM445.7 53.6h7.2v1.5h-7.2zM452.9 52.1h7.2v1.5h-7.2zM445.7 44.6h7.2v1.5h-7.2zM452.9 41.6h7.2v1.5h-7.2zM438.5 32.5h7.2v1.5h-7.2zM438.5 29.5h7.2v1.5h-7.2zM417.0 28.0h7.2v1.5h-7.2zM431.3 28.0h7.2v1.5h-7.2zM384.3 25.0h3.9v1.5h-3.9zM395.4 25.0h7.2v1.5h-7.2zM431.3 25.0h7.2v1.5h-7.2zM395.4 19.0h7.2v1.5h-7.2z"/>
<path fill="#00a4ff" d="M575.1 256.5h7.2v1.5h-7.2zM532.0 253.5h7.2v1.5h-7.2zM532.0 252.0h7.2v1.5h-7.2zM596.7 252.0h7.2v1.5h-7.2zM568.0 250.5h7.2v1.5h-7.2zM503.2 249.0h7.2v1.5h-7.2zM582.3 249.0h14.4v1.5h-14.4zM517.6 247.5h7.2v1.5h-7.2zM560.8 247.5h7.2v1.5h-7.2zM582.3 247.5h14.4v1.5h-14.4zM539.2 246.0h7.2v1.5h-7.2zM496.1 243.0h7.2v1.5h-7.2zM589.5 243.0h7.2v1.5h-7.2zM603.9 243.0h4.0v1.5h-4.0zM503.2 241.5h7.2v1.5h-7.2zM517.6 234.0h7.2v1.5h-7.2zM532.0 234.0h7.2v1.5h-7.2zM510.4 232.4h7.2v1.5h-7.2zM503.2 229.4h7.2v1.5h-7.2zM510.4 226.4h7.2v1.5h-7.2zM539.2 226.4h7.2v1.5h-7.2zM517.6 223.4h7.2v1.5h-7.2zM524.8 221.9h7.2v1.5h-7.2zM503.2 218.9h7.2v1.5h-7.2zM503.2 212.9h7.2v1.5h-7.2zM517.6 212.9h7.2v1.5h-7.2zM510.4 209.9h7.2v1.5h-7.2zM488.9 208.4h7.2v1.5h-7.2zM503.2 206.9h7.2v1.5h-7.2zM488.9 205.4h7.2v1.5h-7.2zM503.2 202.4h7.2v1.5h-7.2zM496.1 197.9h7.2v1.5h-7.2zM496.1 196.4h7.2v1.5h-7.2zM496.1 187.4h7.2v1.5h-7.2zM488.9 184.3h7.2v1.5h-7.2zM481.7 178.3h7.2v1.5h-7.2zM488.9 175.3h7.2v1.5h-7.2zM488.9 173.8h7.2v1.5h-7.2zM496.1 169.3h7.2v1.5h-7.2zM488.9 164.8h7.2v1.5h-7.2zM474.5 152.8h7.2v1.5h-7.2zM481.7 142.3h7.2v1.5h-7.2zM481.7 140.8h7.2v1.5h-7.2zM481.7 128.7h7.2v1.5h-7.2zM467.3 125.7h7.2v1.5h-7.2zM474.5 124.2h14.4v1.5h-14.4zM488.9 121.2h7.2v1.5h-7.2zM474.5 119.7h7.2v1.5h-7.2zM467.3 116.7h7.2v1.5h-7.2zM460.1 112.2h7.2v1.5h-7.2zM460.1 107.7h7.2v1.5h-7.2zM460.1 104.7h7.2v1.5h-7.2zM460.1 67.1h7.2v1.5h-7.2zM445.7 62.6h7.2v1.5h-7.2zM460.1 61.1h7.2v1.5h-7.2zM460.1 58.1h7.2v1.5h-7.2zM438.5 53.6h7.2v1.5h-7.2zM438.5 47.6h7.2v1.5h-7.2zM445.7 46.1h7.2v1.5h-7.2zM438.5 43.1h14.4v1.5h-14.4zM438.5 38.6h7.2v1.5h-7.2zM438.5 37.0h7.2v1.5h-7.2zM445.7 32.5h7.2v1.5h-7.2zM438.5 31.0h7.2v1.5h-7.2zM431.3 29.5h7.2v1.5h-7.2zM395.4 13.0h7.2v1.5h-7.2z"/>
<path fill="#00b4ff" d="M589.5 253.5h7.2v1.5h-7.2zM546.4 252.0h7.2v1.5h-7.2zM575.1 252.0h7.2v1.5h-7.2zM539.2 250.5h7.2v1.5h-7.2zM582.3 250.5h7.2v1.5h-7.2zM524.8 247.5h7.2v1.5h-7.2zM496.1 246.0h21.6v1.5h-21.6zM582.3 244.5h7.2v1.5h-7.2zM503.2 243.0h7.2v1.5h-7.2zM524.8 243.0h14.4v1.5h-14.4zM488.9 241.5h14.4v1.5h-14.4zM503.2 240.0h21.6v1.5h-21.6zM510.4 238.5h7.2v1.5h-7.2zM517.6 237.0h7.2v1.5h-7.2zM503.2 232.4h7.2v1.5h-7.2zM503.2 230.9h7.2v1.5h-7.2zM503.2 227.9h7.2v1.5h-7.2zM496.1 224.9h14.4v1.5h-14.4zM503.2 223.4h7.2v1.5h-7.2zM496.1 221.9h7.2v1.5h-7.2zM517.6 220.4h7.2v1.5h-7.2zM503.2 215.9h14.4v1.5h-14.4zM496.1 214.4h7.2v1.5h-7.2zM510.4 214.4h7.2v1.5h-7.2zM496.1 212.9h7.2v1.5h-7.2zM510.4 211.4h7.2v1.5h-7.2zM488.9 203.9h7.2v1.5h-7.2zM496.1 202.4h7.2v1.5h-7.2zM503.2 197.9h7.2v1.5h-7.2zM488.9 190.4h7.2v1.5h-7.2zM474.5 184.3h7.2v1.5h-7.2zM496.1 182.8h7.2v1.5h-7.2zM488.9 178.3h7.2v1.5h-7.2zM488.9 172.3h14.4v1.5h-14.4zM496.1 170.8h7.2v1.5h-7.2zM488.9 169.3h7.2v1.5h-7.2zM481.7 163.3h7.2v1.5h-7.2zM481.7 160.3h7.2v1.5h-7.2zM481.7 157.3h7.2v1.5h-7.2zM467.3 155.8h7.2v1.5h-7.2zM474.5 145.3h7.2v1.5h-7.2zM488.9 137.8h7.2v1.5h-7.2zM467.3 133.2h7.2v1.5h-7.2zM460.1 131.7h7.2v1.5h-7.2zM488.9 128.7h7.2v1.5h-7.2zM460.1 127.2h7.2v1.5h-7.2zM460.1 124.2h14.4v1.5h-14.4zM460.1 116.7h7.2v1.5h-7.2zM445.7 113.7h7.2v1.5h-7.2zM460.1 110.7h14.4v1.5h-14.4zM474.5 109.2h7.2v1.5h-7.2zM467.3 106.2h7.2v1.5h-7.2zM460.1 100.2h7.2v1.5h-7.2zM460.1 88.2h7.2v1.5h-7.2zM452.9 83.6h7.2v1.5h-7.2zM445.7 77.6h14.4v1.5h-14.4zM460.1 74.6h7.2v1.5h-7.2zM452.9 71.6h7.2v1.5h-7.2zM445.7 65.6h7.2v1.5h-7.2zM452.9 59.6h7.2v1.5h-7.2zM438.5 56.6h7.2v1.5h-7.2zM438.5 55.1h7.2v1.5h-7.2zM445.7 49.1h7.2v1.5h-7.2zM445.7 47.6h7.2v1.5h-7.2zM452.9 46.1h7.2v1.5h-7.2zM452.9 44.6h7.2v1.5h-7.2zM445.7 40.1h7.2v1.5h-7.2zM438.5 35.5h7.2v1.5h-7.2zM445.7 34.0h7.2v1.5h-7.2zM424.1 20.5h7.2v1.5h-7.2z"/>
<path fill="#00c4ff" d="M524.8 256.5h7.2v1.5h-7.2zM546.4 256.5h7.2v1.5h-7.2zM582.3 256.5h7.2v1.5h-7.2zM596.7 256.5h7.2v1.5h-7.2zM553.6 255.0h7.2v1.5h-7.2zM582.3 255.0h14.4v1.5h-14.4zM496.1 253.5h7.2v1.5h-7.2zM524.8 253.5h7.2v1.5h-7.2zM467.3 252.0h7.2v1.5h-7.2zM553.6 252.0h14.4v1.5h-14.4zM589.5 252.0h7.2v1.5h-7.2zM524.8 250.5h7.2v1.5h-7.2zM603.9 247.5h4.0v1.5h-4.0zM517.6 246.0h7.2v1.5h-7.2zM560.8 246.0h7.2v1.5h-7.2zM517.6 244.5h7.2v1.5h-7.2zM603.9 244.5h4.0v1.5h-4.0zM517.6 243.0h7.2v1.5h-7.2zM503.2 237.0h14.4v1.5h-14.4zM503.2 234.0h7.2v1.5h-7.2zM496.1 227.9h7.2v1.5h-7.2zM510.4 223.4h7.2v1.5h-7.2zM496.1 215.9h7.2v1.5h-7.2zM496.1 211.4h7.2v1.5h-7.2zM503.2 209.9h7.2v1.5h-7.2zM496.1 199.4h14.4v1.5h-14.4zM488.9 196.4h7.2v1.5h-7.2zM496.1 193.4h7.2v1.5h-7.2zM496.1 191.9h7.2v1.5h-7.2zM496.1 190.4h7.2v1.5h-7.2zM488.9 188.9h7.2v1.5h-7.2zM496.1 185.9h7.2v1.5h-7.2zM474.5 181.3h7.2v1.5h-7.2zM481.7 176.8h7.2v1.5h-7.2zM474.5 167.8h14.4v1.5h-14.4zM474.5 164.8h7.2v1.5h-7.2zM474.5 163.3h7.2v1.5h-7.2zM467.3 161.8h7.2v1.5h-7.2zM474.5 158.8h14.4v1.5h-14.4zM474.5 155.8h7.2v1.5h-7.2zM481.7 154.3h14.4v1.5h-14.4zM467.3 152.8h7.2v1.5h-7.2zM474.5 148.3h7.2v1.5h-7.2zM481.7 146.8h7.2v1.5h-7.2zM467.3 140.8h7.2v1.5h-7.2zM460.1 134.7h7.2v1.5h-7.2zM467.3 131.7h7.2v1.5h-7.2zM474.5 128.7h7.2v1.5h-7.2zM460.1 122.7h7.2v1.5h-7.2zM467.3 118.2h7.2v1.5h-7.2zM460.1 115.2h7.2v1.5h-7.2zM452.9 104.7h7.2v1.5h-7.2zM452.9 95.7h7.2v1.5h-7.2zM460.1 92.7h7.2v1.5h-7.2zM452.9 91.2h14.4v1.5h-14.4zM452.9 86.7h7.2v1.5h-7.2zM452.9 80.6h7.2v1.5h-7.2zM438.5 74.6h7.2v1.5h-7.2zM452.9 73.1h7.2v1.5h-7.2zM431.3 70.1h14.4v1.5h-14.4zM445.7 68.6h7.2v1.5h-7.2zM438.5 67.1h7.2v1.5h-7.2zM445.7 64.1h7.2v1.5h-7.2zM452.9 62.6h7.2v1.5h-7.2zM452.9 61.1h7.2v1.5h-7.2zM445.7 58.1h7.2v1.5h-7.2zM445.7 50.6h14.4v1.5h-14.4zM438.5 49.1h7.2v1.5h-7.2zM431.3 38.6h7.2v1.5h-7.2zM431.3 37.0h7.2v1.5h-7.2z"/>
<path fill="#00d4ff" d="M510.4 255.0h14.4v1.5h-14.4zM539.2 255.0h14.4v1.5h-14.4zM560.8 255.0h14.4v1.5h-14.4zM596.7 255.0h11.2v1.5h-11.2zM568.0 253.5h14.4v1.5h-14.4zM582.3 252.0h7.2v1.5h-7.2zM510.4 250.5h14.4v1.5h-14.4zM596.7 250.5h7.2v1.5h-7.2zM496.1 247.5h7.2v1.5h-7.2zM503.2 244.5h7.2v1.5h-7.2zM510.4 243.0h7.2v1.5h-7.2zM496.1 238.5h7.2v1.5h-7.2zM488.9 206.9h14.4v1.5h-14.4zM481.7 205.4h7.2v1.5h-7.2zM496.1 203.9h7.2v1.5h-7.2zM481.7 196.4h7.2v1.5h-7.2zM488.9 191.9h7.2v1.5h-7.2zM481.7 190.4h7.2v1.5h-7.2zM488.9 187.4h7.2v1.5h-7.2zM481.7 185.9h7.2v1.5h-7.2zM481.7 184.3h7.2v1.5h-7.2zM481.7 181.3h7.2v1.5h-7.2zM474.5 178.3h7.2v1.5h-7.2zM488.9 170.8h7.2v1.5h-7.2zM467.3 166.3h14.4v1.5h-14.4zM488.9 160.3h7.2v1.5h-7.2zM474.5 149.8h7.2v1.5h-7.2zM474.5 146.8h7.2v1.5h-7.2zM467.3 143.8h7.2v1.5h-7.2zM474.5 142.3h7.2v1.5h-7.2zM467.3 139.3h7.2v1.5h-7.2zM460.1 133.2h7.2v1.5h-7.2zM445.7 131.7h7.2v1.5h-7.2zM460.1 121.2h14.4v1.5h-14.4zM452.9 113.7h7.2v1.5h-7.2zM452.9 112.2h7.2v1.5h-7.2zM452.9 101.7h7.2v1.5h-7.2zM452.9 100.2h7.2v1.5h-7.2zM452.9 82.1h7.2v1.5h-7.2zM452.9 74.6h7.2v1.5h-7.2zM438.5 71.6h14.4v1.5h-14.4zM445.7 70.1h7.2v1.5h-7.2zM452.9 65.6h7.2v1.5h-7.2zM452.9 56.6h7.2v1.5h-7.2zM431.3 53.6h7.2v1.5h-7.2zM445.7 52.1h7.2v1.5h-7.2zM438.5 50.6h7.2v1.5h-7.2zM438.5 44.6h7.2v1.5h-7.2zM438.5 41.6h7.2v1.5h-7.2zM417.0 29.5h7.2v1.5h-7.2zM384.3 26.5h3.9v1.5h-3.9zM424.1 22.0h7.2v1.5h-7.2zM424.1 17.5h7.2v1.5h-7.2zM424.1 14.5h7.2v1.5h-7.2z"/>
<path fill="#00e5ff" d="M568.0 256.5h7.2v1.5h-7.2zM532.0 255.0h7.2v1.5h-7.2zM575.1 255.0h7.2v1.5h-7.2zM539.2 253.5h7.2v1.5h-7.2zM560.8 253.5h7.2v1.5h-7.2zM582.3 253.5h7.2v1.5h-7.2zM603.9 252.0h4.0v1.5h-4.0zM560.8 250.5h7.2v1.5h-7.2zM575.1 250.5h7.2v1.5h-7.2zM481.7 249.0h7.2v1.5h-7.2zM496.1 249.0h7.2v1.5h-7.2zM503.2 247.5h7.2v1.5h-7.2zM488.9 240.0h7.2v1.5h-7.2zM488.9 238.5h7.2v1.5h-7.2zM488.9 237.0h7.2v1.5h-7.2zM488.9 235.5h7.2v1.5h-7.2zM488.9 232.4h7.2v1.5h-7.2zM488.9 230.9h14.4v1.5h-14.4zM481.7 229.4h14.4v1.5h-14.4zM488.9 227.9h7.2v1.5h-7.2zM488.9 224.9h7.2v1.5h-7.2zM496.1 223.4h7.2v1.5h-7.2zM503.2 221.9h7.2v1.5h-7.2zM503.2 220.4h7.2v1.5h-7.2zM467.3 212.9h7.2v1.5h-7.2zM488.9 212.9h7.2v1.5h-7.2zM488.9 202.4h7.2v1.5h-7.2zM481.7 200.9h7.2v1.5h-7.2zM496.1 200.9h7.2v1.5h-7.2zM474.5 194.9h7.2v1.5h-7.2zM488.9 194.9h7.2v1.5h-7.2zM474.5 190.4h7.2v1.5h-7.2zM488.9 182.8h7.2v1.5h-7.2zM467.3 181.3h7.2v1.5h-7.2zM488.9 179.8h14.4v1.5h-14.4zM481.7 173.8h7.2v1.5h-7.2zM481.7 169.3h7.2v1.5h-7.2zM481.7 164.8h7.2v1.5h-7.2zM467.3 145.3h7.2v1.5h-7.2zM474.5 140.8h7.2v1.5h-7.2zM467.3 137.8h7.2v1.5h-7.2zM467.3 136.3h7.2v1.5h-7.2zM438.5 109.2h7.2v1.5h-7.2zM445.7 103.2h7.2v1.5h-7.2zM445.7 101.7h7.2v1.5h-7.2zM452.9 98.7h7.2v1.5h-7.2zM460.1 97.2h7.2v1.5h-7.2zM452.9 94.2h7.2v1.5h-7.2zM452.9 88.2h7.2v1.5h-7.2zM445.7 85.1h7.2v1.5h-7.2zM438.5 83.6h7.2v1.5h-7.2zM438.5 82.1h7.2v1.5h-7.2zM445.7 80.6h7.2v1.5h-7.2zM438.5 79.1h14.4v1.5h-14.4zM431.3 77.6h14.4v1.5h-14.4zM438.5 73.1h14.4v1.5h-14.4zM445.7 67.1h14.4v1.5h-14.4zM445.7 61.1h7.2v1.5h-7.2zM431.3 58.1h7.2v1.5h-7.2zM431.3 55.1h7.2v1.5h-7.2zM438.5 40.1h7.2v1.5h-7.2zM431.3 32.5h7.2v1.5h-7.2zM431.3 31.0h7.2v1.5h-7.2zM384.3 28.0h3.9v1.5h-3.9z"/>
<path fill="#00f5ff" d="M532.0 256.5h7.2v1.5h-7.2zM503.2 253.5h21.6v1.5h-21.6zM546.4 253.5h7.2v1.5h-7.2zM603.9 253.5h4.0v1.5h-4.0zM496.1 252.0h7.2v1.5h-7.2zM510.4 252.0h7.2v1.5h-7.2zM568.0 252.0h7.2v1.5h-7.2zM496.1 250.5h14.4v1.5h-14.4zM532.0 250.5h7.2v1.5h-7.2zM553.6 250.5h7.2v1.5h-7.2zM488.9 247.5h7.2v1.5h-7.2zM488.9 246.0h7.2v1.5h-7.2zM488.9 243.0h7.2v1.5h-7.2zM481.7 238.5h7.2v1.5h-7.2zM481.7 235.5h7.2v1.5h-7.2zM488.9 234.0h14.4v1.5h-14.4zM496.1 232.4h7.2v1.5h-7.2zM496.1 218.9h7.2v1.5h-7.2zM488.9 217.4h7.2v1.5h-7.2zM488.9 214.4h7.2v1.5h-7.2zM503.2 211.4h7.2v1.5h-7.2zM496.1 209.9h7.2v1.5h-7.2zM481.7 206.9h7.2v1.5h-7.2zM481.7 202.4h7.2v1.5h-7.2zM488.9 200.9h7.2v1.5h-7.2zM481.7 194.9h7.2v1.5h-7.2zM474.5 187.4h7.2v1.5h-7.2zM488.9 185.9h7.2v1.5h-7.2zM474.5 176.8h7.2v1.5h-7.2zM474.5 173.8h7.2v1.5h-7.2zM481.7 172.3h7.2v1.5h-7.2zM474.5 169.3h7.2v1.5h-7.2zM460.1 160.3h7.2v1.5h-7.2zM467.3 158.8h7.2v1.5h-7.2zM474.5 157.3h7.2v1.5h-7.2zM474.5 154.3h7.2v1.5h-7.2zM467.3 151.3h7.2v1.5h-7.2zM467.3 148.3h7.2v1.5h-7.2zM467.3 146.8h7.2v1.5h-7.2zM460.1 140.8h7.2v1.5h-7.2zM460.1 139.3h7.2v1.5h-7.2zM474.5 137.8h7.2v1.5h-7.2zM460.1 130.2h7.2v1.5h-7.2zM460.1 128.7h14.4v1.5h-14.4zM460.1 119.7h7.2v1.5h-7.2zM452.9 109.2h7.2v1.5h-7.2zM452.9 107.7h7.2v1.5h-7.2zM460.1 106.2h7.2v1.5h-7.2zM445.7 104.7h7.2v1.5h-7.2zM460.1 98.7h7.2v1.5h-7.2zM445.7 95.7h7.2v1.5h-7.2zM438.5 91.2h7.2v1.5h-7.2zM445.7 88.2h7.2v1.5h-7.2zM445.7 86.7h7.2v1.5h-7.2zM445.7 82.1h7.2v1.5h-7.2zM452.9 76.1h7.2v1.5h-7.2zM424.1 71.6h7.2v1.5h-7.2zM438.5 68.6h7.2v1.5h-7.2zM438.5 62.6h7.2v1.5h-7.2zM438.5 61.1h7.2v1.5h-7.2zM438.5 59.6h14.4v1.5h-14.4zM424.1 53.6h7.2v1.5h-7.2zM438.5 52.1h7.2v1.5h-7.2zM438.5 46.1h7.2v1.5h-7.2zM431.3 41.6h7.2v1.5h-7.2zM431.3 35.5h7.2v1.5h-7.2zM438.5 34.0h7.2v1.5h-7.2zM417.0 31.0h7.2v1.5h-7.2zM395.4 26.5h7.2v1.5h-7.2zM424.1 23.5h7.2v1.5h-7.2zM424.1 13.0h7.2v1.5h-7.2z"/>
<path fill="#06fff9" d="M503.2 256.5h21.6v1.5h-21.6zM467.3 255.0h7.2v1.5h-7.2zM503.2 255.0h7.2v1.5h-7.2zM524.8 255.0h7.2v1.5h-7.2zM503.2 252.0h7.2v1.5h-7.2zM488.9 250.5h7.2v1.5h-7.2zM603.9 250.5h4.0v1.5h-4.0zM488.9 249.0h7.2v1.5h-7.2zM481.7 247.5h7.2v1.5h-7.2zM481.7 240.0h7.2v1.5h-7.2zM496.1 226.4h14.4v1.5h-14.4zM481.7 223.4h7.2v1.5h-7.2zM488.9 221.9h7.2v1.5h-7.2zM496.1 220.4h7.2v1.5h-7.2zM488.9 215.9h7.2v1.5h-7.2zM481.7 212.9h7.2v1.5h-7.2zM481.7 203.9h7.2v1.5h-7.2zM481.7 197.9h7.2v1.5h-7.2zM488.9 193.4h7.2v1.5h-7.2zM481.7 191.9h7.2v1.5h-7.2zM481.7 187.4h7.2v1.5h-7.2zM474.5 185.9h7.2v1.5h-7.2zM467.3 184.3h7.2v1.5h-7.2zM481.7 182.8h7.2v1.5h-7.2zM467.3 178.3h7.2v1.5h-7.2zM474.5 175.3h7.2v1.5h-7.2zM467.3 172.3h7.2v1.5h-7.2zM467.3 164.8h7.2v1.5h-7.2zM467.3 163.3h7.2v1.5h-7.2zM467.3 160.3h7.2v1.5h-7.2zM460.1 158.8h7.2v1.5h-7.2zM460.1 143.8h7.2v1.5h-7.2zM467.3 142.3h7.2v1.5h-7.2zM460.1 137.8h7.2v1.5h-7.2zM452.9 136.3h14.4v1.5h-14.4zM452.9 131.7h7.2v1.5h-7.2zM452.9 130.2h7.2v1.5h-7.2zM452.9 124.2h7.2v1.5h-7.2zM460.1 118.2h7.2v1.5h-7.2zM438.5 115.2h7.2v1.5h-7.2zM452.9 103.2h7.2v1.5h-7.2zM438.5 101.7h7.2v1.5h-7.2zM452.9 92.7h7.2v1.5h-7.2zM452.9 85.1h7.2v1.5h-7.2zM452.9 79.1h7.2v1.5h-7.2zM438.5 76.1h7.2v1.5h-7.2zM445.7 74.6h7.2v1.5h-7.2zM424.1 65.6h7.2v1.5h-7.2zM431.3 56.6h7.2v1.5h-7.2zM424.1 52.1h14.4v1.5h-14.4zM431.3 49.1h7.2v1.5h-7.2zM431.3 40.1h7.2v1.5h-7.2zM431.3 34.0h7.2v1.5h-7.2zM395.4 28.0h7.2v1.5h-7.2zM424.1 28.0h7.2v1.5h-7.2zM424.1 26.5h7.2v1.5h-7.2zM424.1 25.0h7.2v1.5h-7.2zM388.2 19.0h7.2v1.5h-7.2zM424.1 19.0h7.2v1.5h-7.2zM424.1 16.0h7.2v1.5h-7.2z"/>
<path fill="#16ffe9" d="M589.5 256.5h7.2v1.5h-7.2zM488.9 255.0h14.4v1.5h-14.4zM488.9 252.0h7.2v1.5h-7.2zM474.5 249.0h7.2v1.5h-7.2zM467.3 247.5h7.2v1.5h-7.2zM474.5 244.5h7.2v1.5h-7.2zM496.1 244.5h7.2v1.5h-7.2zM481.7 243.0h7.2v1.5h-7.2zM481.7 241.5h7.2v1.5h-7.2zM488.9 226.4h7.2v1.5h-7.2zM481.7 224.9h7.2v1.5h-7.2zM488.9 223.4h7.2v1.5h-7.2zM496.1 217.4h7.2v1.5h-7.2zM481.7 215.9h7.2v1.5h-7.2zM481.7 214.4h7.2v1.5h-7.2zM488.9 209.9h7.2v1.5h-7.2zM467.3 205.4h14.4v1.5h-14.4zM488.9 199.4h7.2v1.5h-7.2zM474.5 196.4h7.2v1.5h-7.2zM474.5 191.9h7.2v1.5h-7.2zM481.7 188.9h7.2v1.5h-7.2zM467.3 176.8h7.2v1.5h-7.2zM481.7 175.3h7.2v1.5h-7.2zM460.1 167.8h14.4v1.5h-14.4zM460.1 163.3h7.2v1.5h-7.2zM474.5 160.3h7.2v1.5h-7.2zM467.3 154.3h7.2v1.5h-7.2zM460.1 151.3h7.2v1.5h-7.2zM467.3 149.8h7.2v1.5h-7.2zM445.7 145.3h7.2v1.5h-7.2zM460.1 145.3h7.2v1.5h-7.2zM452.9 143.8h7.2v1.5h-7.2zM445.7 139.3h14.4v1.5h-14.4zM438.5 136.3h7.2v1.5h-7.2zM452.9 127.2h7.2v1.5h-7.2zM445.7 125.7h7.2v1.5h-7.2zM452.9 119.7h7.2v1.5h-7.2zM445.7 116.7h7.2v1.5h-7.2zM438.5 112.2h7.2v1.5h-7.2zM445.7 109.2h7.2v1.5h-7.2zM445.7 107.7h7.2v1.5h-7.2zM452.9 97.2h7.2v1.5h-7.2zM445.7 91.2h7.2v1.5h-7.2zM445.7 83.6h7.2v1.5h-7.2zM438.5 80.6h7.2v1.5h-7.2zM445.7 76.1h7.2v1.5h-7.2zM431.3 74.6h7.2v1.5h-7.2zM431.3 68.6h7.2v1.5h-7.2zM431.3 64.1h7.2v1.5h-7.2zM431.3 62.6h7.2v1.5h-7.2zM424.1 49.1h7.2v1.5h-7.2zM431.3 46.1h7.2v1.5h-7.2zM424.1 35.5h7.2v1.5h-7.2zM424.1 32.5h7.2v1.5h-7.2z"/>
<path fill="#26ffd9" d="M460.1 256.5h7.2v1.5h-7.2zM488.9 256.5h14.4v1.5h-14.4zM603.9 256.5h4.0v1.5h-4.0zM488.9 253.5h7.2v1.5h-7.2zM474.5 247.5h7.2v1.5h-7.2zM488.9 244.5h7.2v1.5h-7.2zM467.3 243.0h7.2v1.5h-7.2zM488.9 220.4h7.2v1.5h-7.2zM481.7 217.4h7.2v1.5h-7.2zM474.5 215.9h7.2v1.5h-7.2zM481.7 211.4h7.2v1.5h-7.2zM474.5 202.4h7.2v1.5h-7.2zM481.7 199.4h7.2v1.5h-7.2zM474.5 197.9h7.2v1.5h-7.2zM481.7 193.4h7.2v1.5h-7.2zM467.3 190.4h7.2v1.5h-7.2zM460.1 181.3h7.2v1.5h-7.2zM467.3 179.8h7.2v1.5h-7.2zM460.1 178.3h7.2v1.5h-7.2zM467.3 175.3h7.2v1.5h-7.2zM467.3 169.3h7.2v1.5h-7.2zM460.1 166.3h7.2v1.5h-7.2zM460.1 161.8h7.2v1.5h-7.2zM460.1 152.8h7.2v1.5h-7.2zM445.7 134.7h14.4v1.5h-14.4zM445.7 133.2h7.2v1.5h-7.2zM431.3 127.2h7.2v1.5h-7.2zM445.7 127.2h7.2v1.5h-7.2zM452.9 125.7h7.2v1.5h-7.2zM438.5 122.7h7.2v1.5h-7.2zM452.9 122.7h7.2v1.5h-7.2zM452.9 121.2h7.2v1.5h-7.2zM445.7 118.2h14.4v1.5h-14.4zM438.5 116.7h7.2v1.5h-7.2zM452.9 116.7h7.2v1.5h-7.2zM452.9 115.2h7.2v1.5h-7.2zM445.7 112.2h7.2v1.5h-7.2zM438.5 104.7h7.2v1.5h-7.2zM445.7 97.2h7.2v1.5h-7.2zM445.7 94.2h7.2v1.5h-7.2zM438.5 89.7h7.2v1.5h-7.2zM452.9 89.7h7.2v1.5h-7.2zM438.5 88.2h7.2v1.5h-7.2zM431.3 71.6h7.2v1.5h-7.2zM431.3 59.6h7.2v1.5h-7.2zM431.3 43.1h7.2v1.5h-7.2zM424.1 41.6h7.2v1.5h-7.2zM417.0 40.1h7.2v1.5h-7.2zM417.0 37.0h14.4v1.5h-14.4zM417.0 34.0h14.4v1.5h-14.4zM395.4 29.5h7.2v1.5h-7.2zM409.8 26.5h7.2v1.5h-7.2zM409.8 25.0h7.2v1.5h-7.2zM409.8 23.5h7.2v1.5h-7.2zM409.8 22.0h7.2v1.5h-7.2z"/>
<path fill="#37ffc8" d="M474.5 256.5h14.4v1.5h-14.4zM474.5 252.0h7.2v1.5h-7.2zM467.3 250.5h7.2v1.5h-7.2zM481.7 246.0h7.2v1.5h-7.2zM467.3 241.5h7.2v1.5h-7.2zM481.7 237.0h7.2v1.5h-7.2zM481.7 234.0h7.2v1.5h-7.2zM481.7 226.4h7.2v1.5h-7.2zM474.5 224.9h7.2v1.5h-7.2zM481.7 220.4h7.2v1.5h-7.2zM474.5 214.4h7.2v1.5h-7.2zM488.9 211.4h7.2v1.5h-7.2zM474.5 209.9h7.2v1.5h-7.2zM481.7 208.4h7.2v1.5h-7.2zM474.5 206.9h7.2v1.5h-7.2zM474.5 203.9h7.2v1.5h-7.2zM467.3 202.4h7.2v1.5h-7.2zM474.5 200.9h7.2v1.5h-7.2zM467.3 196.4h7.2v1.5h-7.2zM474.5 182.8h7.2v1.5h-7.2zM474.5 179.8h14.4v1.5h-14.4zM474.5 172.3h7.2v1.5h-7.2zM467.3 170.8h14.4v1.5h-14.4zM467.3 157.3h7.2v1.5h-7.2zM460.1 155.8h7.2v1.5h-7.2zM445.7 143.8h7.2v1.5h-7.2zM452.9 137.8h7.2v1.5h-7.2zM452.9 133.2h7.2v1.5h-7.2zM445.7 124.2h7.2v1.5h-7.2zM445.7 121.2h7.2v1.5h-7.2zM438.5 119.7h7.2v1.5h-7.2zM445.7 115.2h7.2v1.5h-7.2zM445.7 110.7h14.4v1.5h-14.4zM445.7 100.2h7.2v1.5h-7.2zM445.7 98.7h7.2v1.5h-7.2zM438.5 97.2h7.2v1.5h-7.2zM438.5 94.2h7.2v1.5h-7.2zM438.5 92.7h7.2v1.5h-7.2zM445.7 89.7h7.2v1.5h-7.2zM438.5 86.7h7.2v1.5h-7.2zM431.3 85.1h7.2v1.5h-7.2zM431.3 80.6h7.2v1.5h-7.2zM431.3 79.1h7.2v1.5h-7.2zM417.0 65.6h7.2v1.5h-7.2zM431.3 65.6h7.2v1.5h-7.2zM424.1 58.1h7.2v1.5h-7.2zM431.3 47.6h7.2v1.5h-7.2zM424.1 43.1h7.2v1.5h-7.2zM424.1 40.1h7.2v1.5h-7.2zM417.0 32.5h7.2v1.5h-7.2zM424.1 29.5h7.2v1.5h-7.2zM388.2 22.0h7.2v1.5h-7.2zM402.6 17.5h14.4v1.5h-14.4zM409.8 16.0h7.2v1.5h-7.2z"/>
<path fill="#47ffb8" d="M481.7 255.0h7.2v1.5h-7.2zM481.7 253.5h7.2v1.5h-7.2zM481.7 250.5h7.2v1.5h-7.2zM467.3 249.0h7.2v1.5h-7.2zM467.3 246.0h7.2v1.5h-7.2zM481.7 244.5h7.2v1.5h-7.2zM474.5 243.0h7.2v1.5h-7.2zM474.5 241.5h7.2v1.5h-7.2zM467.3 238.5h7.2v1.5h-7.2zM467.3 237.0h7.2v1.5h-7.2zM481.7 232.4h7.2v1.5h-7.2zM481.7 230.9h7.2v1.5h-7.2zM467.3 229.4h7.2v1.5h-7.2zM481.7 227.9h7.2v1.5h-7.2zM481.7 221.9h7.2v1.5h-7.2zM481.7 209.9h7.2v1.5h-7.2zM474.5 208.4h7.2v1.5h-7.2zM460.1 188.9h7.2v1.5h-7.2zM467.3 187.4h7.2v1.5h-7.2zM460.1 184.3h7.2v1.5h-7.2zM460.1 179.8h7.2v1.5h-7.2zM460.1 157.3h7.2v1.5h-7.2zM452.9 152.8h7.2v1.5h-7.2zM452.9 149.8h7.2v1.5h-7.2zM460.1 148.3h7.2v1.5h-7.2zM460.1 146.8h7.2v1.5h-7.2zM452.9 142.3h14.4v1.5h-14.4zM452.9 140.8h7.2v1.5h-7.2zM431.3 133.2h14.4v1.5h-14.4zM445.7 122.7h7.2v1.5h-7.2zM438.5 121.2h7.2v1.5h-7.2zM438.5 113.7h7.2v1.5h-7.2zM438.5 107.7h7.2v1.5h-7.2zM452.9 106.2h7.2v1.5h-7.2zM438.5 103.2h7.2v1.5h-7.2zM445.7 92.7h7.2v1.5h-7.2zM431.3 76.1h7.2v1.5h-7.2zM424.1 73.1h14.4v1.5h-14.4zM424.1 67.1h14.4v1.5h-14.4zM424.1 59.6h7.2v1.5h-7.2zM424.1 56.6h7.2v1.5h-7.2zM417.0 47.6h7.2v1.5h-7.2zM431.3 44.6h7.2v1.5h-7.2zM424.1 38.6h7.2v1.5h-7.2zM384.3 29.5h3.9v1.5h-3.9zM409.8 20.5h7.2v1.5h-7.2zM388.2 17.5h7.2v1.5h-7.2zM388.2 16.0h7.2v1.5h-7.2zM402.6 14.5h7.2v1.5h-7.2z"/>
<path fill="#57ffa8" d="M438.5 256.5h7.2v1.5h-7.2zM467.3 256.5h7.2v1.5h-7.2zM445.7 255.0h14.4v1.5h-14.4zM474.5 255.0h7.2v1.5h-7.2zM474.5 253.5h7.2v1.5h-7.2zM460.1 252.0h7.2v1.5h-7.2zM474.5 250.5h7.2v1.5h-7.2zM474.5 238.5h7.2v1.5h-7.2zM474.5 237.0h7.2v1.5h-7.2zM474.5 234.0h7.2v1.5h-7.2zM474.5 232.4h7.2v1.5h-7.2zM474.5 230.9h7.2v1.5h-7.2zM474.5 229.4h7.2v1.5h-7.2zM467.3 227.9h7.2v1.5h-7.2zM467.3 221.9h7.2v1.5h-7.2zM467.3 220.4h7.2v1.5h-7.2zM481.7 218.9h14.4v1.5h-14.4zM474.5 217.4h7.2v1.5h-7.2zM474.5 211.4h7.2v1.5h-7.2zM467.3 209.9h7.2v1.5h-7.2zM467.3 206.9h7.2v1.5h-7.2zM467.3 203.9h7.2v1.5h-7.2zM467.3 200.9h7.2v1.5h-7.2zM467.3 197.9h7.2v1.5h-7.2zM467.3 194.9h7.2v1.5h-7.2zM460.1 193.4h7.2v1.5h-7.2zM474.5 193.4h7.2v1.5h-7.2zM467.3 191.9h7.2v1.5h-7.2zM445.7 181.3h7.2v1.5h-7.2zM460.1 175.3h7.2v1.5h-7.2zM460.1 173.8h7.2v1.5h-7.2zM460.1 164.8h7.2v1.5h-7.2zM452.9 163.3h7.2v1.5h-7.2zM452.9 160.3h7.2v1.5h-7.2zM445.7 158.8h7.2v1.5h-7.2zM460.1 154.3h7.2v1.5h-7.2zM452.9 151.3h7.2v1.5h-7.2zM460.1 149.8h7.2v1.5h-7.2zM452.9 146.8h7.2v1.5h-7.2zM438.5 143.8h7.2v1.5h-7.2zM438.5 139.3h7.2v1.5h-7.2zM445.7 137.8h7.2v1.5h-7.2zM445.7 136.3h7.2v1.5h-7.2zM438.5 134.7h7.2v1.5h-7.2zM445.7 130.2h7.2v1.5h-7.2zM438.5 127.2h7.2v1.5h-7.2zM438.5 125.7h7.2v1.5h-7.2zM445.7 119.7h7.2v1.5h-7.2zM431.3 118.2h7.2v1.5h-7.2zM424.1 110.7h7.2v1.5h-7.2zM431.3 107.7h7.2v1.5h-7.2zM438.5 106.2h14.4v1.5h-14.4zM438.5 100.2h7.2v1.5h-7.2zM438.5 85.1h7.2v1.5h-7.2zM424.1 83.6h7.2v1.5h-7.2zM424.1 80.6h7.2v1.5h-7.2zM424.1 74.6h7.2v1.5h-7.2zM424.1 70.1h7.2v1.5h-7.2zM431.3 61.1h7.2v1.5h-7.2zM431.3 50.6h7.2v1.5h-7.2zM424.1 47.6h7.2v1.5h-7.2zM417.0 46.1h7.2v1.5h-7.2zM384.3 31.0h3.9v1.5h-3.9zM409.8 28.0h7.2v1.5h-7.2zM409.8 19.0h7.2v1.5h-7.2z"/>
<path fill="#67ff98" d="M438.5 255.0h7.2v1.5h-7.2zM460.1 255.0h7.2v1.5h-7.2zM460.1 253.5h7.2v1.5h-7.2zM481.7 252.0h7.2v1.5h-7.2zM467.3 240.0h14.4v1.5h-14.4zM467.3 232.4h7.2v1.5h-7.2zM467.3 230.9h7.2v1.5h-7.2zM474.5 226.4h7.2v1.5h-7.2zM467.3 223.4h7.2v1.5h-7.2zM474.5 220.4h7.2v1.5h-7.2zM467.3 215.9h7.2v1.5h-7.2zM474.5 212.9h7.2v1.5h-7.2zM460.1 197.9h7.2v1.5h-7.2zM467.3 188.9h14.4v1.5h-14.4zM452.9 184.3h7.2v1.5h-7.2zM452.9 179.8h7.2v1.5h-7.2zM452.9 173.8h7.2v1.5h-7.2zM467.3 173.8h7.2v1.5h-7.2zM460.1 172.3h7.2v1.5h-7.2zM445.7 163.3h7.2v1.5h-7.2zM452.9 158.8h7.2v1.5h-7.2zM452.9 157.3h7.2v1.5h-7.2zM445.7 148.3h7.2v1.5h-7.2zM452.9 145.3h7.2v1.5h-7.2zM438.5 131.7h7.2v1.5h-7.2zM438.5 130.2h7.2v1.5h-7.2zM445.7 128.7h14.4v1.5h-14.4zM438.5 124.2h7.2v1.5h-7.2zM438.5 118.2h7.2v1.5h-7.2zM431.3 116.7h7.2v1.5h-7.2zM431.3 104.7h7.2v1.5h-7.2zM431.3 103.2h7.2v1.5h-7.2zM431.3 98.7h14.4v1.5h-14.4zM438.5 95.7h7.2v1.5h-7.2zM431.3 86.7h7.2v1.5h-7.2zM424.1 64.1h7.2v1.5h-7.2zM424.1 55.1h7.2v1.5h-7.2zM424.1 50.6h7.2v1.5h-7.2zM424.1 46.1h7.2v1.5h-7.2zM424.1 44.6h7.2v1.5h-7.2zM409.8 40.1h7.2v1.5h-7.2zM417.0 35.5h7.2v1.5h-7.2zM424.1 31.0h7.2v1.5h-7.2zM388.2 23.5h7.2v1.5h-7.2zM402.6 22.0h7.2v1.5h-7.2zM402.6 20.5h7.2v1.5h-7.2zM402.6 16.0h7.2v1.5h-7.2zM388.2 14.5h7.2v1.5h-7.2z"/>
<path fill="#77ff88" d="M452.9 256.5h7.2v1.5h-7.2zM431.3 255.0h7.2v1.5h-7.2zM438.5 253.5h7.2v1.5h-7.2zM467.3 253.5h7.2v1.5h-7.2zM452.9 252.0h7.2v1.5h-7.2zM460.1 249.0h7.2v1.5h-7.2zM460.1 247.5h7.2v1.5h-7.2zM474.5 246.0h7.2v1.5h-7.2zM467.3 244.5h7.2v1.5h-7.2zM474.5 235.5h7.2v1.5h-7.2zM474.5 227.9h7.2v1.5h-7.2zM474.5 223.4h7.2v1.5h-7.2zM474.5 221.9h7.2v1.5h-7.2zM467.3 214.4h7.2v1.5h-7.2zM452.9 212.9h7.2v1.5h-7.2zM467.3 211.4h7.2v1.5h-7.2zM467.3 208.4h7.2v1.5h-7.2zM460.1 202.4h7.2v1.5h-7.2zM474.5 199.4h7.2v1.5h-7.2zM452.9 196.4h14.4v1.5h-14.4zM460.1 194.9h7.2v1.5h-7.2zM467.3 193.4h7.2v1.5h-7.2zM460.1 191.9h7.2v1.5h-7.2zM460.1 190.4h7.2v1.5h-7.2zM452.9 187.4h7.2v1.5h-7.2zM460.1 185.9h7.2v1.5h-7.2zM452.9 178.3h7.2v1.5h-7.2zM460.1 176.8h7.2v1.5h-7.2zM452.9 172.3h7.2v1.5h-7.2zM460.1 169.3h7.2v1.5h-7.2zM445.7 167.8h7.2v1.5h-7.2zM445.7 166.3h14.4v1.5h-14.4zM452.9 161.8h7.2v1.5h-7.2zM452.9 155.8h7.2v1.5h-7.2zM445.7 152.8h7.2v1.5h-7.2zM452.9 148.3h7.2v1.5h-7.2zM445.7 146.8h7.2v1.5h-7.2zM445.7 140.8h7.2v1.5h-7.2zM438.5 137.8h7.2v1.5h-7.2zM424.1 133.2h7.2v1.5h-7.2zM431.3 125.7h7.2v1.5h-7.2zM424.1 122.7h7.2v1.5h-7.2zM431.3 115.2h7.2v1.5h-7.2zM431.3 97.2h7.2v1.5h-7.2zM424.1 91.2h7.2v1.5h-7.2zM431.3 89.7h7.2v1.5h-7.2zM431.3 88.2h7.2v1.5h-7.2zM424.1 82.1h14.4v1.5h-14.4zM424.1 77.6h7.2v1.5h-7.2zM424.1 68.6h7.2v1.5h-7.2zM402.6 32.5h7.2v1.5h-7.2zM402.6 29.5h7.2v1.5h-7.2zM388.2 25.0h7.2v1.5h-7.2zM402.6 23.5h7.2v1.5h-7.2zM388.2 20.5h7.2v1.5h-7.2z"/>
<path fill="#88ff77" d="M452.9 249.0h7.2v1.5h-7.2zM445.7 247.5h7.2v1.5h-7.2zM460.1 240.0h7.2v1.5h-7.2zM445.7 238.5h7.2v1.5h-7.2zM467.3 235.5h7.2v1.5h-7.2zM467.3 226.4h7.2v1.5h-7.2zM467.3 224.9h7.2v1.5h-7.2zM467.3 218.9h14.4v1.5h-14.4zM467.3 217.4h7.2v1.5h-7.2zM460.1 215.9h7.2v1.5h-7.2zM460.1 214.4h7.2v1.5h-7.2zM460.1 209.9h7.2v1.5h-7.2zM460.1 205.4h7.2v1.5h-7.2zM445.7 196.4h7.2v1.5h-7.2zM460.1 187.4h7.2v1.5h-7.2zM467.3 185.9h7.2v1.5h-7.2zM460.1 182.8h7.2v1.5h-7.2zM452.9 181.3h7.2v1.5h-7.2zM452.9 167.8h7.2v1.5h-7.2zM445.7 161.8h7.2v1.5h-7.2zM438.5 149.8h7.2v1.5h-7.2zM431.3 145.3h7.2v1.5h-7.2zM445.7 142.3h7.2v1.5h-7.2zM431.3 131.7h7.2v1.5h-7.2zM438.5 128.7h7.2v1.5h-7.2zM431.3 124.2h7.2v1.5h-7.2zM431.3 121.2h7.2v1.5h-7.2zM431.3 113.7h7.2v1.5h-7.2zM431.3 112.2h7.2v1.5h-7.2zM438.5 110.7h7.2v1.5h-7.2zM431.3 109.2h7.2v1.5h-7.2zM431.3 106.2h7.2v1.5h-7.2zM431.3 92.7h7.2v1.5h-7.2zM424.1 88.2h7.2v1.5h-7.2zM431.3 83.6h7.2v1.5h-7.2zM424.1 76.1h7.2v1.5h-7.2zM417.0 71.6h7.2v1.5h-7.2zM417.0 58.1h7.2v1.5h-7.2zM409.8 44.6h7.2v1.5h-7.2zM417.0 43.1h7.2v1.5h-7.2zM417.0 41.6h7.2v1.5h-7.2zM384.3 37.0h3.9v1.5h-3.9zM402.6 37.0h7.2v1.5h-7.2zM402.6 35.5h7.2v1.5h-7.2zM384.3 34.0h3.9v1.5h-3.9zM395.4 31.0h7.2v1.5h-7.2zM409.8 31.0h7.2v1.5h-7.2zM409.8 29.5h7.2v1.5h-7.2zM388.2 26.5h7.2v1.5h-7.2zM409.8 14.5h7.2v1.5h-7.2zM409.8 13.0h7.2v1.5h-7.2z"/>
<path fill="#98ff67" d="M424.1 256.5h7.2v1.5h-7.2zM445.7 256.5h7.2v1.5h-7.2zM424.1 255.0h7.2v1.5h-7.2zM445.7 253.5h7.2v1.5h-7.2zM460.1 250.5h7.2v1.5h-7.2zM452.9 247.5h7.2v1.5h-7.2zM460.1 246.0h7.2v1.5h-7.2zM431.3 244.5h7.2v1.5h-7.2zM467.3 234.0h7.2v1.5h-7.2zM460.1 224.9h7.2v1.5h-7.2zM438.5 215.9h7.2v1.5h-7.2zM460.1 211.4h7.2v1.5h-7.2zM460.1 208.4h7.2v1.5h-7.2zM452.9 202.4h7.2v1.5h-7.2zM460.1 200.9h7.2v1.5h-7.2zM445.7 199.4h7.2v1.5h-7.2zM467.3 199.4h7.2v1.5h-7.2zM467.3 182.8h7.2v1.5h-7.2zM438.5 179.8h7.2v1.5h-7.2zM438.5 164.8h7.2v1.5h-7.2zM452.9 164.8h7.2v1.5h-7.2zM438.5 161.8h7.2v1.5h-7.2zM438.5 151.3h14.4v1.5h-14.4zM438.5 148.3h7.2v1.5h-7.2zM438.5 145.3h7.2v1.5h-7.2zM438.5 142.3h7.2v1.5h-7.2zM431.3 139.3h7.2v1.5h-7.2zM424.1 127.2h7.2v1.5h-7.2zM431.3 122.7h7.2v1.5h-7.2zM424.1 116.7h7.2v1.5h-7.2zM431.3 110.7h7.2v1.5h-7.2zM424.1 101.7h14.4v1.5h-14.4zM431.3 91.2h7.2v1.5h-7.2zM424.1 79.1h7.2v1.5h-7.2zM409.8 58.1h7.2v1.5h-7.2zM417.0 56.6h7.2v1.5h-7.2zM409.8 53.6h14.4v1.5h-14.4zM417.0 38.6h7.2v1.5h-7.2zM409.8 37.0h7.2v1.5h-7.2zM384.3 32.5h3.9v1.5h-3.9zM402.6 26.5h7.2v1.5h-7.2zM402.6 19.0h7.2v1.5h-7.2z"/>
<path fill="#a8ff57" d="M417.0 256.5h7.2v1.5h-7.2zM431.3 256.5h7.2v1.5h-7.2zM452.9 253.5h7.2v1.5h-7.2zM445.7 249.0h7.2v1.5h-7.2zM452.9 246.0h7.2v1.5h-7.2zM460.1 241.5h7.2v1.5h-7.2zM460.1 238.5h7.2v1.5h-7.2zM452.9 229.4h7.2v1.5h-7.2zM460.1 227.9h7.2v1.5h-7.2zM460.1 220.4h7.2v1.5h-7.2zM460.1 212.9h7.2v1.5h-7.2zM460.1 203.9h7.2v1.5h-7.2zM438.5 196.4h7.2v1.5h-7.2zM452.9 194.9h7.2v1.5h-7.2zM445.7 176.8h7.2v1.5h-7.2zM445.7 170.8h7.2v1.5h-7.2zM438.5 166.3h7.2v1.5h-7.2zM445.7 164.8h7.2v1.5h-7.2zM438.5 163.3h7.2v1.5h-7.2zM445.7 160.3h7.2v1.5h-7.2zM445.7 157.3h7.2v1.5h-7.2zM438.5 155.8h14.4v1.5h-14.4zM452.9 154.3h7.2v1.5h-7.2zM438.5 152.8h7.2v1.5h-7.2zM431.3 142.3h7.2v1.5h-7.2zM438.5 140.8h7.2v1.5h-7.2zM431.3 136.3h7.2v1.5h-7.2zM431.3 130.2h7.2v1.5h-7.2zM417.0 127.2h7.2v1.5h-7.2zM424.1 125.7h7.2v1.5h-7.2zM424.1 121.2h7.2v1.5h-7.2zM424.1 107.7h7.2v1.5h-7.2zM424.1 104.7h7.2v1.5h-7.2zM424.1 98.7h7.2v1.5h-7.2zM431.3 95.7h7.2v1.5h-7.2zM431.3 94.2h7.2v1.5h-7.2zM424.1 92.7h7.2v1.5h-7.2zM424.1 85.1h7.2v1.5h-7.2zM417.0 77.6h7.2v1.5h-7.2zM424.1 61.1h7.2v1.5h-7.2zM417.0 52.1h7.2v1.5h-7.2zM409.8 47.6h7.2v1.5h-7.2zM384.3 44.6h3.9v1.5h-3.9zM417.0 44.6h7.2v1.5h-7.2zM384.3 35.5h3.9v1.5h-3.9zM395.4 35.5h7.2v1.5h-7.2zM409.8 34.0h7.2v1.5h-7.2zM402.6 31.0h7.2v1.5h-7.2zM388.2 29.5h7.2v1.5h-7.2zM402.6 25.0h7.2v1.5h-7.2zM388.2 13.0h7.2v1.5h-7.2zM402.6 13.0h7.2v1.5h-7.2z"/>
<path fill="#b8ff47" d="M438.5 252.0h14.4v1.5h-14.4zM438.5 250.5h7.2v1.5h-7.2zM452.9 244.5h14.4v1.5h-14.4zM452.9 238.5h7.2v1.5h-7.2zM438.5 229.4h7.2v1.5h-7.2zM460.1 217.4h7.2v1.5h-7.2zM452.9 215.9h7.2v1.5h-7.2zM452.9 211.4h7.2v1.5h-7.2zM452.9 209.9h7.2v1.5h-7.2zM445.7 208.4h7.2v1.5h-7.2zM452.9 206.9h7.2v1.5h-7.2zM452.9 205.4h7.2v1.5h-7.2zM452.9 203.9h7.2v1.5h-7.2zM445.7 200.9h7.2v1.5h-7.2zM460.1 199.4h7.2v1.5h-7.2zM452.9 197.9h7.2v1.5h-7.2zM452.9 191.9h7.2v1.5h-7.2zM452.9 190.4h7.2v1.5h-7.2zM438.5 187.4h7.2v1.5h-7.2zM452.9 185.9h7.2v1.5h-7.2zM445.7 184.3h7.2v1.5h-7.2zM438.5 181.3h7.2v1.5h-7.2zM445.7 178.3h7.2v1.5h-7.2zM452.9 176.8h7.2v1.5h-7.2zM460.1 170.8h7.2v1.5h-7.2zM438.5 160.3h7.2v1.5h-7.2zM438.5 154.3h7.2v1.5h-7.2zM445.7 149.8h7.2v1.5h-7.2zM438.5 146.8h7.2v1.5h-7.2zM424.1 145.3h7.2v1.5h-7.2zM431.3 134.7h7.2v1.5h-7.2zM431.3 128.7h7.2v1.5h-7.2zM409.8 121.2h14.4v1.5h-14.4zM424.1 118.2h7.2v1.5h-7.2zM424.1 115.2h7.2v1.5h-7.2zM417.0 103.2h7.2v1.5h-7.2zM424.1 97.2h7.2v1.5h-7.2zM424.1 86.7h7.2v1.5h-7.2zM417.0 76.1h7.2v1.5h-7.2zM424.1 62.6h7.2v1.5h-7.2zM384.3 58.1h3.9v1.5h-3.9zM417.0 55.1h7.2v1.5h-7.2zM417.0 49.1h7.2v1.5h-7.2zM384.3 46.1h3.9v1.5h-3.9zM409.8 41.6h7.2v1.5h-7.2zM409.8 32.5h7.2v1.5h-7.2zM402.6 28.0h7.2v1.5h-7.2z"/>
<path fill="#c8ff37" d="M417.0 255.0h7.2v1.5h-7.2zM431.3 253.5h7.2v1.5h-7.2zM452.9 250.5h7.2v1.5h-7.2zM438.5 249.0h7.2v1.5h-7.2zM460.1 243.0h7.2v1.5h-7.2zM452.9 241.5h7.2v1.5h-7.2zM445.7 235.5h7.2v1.5h-7.2zM460.1 232.4h7.2v1.5h-7.2zM460.1 230.9h7.2v1.5h-7.2zM438.5 226.4h7.2v1.5h-7.2zM460.1 226.4h7.2v1.5h-7.2zM460.1 221.9h7.2v1.5h-7.2zM460.1 218.9h7.2v1.5h-7.2zM438.5 217.4h7.2v1.5h-7.2zM445.7 215.9h7.2v1.5h-7.2zM452.9 214.4h7.2v1.5h-7.2zM452.9 208.4h7.2v1.5h-7.2zM445.7 202.4h7.2v1.5h-7.2zM445.7 194.9h7.2v1.5h-7.2zM438.5 188.9h7.2v1.5h-7.2zM452.9 188.9h7.2v1.5h-7.2zM424.1 184.3h7.2v1.5h-7.2zM431.3 179.8h7.2v1.5h-7.2zM452.9 175.3h7.2v1.5h-7.2zM445.7 172.3h7.2v1.5h-7.2zM452.9 170.8h7.2v1.5h-7.2zM438.5 169.3h21.6v1.5h-21.6zM438.5 167.8h7.2v1.5h-7.2zM431.3 163.3h7.2v1.5h-7.2zM438.5 158.8h7.2v1.5h-7.2zM445.7 154.3h7.2v1.5h-7.2zM424.1 152.8h7.2v1.5h-7.2zM431.3 149.8h7.2v1.5h-7.2zM424.1 143.8h7.2v1.5h-7.2zM417.0 142.3h7.2v1.5h-7.2zM417.0 139.3h14.4v1.5h-14.4zM431.3 137.8h7.2v1.5h-7.2zM424.1 136.3h7.2v1.5h-7.2zM424.1 134.7h7.2v1.5h-7.2zM409.8 133.2h14.4v1.5h-14.4zM424.1 128.7h7.2v1.5h-7.2zM424.1 124.2h7.2v1.5h-7.2zM417.0 122.7h7.2v1.5h-7.2zM431.3 119.7h7.2v1.5h-7.2zM424.1 113.7h7.2v1.5h-7.2zM424.1 106.2h7.2v1.5h-7.2zM424.1 103.2h7.2v1.5h-7.2zM417.0 101.7h7.2v1.5h-7.2zM424.1 89.7h7.2v1.5h-7.2zM417.0 88.2h7.2v1.5h-7.2zM417.0 85.1h7.2v1.5h-7.2zM409.8 77.6h7.2v1.5h-7.2zM409.8 76.1h7.2v1.5h-7.2zM417.0 73.1h7.2v1.5h-7.2zM417.0 70.1h7.2v1.5h-7.2zM384.3 65.6h3.9v1.5h-3.9zM417.0 62.6h7.2v1.5h-7.2zM402.6 58.1h7.2v1.5h-7.2zM409.8 56.6h7.2v1.5h-7.2zM409.8 55.1h7.2v1.5h-7.2zM409.8 50.6h7.2v1.5h-7.2zM395.4 49.1h14.4v1.5h-14.4zM402.6 47.6h7.2v1.5h-7.2zM409.8 43.1h7.2v1.5h-7.2zM395.4 40.1h7.2v1.5h-7.2zM388.2 37.0h7.2v1.5h-7.2zM409.8 35.5h7.2v1.5h-7.2zM402.6 34.0h7.2v1.5h-7.2zM395.4 32.5h7.2v1.5h-7.2zM388.2 28.0h7.2v1.5h-7.2z"/>
<path fill="#d9ff26" d="M402.6 256.5h14.4v1.5h-14.4zM424.1 253.5h7.2v1.5h-7.2zM445.7 250.5h7.2v1.5h-7.2zM438.5 247.5h7.2v1.5h-7.2zM445.7 244.5h7.2v1.5h-7.2zM452.9 243.0h7.2v1.5h-7.2zM460.1 237.0h7.2v1.5h-7.2zM460.1 235.5h7.2v1.5h-7.2zM445.7 232.4h14.4v1.5h-14.4zM445.7 230.9h14.4v1.5h-14.4zM452.9 227.9h7.2v1.5h-7.2zM445.7 223.4h7.2v1.5h-7.2zM445.7 220.4h14.4v1.5h-14.4zM445.7 214.4h7.2v1.5h-7.2zM460.1 206.9h7.2v1.5h-7.2zM438.5 202.4h7.2v1.5h-7.2zM438.5 194.9h7.2v1.5h-7.2zM452.9 193.4h7.2v1.5h-7.2zM445.7 191.9h7.2v1.5h-7.2zM438.5 190.4h7.2v1.5h-7.2zM438.5 184.3h7.2v1.5h-7.2zM452.9 182.8h7.2v1.5h-7.2zM445.7 179.8h7.2v1.5h-7.2zM438.5 178.3h7.2v1.5h-7.2zM445.7 175.3h7.2v1.5h-7.2zM438.5 173.8h7.2v1.5h-7.2zM424.1 166.3h7.2v1.5h-7.2zM424.1 154.3h7.2v1.5h-7.2zM402.6 133.2h7.2v1.5h-7.2zM424.1 131.7h7.2v1.5h-7.2zM417.0 130.2h7.2v1.5h-7.2zM417.0 125.7h7.2v1.5h-7.2zM409.8 116.7h7.2v1.5h-7.2zM417.0 110.7h7.2v1.5h-7.2zM424.1 109.2h7.2v1.5h-7.2zM409.8 107.7h7.2v1.5h-7.2zM417.0 94.2h14.4v1.5h-14.4zM417.0 86.7h7.2v1.5h-7.2zM417.0 83.6h7.2v1.5h-7.2zM417.0 80.6h7.2v1.5h-7.2zM409.8 68.6h7.2v1.5h-7.2zM417.0 64.1h7.2v1.5h-7.2zM409.8 62.6h7.2v1.5h-7.2zM402.6 53.6h7.2v1.5h-7.2zM384.3 52.1h11.1v1.5h-11.1zM409.8 52.1h7.2v1.5h-7.2zM402.6 50.6h7.2v1.5h-7.2zM417.0 50.6h7.2v1.5h-7.2zM409.8 46.1h7.2v1.5h-7.2zM402.6 41.6h7.2v1.5h-7.2zM395.4 37.0h7.2v1.5h-7.2zM388.2 32.5h7.2v1.5h-7.2z"/>
<path fill="#e9ff16" d="M431.3 252.0h7.2v1.5h-7.2zM431.3 247.5h7.2v1.5h-7.2zM445.7 241.5h7.2v1.5h-7.2zM438.5 240.0h7.2v1.5h-7.2zM452.9 240.0h7.2v1.5h-7.2zM438.5 238.5h7.2v1.5h-7.2zM452.9 235.5h7.2v1.5h-7.2zM445.7 234.0h7.2v1.5h-7.2zM438.5 232.4h7.2v1.5h-7.2zM438.5 230.9h7.2v1.5h-7.2zM460.1 229.4h7.2v1.5h-7.2zM452.9 226.4h7.2v1.5h-7.2zM438.5 224.9h7.2v1.5h-7.2zM452.9 224.9h7.2v1.5h-7.2zM460.1 223.4h7.2v1.5h-7.2zM452.9 221.9h7.2v1.5h-7.2zM445.7 206.9h7.2v1.5h-7.2zM438.5 205.4h7.2v1.5h-7.2zM445.7 203.9h7.2v1.5h-7.2zM438.5 200.9h7.2v1.5h-7.2zM452.9 199.4h7.2v1.5h-7.2zM445.7 197.9h7.2v1.5h-7.2zM431.3 194.9h7.2v1.5h-7.2zM445.7 190.4h7.2v1.5h-7.2zM431.3 187.4h7.2v1.5h-7.2zM431.3 181.3h7.2v1.5h-7.2zM424.1 178.3h14.4v1.5h-14.4zM438.5 176.8h7.2v1.5h-7.2zM438.5 175.3h7.2v1.5h-7.2zM445.7 173.8h7.2v1.5h-7.2zM431.3 166.3h7.2v1.5h-7.2zM424.1 161.8h7.2v1.5h-7.2zM424.1 158.8h14.4v1.5h-14.4zM424.1 157.3h7.2v1.5h-7.2zM431.3 154.3h7.2v1.5h-7.2zM431.3 151.3h7.2v1.5h-7.2zM431.3 146.8h7.2v1.5h-7.2zM431.3 143.8h7.2v1.5h-7.2zM431.3 140.8h7.2v1.5h-7.2zM424.1 137.8h7.2v1.5h-7.2zM417.0 134.7h7.2v1.5h-7.2zM424.1 130.2h7.2v1.5h-7.2zM417.0 128.7h7.2v1.5h-7.2zM409.8 125.7h7.2v1.5h-7.2zM409.8 124.2h14.4v1.5h-14.4zM424.1 119.7h7.2v1.5h-7.2zM417.0 118.2h7.2v1.5h-7.2zM417.0 115.2h7.2v1.5h-7.2zM409.8 113.7h14.4v1.5h-14.4zM417.0 109.2h7.2v1.5h-7.2zM409.8 104.7h14.4v1.5h-14.4zM431.3 100.2h7.2v1.5h-7.2zM417.0 92.7h7.2v1.5h-7.2zM417.0 89.7h7.2v1.5h-7.2zM402.6 77.6h7.2v1.5h-7.2zM384.3 76.1h3.9v1.5h-3.9zM417.0 74.6h7.2v1.5h-7.2zM417.0 68.6h7.2v1.5h-7.2zM384.3 64.1h3.9v1.5h-3.9zM417.0 61.1h7.2v1.5h-7.2zM417.0 59.6h7.2v1.5h-7.2zM384.3 53.6h3.9v1.5h-3.9zM402.6 52.1h7.2v1.5h-7.2zM409.8 49.1h7.2v1.5h-7.2zM384.3 41.6h3.9v1.5h-3.9zM384.3 40.1h11.1v1.5h-11.1zM402.6 40.1h7.2v1.5h-7.2zM395.4 38.6h14.4v1.5h-14.4zM388.2 34.0h7.2v1.5h-7.2z"/>
<path fill="#f9ff06" d="M388.2 255.0h7.2v1.5h-7.2zM409.8 255.0h7.2v1.5h-7.2zM445.7 246.0h7.2v1.5h-7.2zM445.7 243.0h7.2v1.5h-7.2zM431.3 241.5h7.2v1.5h-7.2zM445.7 240.0h7.2v1.5h-7.2zM438.5 234.0h7.2v1.5h-7.2zM452.9 234.0h14.4v1.5h-14.4zM445.7 229.4h7.2v1.5h-7.2zM438.5 227.9h14.4v1.5h-14.4zM452.9 217.4h7.2v1.5h-7.2zM438.5 214.4h7.2v1.5h-7.2zM424.1 212.9h7.2v1.5h-7.2zM438.5 212.9h14.4v1.5h-14.4zM438.5 211.4h7.2v1.5h-7.2zM438.5 208.4h7.2v1.5h-7.2zM438.5 203.9h7.2v1.5h-7.2zM431.3 202.4h7.2v1.5h-7.2zM452.9 200.9h7.2v1.5h-7.2zM424.1 196.4h7.2v1.5h-7.2zM424.1 194.9h7.2v1.5h-7.2zM438.5 191.9h7.2v1.5h-7.2zM445.7 188.9h7.2v1.5h-7.2zM445.7 187.4h7.2v1.5h-7.2zM424.1 185.9h7.2v1.5h-7.2zM431.3 184.3h7.2v1.5h-7.2zM431.3 173.8h7.2v1.5h-7.2zM431.3 172.3h7.2v1.5h-7.2zM438.5 170.8h7.2v1.5h-7.2zM431.3 167.8h7.2v1.5h-7.2zM424.1 164.8h7.2v1.5h-7.2zM424.1 163.3h7.2v1.5h-7.2zM431.3 161.8h7.2v1.5h-7.2zM438.5 157.3h7.2v1.5h-7.2zM424.1 149.8h7.2v1.5h-7.2zM409.8 143.8h14.4v1.5h-14.4zM424.1 142.3h7.2v1.5h-7.2zM409.8 140.8h14.4v1.5h-14.4zM417.0 137.8h7.2v1.5h-7.2zM417.0 136.3h7.2v1.5h-7.2zM409.8 134.7h7.2v1.5h-7.2zM409.8 131.7h14.4v1.5h-14.4zM409.8 122.7h7.2v1.5h-7.2zM409.8 118.2h7.2v1.5h-7.2zM417.0 116.7h7.2v1.5h-7.2zM409.8 112.2h14.4v1.5h-14.4zM417.0 107.7h7.2v1.5h-7.2zM409.8 97.2h7.2v1.5h-7.2zM424.1 95.7h7.2v1.5h-7.2zM384.3 89.7h3.9v1.5h-3.9zM409.8 89.7h7.2v1.5h-7.2zM395.4 88.2h7.2v1.5h-7.2zM384.3 80.6h3.9v1.5h-3.9zM384.3 79.1h3.9v1.5h-3.9zM388.2 73.1h7.2v1.5h-7.2zM409.8 71.6h7.2v1.5h-7.2zM395.4 70.1h7.2v1.5h-7.2zM402.6 65.6h7.2v1.5h-7.2zM395.4 64.1h14.4v1.5h-14.4zM402.6 62.6h7.2v1.5h-7.2zM409.8 61.1h7.2v1.5h-7.2zM395.4 58.1h7.2v1.5h-7.2zM402.6 55.1h7.2v1.5h-7.2zM384.3 50.6h3.9v1.5h-3.9zM384.3 47.6h11.1v1.5h-11.1zM395.4 46.1h7.2v1.5h-7.2zM402.6 43.1h7.2v1.5h-7.2zM384.3 38.6h3.9v1.5h-3.9zM409.8 38.6h7.2v1.5h-7.2zM388.2 31.0h7.2v1.5h-7.2z"/>
<path fill="#fff500" d="M395.4 255.0h14.4v1.5h-14.4zM409.8 253.5h14.4v1.5h-14.4zM424.1 252.0h7.2v1.5h-7.2zM431.3 250.5h7.2v1.5h-7.2zM417.0 249.0h7.2v1.5h-7.2zM438.5 243.0h7.2v1.5h-7.2zM424.1 232.4h7.2v1.5h-7.2zM424.1 227.9h7.2v1.5h-7.2zM431.3 224.9h7.2v1.5h-7.2zM445.7 224.9h7.2v1.5h-7.2zM438.5 220.4h7.2v1.5h-7.2zM445.7 218.9h7.2v1.5h-7.2zM445.7 217.4h7.2v1.5h-7.2zM445.7 211.4h7.2v1.5h-7.2zM445.7 209.9h7.2v1.5h-7.2zM431.3 205.4h7.2v1.5h-7.2zM445.7 205.4h7.2v1.5h-7.2zM424.1 202.4h7.2v1.5h-7.2zM431.3 199.4h7.2v1.5h-7.2zM431.3 196.4h7.2v1.5h-7.2zM424.1 188.9h7.2v1.5h-7.2zM445.7 185.9h7.2v1.5h-7.2zM424.1 182.8h7.2v1.5h-7.2zM445.7 182.8h7.2v1.5h-7.2zM424.1 170.8h14.4v1.5h-14.4zM431.3 169.3h7.2v1.5h-7.2zM424.1 167.8h7.2v1.5h-7.2zM417.0 161.8h7.2v1.5h-7.2zM424.1 160.3h7.2v1.5h-7.2zM431.3 157.3h7.2v1.5h-7.2zM424.1 155.8h7.2v1.5h-7.2zM417.0 152.8h7.2v1.5h-7.2zM431.3 152.8h7.2v1.5h-7.2zM424.1 151.3h7.2v1.5h-7.2zM431.3 148.3h7.2v1.5h-7.2zM424.1 146.8h7.2v1.5h-7.2zM424.1 140.8h7.2v1.5h-7.2zM409.8 136.3h7.2v1.5h-7.2zM409.8 130.2h7.2v1.5h-7.2zM395.4 125.7h7.2v1.5h-7.2zM395.4 122.7h14.4v1.5h-14.4zM409.8 119.7h7.2v1.5h-7.2zM384.3 113.7h3.9v1.5h-3.9zM424.1 112.2h7.2v1.5h-7.2zM417.0 106.2h7.2v1.5h-7.2zM409.8 101.7h7.2v1.5h-7.2zM409.8 100.2h14.4v1.5h-14.4zM409.8 98.7h7.2v1.5h-7.2zM417.0 97.2h7.2v1.5h-7.2zM417.0 91.2h7.2v1.5h-7.2zM402.6 88.2h14.4v1.5h-14.4zM402.6 85.1h7.2v1.5h-7.2zM402.6 83.6h7.2v1.5h-7.2zM417.0 82.1h7.2v1.5h-7.2zM417.0 79.1h7.2v1.5h-7.2zM395.4 74.6h7.2v1.5h-7.2zM402.6 73.1h7.2v1.5h-7.2zM384.3 70.1h3.9v1.5h-3.9zM409.8 70.1h7.2v1.5h-7.2zM402.6 68.6h7.2v1.5h-7.2zM384.3 67.1h3.9v1.5h-3.9zM409.8 65.6h7.2v1.5h-7.2zM409.8 64.1h7.2v1.5h-7.2zM409.8 59.6h7.2v1.5h-7.2zM384.3 56.6h3.9v1.5h-3.9zM402.6 56.6h7.2v1.5h-7.2zM384.3 55.1h3.9v1.5h-3.9zM395.4 53.6h7.2v1.5h-7.2zM395.4 50.6h7.2v1.5h-7.2zM388.2 49.1h7.2v1.5h-7.2zM395.4 47.6h7.2v1.5h-7.2zM388.2 46.1h7.2v1.5h-7.2zM402.6 44.6h7.2v1.5h-7.2zM384.3 43.1h3.9v1.5h-3.9zM395.4 43.1h7.2v1.5h-7.2zM395.4 41.6h7.2v1.5h-7.2zM388.2 35.5h7.2v1.5h-7.2zM395.4 34.0h7.2v1.5h-7.2z"/>
<path fill="#ffe500" d="M384.3 255.0h3.9v1.5h-3.9zM424.1 249.0h14.4v1.5h-14.4zM424.1 247.5h7.2v1.5h-7.2zM431.3 243.0h7.2v1.5h-7.2zM424.1 238.5h14.4v1.5h-14.4zM445.7 237.0h14.4v1.5h-14.4zM438.5 235.5h7.2v1.5h-7.2zM424.1 230.9h14.4v1.5h-14.4zM438.5 223.4h7.2v1.5h-7.2zM438.5 221.9h7.2v1.5h-7.2zM431.3 218.9h14.4v1.5h-14.4zM452.9 218.9h7.2v1.5h-7.2zM417.0 215.9h7.2v1.5h-7.2zM431.3 208.4h7.2v1.5h-7.2zM417.0 203.9h7.2v1.5h-7.2zM431.3 200.9h7.2v1.5h-7.2zM431.3 197.9h14.4v1.5h-14.4zM431.3 193.4h7.2v1.5h-7.2zM445.7 193.4h7.2v1.5h-7.2zM431.3 191.9h7.2v1.5h-7.2zM431.3 190.4h7.2v1.5h-7.2zM431.3 188.9h7.2v1.5h-7.2zM431.3 185.9h7.2v1.5h-7.2zM417.0 184.3h7.2v1.5h-7.2zM417.0 181.3h7.2v1.5h-7.2zM424.1 179.8h7.2v1.5h-7.2zM417.0 176.8h7.2v1.5h-7.2zM431.3 175.3h7.2v1.5h-7.2zM417.0 166.3h7.2v1.5h-7.2zM431.3 160.3h7.2v1.5h-7.2zM431.3 155.8h7.2v1.5h-7.2zM417.0 145.3h7.2v1.5h-7.2zM402.6 143.8h7.2v1.5h-7.2zM409.8 127.2h7.2v1.5h-7.2zM417.0 119.7h7.2v1.5h-7.2zM395.4 118.2h7.2v1.5h-7.2zM409.8 115.2h7.2v1.5h-7.2zM409.8 110.7h7.2v1.5h-7.2zM409.8 109.2h7.2v1.5h-7.2zM395.4 104.7h7.2v1.5h-7.2zM417.0 98.7h7.2v1.5h-7.2zM384.3 94.2h3.9v1.5h-3.9zM409.8 94.2h7.2v1.5h-7.2zM409.8 92.7h7.2v1.5h-7.2zM384.3 91.2h3.9v1.5h-3.9zM409.8 91.2h7.2v1.5h-7.2zM395.4 85.1h7.2v1.5h-7.2zM409.8 85.1h7.2v1.5h-7.2zM409.8 83.6h7.2v1.5h-7.2zM402.6 80.6h7.2v1.5h-7.2zM388.2 77.6h7.2v1.5h-7.2zM388.2 76.1h21.6v1.5h-21.6zM409.8 73.1h7.2v1.5h-7.2zM402.6 71.6h7.2v1.5h-7.2zM384.3 68.6h3.9v1.5h-3.9zM395.4 68.6h7.2v1.5h-7.2zM384.3 59.6h3.9v1.5h-3.9zM395.4 59.6h14.4v1.5h-14.4zM388.2 58.1h7.2v1.5h-7.2zM388.2 56.6h14.4v1.5h-14.4zM388.2 55.1h14.4v1.5h-14.4zM395.4 52.1h7.2v1.5h-7.2zM384.3 49.1h3.9v1.5h-3.9zM402.6 46.1h7.2v1.5h-7.2z"/>
<path fill="#ffd500" d="M384.3 256.5h3.9v1.5h-3.9zM384.3 253.5h11.1v1.5h-11.1zM395.4 252.0h7.2v1.5h-7.2zM417.0 252.0h7.2v1.5h-7.2zM424.1 246.0h7.2v1.5h-7.2zM438.5 246.0h7.2v1.5h-7.2zM438.5 244.5h7.2v1.5h-7.2zM438.5 241.5h7.2v1.5h-7.2zM424.1 240.0h7.2v1.5h-7.2zM438.5 237.0h7.2v1.5h-7.2zM431.3 229.4h7.2v1.5h-7.2zM431.3 227.9h7.2v1.5h-7.2zM424.1 224.9h7.2v1.5h-7.2zM445.7 221.9h7.2v1.5h-7.2zM431.3 220.4h7.2v1.5h-7.2zM431.3 217.4h7.2v1.5h-7.2zM431.3 212.9h7.2v1.5h-7.2zM438.5 209.9h7.2v1.5h-7.2zM438.5 206.9h7.2v1.5h-7.2zM424.1 203.9h7.2v1.5h-7.2zM424.1 200.9h7.2v1.5h-7.2zM424.1 197.9h7.2v1.5h-7.2zM424.1 187.4h7.2v1.5h-7.2zM438.5 185.9h7.2v1.5h-7.2zM409.8 184.3h7.2v1.5h-7.2zM438.5 182.8h7.2v1.5h-7.2zM424.1 176.8h14.4v1.5h-14.4zM424.1 175.3h7.2v1.5h-7.2zM409.8 164.8h14.4v1.5h-14.4zM431.3 164.8h7.2v1.5h-7.2zM402.6 161.8h7.2v1.5h-7.2zM417.0 158.8h7.2v1.5h-7.2zM417.0 154.3h7.2v1.5h-7.2zM417.0 151.3h7.2v1.5h-7.2zM424.1 148.3h7.2v1.5h-7.2zM409.8 145.3h7.2v1.5h-7.2zM409.8 139.3h7.2v1.5h-7.2zM384.3 122.7h3.9v1.5h-3.9zM402.6 118.2h7.2v1.5h-7.2zM402.6 112.2h7.2v1.5h-7.2zM395.4 110.7h7.2v1.5h-7.2zM395.4 109.2h7.2v1.5h-7.2zM409.8 106.2h7.2v1.5h-7.2zM409.8 103.2h7.2v1.5h-7.2zM384.3 101.7h3.9v1.5h-3.9zM402.6 101.7h7.2v1.5h-7.2zM409.8 95.7h7.2v1.5h-7.2zM402.6 92.7h7.2v1.5h-7.2zM402.6 89.7h7.2v1.5h-7.2zM384.3 88.2h11.1v1.5h-11.1zM384.3 85.1h3.9v1.5h-3.9zM384.3 83.6h3.9v1.5h-3.9zM395.4 83.6h7.2v1.5h-7.2zM388.2 82.1h7.2v1.5h-7.2zM395.4 80.6h7.2v1.5h-7.2zM409.8 79.1h7.2v1.5h-7.2zM395.4 77.6h7.2v1.5h-7.2zM395.4 73.1h7.2v1.5h-7.2zM384.3 71.6h3.9v1.5h-3.9zM402.6 70.1h7.2v1.5h-7.2zM402.6 67.1h7.2v1.5h-7.2zM417.0 67.1h7.2v1.5h-7.2zM384.3 61.1h3.9v1.5h-3.9zM402.6 61.1h7.2v1.5h-7.2zM388.2 50.6h7.2v1.5h-7.2zM388.2 44.6h14.4v1.5h-14.4zM388.2 43.1h7.2v1.5h-7.2zM388.2 41.6h7.2v1.5h-7.2z"/>
<path fill="#ffc400" d="M388.2 256.5h14.4v1.5h-14.4zM409.8 250.5h7.2v1.5h-7.2zM417.0 247.5h7.2v1.5h-7.2zM424.1 243.0h7.2v1.5h-7.2zM417.0 238.5h7.2v1.5h-7.2zM431.3 234.0h7.2v1.5h-7.2zM452.9 223.4h7.2v1.5h-7.2zM431.3 221.9h7.2v1.5h-7.2zM424.1 220.4h7.2v1.5h-7.2zM424.1 215.9h14.4v1.5h-14.4zM424.1 214.4h7.2v1.5h-7.2zM431.3 211.4h7.2v1.5h-7.2zM431.3 206.9h7.2v1.5h-7.2zM424.1 205.4h7.2v1.5h-7.2zM424.1 199.4h7.2v1.5h-7.2zM438.5 199.4h7.2v1.5h-7.2zM409.8 197.9h7.2v1.5h-7.2zM438.5 193.4h7.2v1.5h-7.2zM402.6 185.9h7.2v1.5h-7.2zM431.3 182.8h7.2v1.5h-7.2zM424.1 181.3h7.2v1.5h-7.2zM409.8 179.8h7.2v1.5h-7.2zM409.8 163.3h14.4v1.5h-14.4zM409.8 161.8h7.2v1.5h-7.2zM409.8 158.8h7.2v1.5h-7.2zM409.8 152.8h7.2v1.5h-7.2zM388.2 149.8h7.2v1.5h-7.2zM395.4 139.3h7.2v1.5h-7.2zM402.6 131.7h7.2v1.5h-7.2zM395.4 130.2h7.2v1.5h-7.2zM402.6 127.2h7.2v1.5h-7.2zM402.6 125.7h7.2v1.5h-7.2zM402.6 124.2h7.2v1.5h-7.2zM388.2 122.7h7.2v1.5h-7.2zM402.6 121.2h7.2v1.5h-7.2zM395.4 113.7h14.4v1.5h-14.4zM384.3 110.7h3.9v1.5h-3.9zM402.6 109.2h7.2v1.5h-7.2zM395.4 107.7h7.2v1.5h-7.2zM384.3 98.7h3.9v1.5h-3.9zM395.4 95.7h7.2v1.5h-7.2zM417.0 95.7h7.2v1.5h-7.2zM409.8 86.7h7.2v1.5h-7.2zM402.6 82.1h14.4v1.5h-14.4zM388.2 80.6h7.2v1.5h-7.2zM409.8 80.6h7.2v1.5h-7.2zM384.3 77.6h3.9v1.5h-3.9zM384.3 73.1h3.9v1.5h-3.9zM388.2 71.6h14.4v1.5h-14.4zM388.2 67.1h7.2v1.5h-7.2zM409.8 67.1h7.2v1.5h-7.2zM388.2 65.6h14.4v1.5h-14.4zM388.2 64.1h7.2v1.5h-7.2zM388.2 59.6h7.2v1.5h-7.2zM388.2 38.6h7.2v1.5h-7.2z"/>
<path fill="#ffb400" d="M402.6 253.5h7.2v1.5h-7.2zM402.6 252.0h14.4v1.5h-14.4zM424.1 244.5h7.2v1.5h-7.2zM424.1 241.5h7.2v1.5h-7.2zM424.1 235.5h7.2v1.5h-7.2zM424.1 229.4h7.2v1.5h-7.2zM445.7 226.4h7.2v1.5h-7.2zM417.0 224.9h7.2v1.5h-7.2zM417.0 220.4h7.2v1.5h-7.2zM424.1 218.9h7.2v1.5h-7.2zM417.0 217.4h7.2v1.5h-7.2zM431.3 214.4h7.2v1.5h-7.2zM424.1 208.4h7.2v1.5h-7.2zM431.3 203.9h7.2v1.5h-7.2zM417.0 202.4h7.2v1.5h-7.2zM409.8 196.4h14.4v1.5h-14.4zM424.1 190.4h7.2v1.5h-7.2zM409.8 178.3h14.4v1.5h-14.4zM424.1 173.8h7.2v1.5h-7.2zM409.8 172.3h21.6v1.5h-21.6zM438.5 172.3h7.2v1.5h-7.2zM417.0 169.3h14.4v1.5h-14.4zM417.0 167.8h7.2v1.5h-7.2zM402.6 157.3h7.2v1.5h-7.2zM417.0 157.3h7.2v1.5h-7.2zM402.6 152.8h7.2v1.5h-7.2zM409.8 151.3h7.2v1.5h-7.2zM417.0 149.8h7.2v1.5h-7.2zM409.8 148.3h7.2v1.5h-7.2zM384.3 143.8h3.9v1.5h-3.9zM395.4 143.8h7.2v1.5h-7.2zM409.8 142.3h7.2v1.5h-7.2zM402.6 139.3h7.2v1.5h-7.2zM409.8 137.8h7.2v1.5h-7.2zM395.4 134.7h7.2v1.5h-7.2zM409.8 128.7h7.2v1.5h-7.2zM388.2 127.2h7.2v1.5h-7.2zM402.6 115.2h7.2v1.5h-7.2zM384.3 107.7h11.1v1.5h-11.1zM402.6 107.7h7.2v1.5h-7.2zM402.6 106.2h7.2v1.5h-7.2zM402.6 104.7h7.2v1.5h-7.2zM395.4 101.7h7.2v1.5h-7.2zM402.6 100.2h7.2v1.5h-7.2zM395.4 98.7h7.2v1.5h-7.2zM384.3 97.2h25.5v1.5h-25.5zM402.6 95.7h7.2v1.5h-7.2zM395.4 92.7h7.2v1.5h-7.2zM395.4 82.1h7.2v1.5h-7.2zM388.2 79.1h7.2v1.5h-7.2zM402.6 74.6h14.4v1.5h-14.4zM388.2 70.1h7.2v1.5h-7.2zM388.2 68.6h7.2v1.5h-7.2zM388.2 53.6h7.2v1.5h-7.2z"/>
<path fill="#ffa400" d="M395.4 253.5h7.2v1.5h-7.2zM424.1 250.5h7.2v1.5h-7.2zM431.3 246.0h7.2v1.5h-7.2zM417.0 241.5h7.2v1.5h-7.2zM431.3 237.0h7.2v1.5h-7.2zM431.3 235.5h7.2v1.5h-7.2zM431.3 232.4h7.2v1.5h-7.2zM417.0 230.9h7.2v1.5h-7.2zM417.0 226.4h7.2v1.5h-7.2zM431.3 223.4h7.2v1.5h-7.2zM424.1 221.9h7.2v1.5h-7.2zM424.1 209.9h7.2v1.5h-7.2zM424.1 206.9h7.2v1.5h-7.2zM384.3 205.4h3.9v1.5h-3.9zM417.0 205.4h7.2v1.5h-7.2zM417.0 197.9h7.2v1.5h-7.2zM417.0 194.9h7.2v1.5h-7.2zM417.0 193.4h14.4v1.5h-14.4zM424.1 191.9h7.2v1.5h-7.2zM395.4 190.4h7.2v1.5h-7.2zM409.8 188.9h7.2v1.5h-7.2zM409.8 187.4h7.2v1.5h-7.2zM417.0 185.9h7.2v1.5h-7.2zM402.6 184.3h7.2v1.5h-7.2zM402.6 172.3h7.2v1.5h-7.2zM409.8 167.8h7.2v1.5h-7.2zM402.6 166.3h7.2v1.5h-7.2zM402.6 163.3h7.2v1.5h-7.2zM417.0 160.3h7.2v1.5h-7.2zM402.6 158.8h7.2v1.5h-7.2zM409.8 157.3h7.2v1.5h-7.2zM417.0 155.8h7.2v1.5h-7.2zM409.8 149.8h7.2v1.5h-7.2zM417.0 148.3h7.2v1.5h-7.2zM409.8 146.8h14.4v1.5h-14.4zM384.3 145.3h3.9v1.5h-3.9zM402.6 145.3h7.2v1.5h-7.2zM388.2 143.8h7.2v1.5h-7.2zM395.4 140.8h7.2v1.5h-7.2zM402.6 137.8h7.2v1.5h-7.2zM395.4 127.2h7.2v1.5h-7.2zM395.4 119.7h7.2v1.5h-7.2zM395.4 115.2h7.2v1.5h-7.2zM388.2 113.7h7.2v1.5h-7.2zM388.2 109.2h7.2v1.5h-7.2zM384.3 104.7h3.9v1.5h-3.9zM395.4 103.2h7.2v1.5h-7.2zM424.1 100.2h7.2v1.5h-7.2zM388.2 98.7h7.2v1.5h-7.2zM384.3 95.7h3.9v1.5h-3.9zM395.4 94.2h14.4v1.5h-14.4zM395.4 91.2h7.2v1.5h-7.2zM388.2 89.7h7.2v1.5h-7.2zM388.2 83.6h7.2v1.5h-7.2zM384.3 82.1h3.9v1.5h-3.9zM395.4 79.1h7.2v1.5h-7.2zM384.3 74.6h3.9v1.5h-3.9zM395.4 67.1h7.2v1.5h-7.2zM384.3 62.6h18.3v1.5h-18.3zM388.2 61.1h7.2v1.5h-7.2z"/>
<path fill="#ff9400" d="M417.0 244.5h7.2v1.5h-7.2zM417.0 243.0h7.2v1.5h-7.2zM417.0 240.0h7.2v1.5h-7.2zM424.1 237.0h7.2v1.5h-7.2zM424.1 234.0h7.2v1.5h-7.2zM417.0 229.4h7.2v1.5h-7.2zM424.1 226.4h14.4v1.5h-14.4zM424.1 217.4h7.2v1.5h-7.2zM417.0 212.9h7.2v1.5h-7.2zM431.3 209.9h7.2v1.5h-7.2zM409.8 202.4h7.2v1.5h-7.2zM395.4 188.9h7.2v1.5h-7.2zM417.0 187.4h7.2v1.5h-7.2zM402.6 181.3h14.4v1.5h-14.4zM417.0 179.8h7.2v1.5h-7.2zM402.6 176.8h14.4v1.5h-14.4zM417.0 173.8h7.2v1.5h-7.2zM417.0 170.8h7.2v1.5h-7.2zM402.6 167.8h7.2v1.5h-7.2zM409.8 166.3h7.2v1.5h-7.2zM384.3 158.8h3.9v1.5h-3.9zM384.3 152.8h3.9v1.5h-3.9zM395.4 152.8h7.2v1.5h-7.2zM395.4 148.3h7.2v1.5h-7.2zM395.4 145.3h7.2v1.5h-7.2zM402.6 142.3h7.2v1.5h-7.2zM384.3 139.3h3.9v1.5h-3.9zM384.3 136.3h3.9v1.5h-3.9zM402.6 136.3h7.2v1.5h-7.2zM402.6 134.7h7.2v1.5h-7.2zM395.4 133.2h7.2v1.5h-7.2zM395.4 124.2h7.2v1.5h-7.2zM395.4 121.2h7.2v1.5h-7.2zM388.2 119.7h7.2v1.5h-7.2zM402.6 119.7h7.2v1.5h-7.2zM384.3 112.2h3.9v1.5h-3.9zM395.4 112.2h7.2v1.5h-7.2zM388.2 110.7h7.2v1.5h-7.2zM402.6 110.7h7.2v1.5h-7.2zM384.3 109.2h3.9v1.5h-3.9zM395.4 106.2h7.2v1.5h-7.2zM388.2 103.2h7.2v1.5h-7.2zM402.6 103.2h7.2v1.5h-7.2zM388.2 94.2h7.2v1.5h-7.2zM384.3 92.7h11.1v1.5h-11.1zM402.6 91.2h7.2v1.5h-7.2zM395.4 89.7h7.2v1.5h-7.2zM384.3 86.7h3.9v1.5h-3.9zM402.6 86.7h7.2v1.5h-7.2zM388.2 85.1h7.2v1.5h-7.2zM388.2 74.6h7.2v1.5h-7.2zM395.4 61.1h7.2v1.5h-7.2z"/>
<path fill="#ff8400" d="M384.3 252.0h3.9v1.5h-3.9zM384.3 250.5h3.9v1.5h-3.9zM417.0 246.0h7.2v1.5h-7.2zM431.3 240.0h7.2v1.5h-7.2zM409.8 238.5h7.2v1.5h-7.2zM409.8 235.5h7.2v1.5h-7.2zM409.8 234.0h14.4v1.5h-14.4zM424.1 223.4h7.2v1.5h-7.2zM402.6 215.9h7.2v1.5h-7.2zM424.1 211.4h7.2v1.5h-7.2zM417.0 209.9h7.2v1.5h-7.2zM417.0 208.4h7.2v1.5h-7.2zM409.8 200.9h14.4v1.5h-14.4zM409.8 199.4h7.2v1.5h-7.2zM402.6 197.9h7.2v1.5h-7.2zM409.8 193.4h7.2v1.5h-7.2zM409.8 190.4h7.2v1.5h-7.2zM417.0 188.9h7.2v1.5h-7.2zM384.3 184.3h3.9v1.5h-3.9zM402.6 182.8h7.2v1.5h-7.2zM417.0 182.8h7.2v1.5h-7.2zM417.0 175.3h7.2v1.5h-7.2zM395.4 172.3h7.2v1.5h-7.2zM395.4 169.3h7.2v1.5h-7.2zM409.8 169.3h7.2v1.5h-7.2zM395.4 166.3h7.2v1.5h-7.2zM395.4 163.3h7.2v1.5h-7.2zM384.3 161.8h3.9v1.5h-3.9zM395.4 161.8h7.2v1.5h-7.2zM388.2 152.8h7.2v1.5h-7.2zM388.2 151.3h7.2v1.5h-7.2zM402.6 151.3h7.2v1.5h-7.2zM395.4 142.3h7.2v1.5h-7.2zM402.6 140.8h7.2v1.5h-7.2zM395.4 137.8h7.2v1.5h-7.2zM395.4 136.3h7.2v1.5h-7.2zM384.3 134.7h3.9v1.5h-3.9zM384.3 131.7h3.9v1.5h-3.9zM395.4 131.7h7.2v1.5h-7.2zM402.6 130.2h7.2v1.5h-7.2zM402.6 128.7h7.2v1.5h-7.2zM388.2 118.2h7.2v1.5h-7.2zM402.6 116.7h7.2v1.5h-7.2zM384.3 115.2h3.9v1.5h-3.9zM388.2 112.2h7.2v1.5h-7.2zM388.2 106.2h7.2v1.5h-7.2zM388.2 104.7h7.2v1.5h-7.2zM384.3 103.2h3.9v1.5h-3.9zM402.6 98.7h7.2v1.5h-7.2zM388.2 95.7h7.2v1.5h-7.2zM402.6 79.1h7.2v1.5h-7.2z"/>
<path fill="#ff7300" d="M417.0 250.5h7.2v1.5h-7.2zM384.3 249.0h3.9v1.5h-3.9zM402.6 247.5h14.4v1.5h-14.4zM409.8 246.0h7.2v1.5h-7.2zM409.8 244.5h7.2v1.5h-7.2zM409.8 241.5h7.2v1.5h-7.2zM409.8 240.0h7.2v1.5h-7.2zM409.8 227.9h14.4v1.5h-14.4zM409.8 224.9h7.2v1.5h-7.2zM409.8 217.4h7.2v1.5h-7.2zM409.8 214.4h14.4v1.5h-14.4zM417.0 211.4h7.2v1.5h-7.2zM409.8 209.9h7.2v1.5h-7.2zM388.2 206.9h7.2v1.5h-7.2zM409.8 206.9h14.4v1.5h-14.4zM409.8 205.4h7.2v1.5h-7.2zM417.0 199.4h7.2v1.5h-7.2zM388.2 196.4h7.2v1.5h-7.2zM402.6 194.9h7.2v1.5h-7.2zM417.0 190.4h7.2v1.5h-7.2zM402.6 187.4h7.2v1.5h-7.2zM409.8 185.9h7.2v1.5h-7.2zM388.2 181.3h14.4v1.5h-14.4zM402.6 178.3h7.2v1.5h-7.2zM395.4 176.8h7.2v1.5h-7.2zM395.4 173.8h7.2v1.5h-7.2zM409.8 173.8h7.2v1.5h-7.2zM402.6 169.3h7.2v1.5h-7.2zM395.4 167.8h7.2v1.5h-7.2zM384.3 163.3h11.1v1.5h-11.1zM384.3 155.8h3.9v1.5h-3.9zM402.6 154.3h14.4v1.5h-14.4zM388.2 145.3h7.2v1.5h-7.2zM388.2 142.3h7.2v1.5h-7.2zM384.3 140.8h3.9v1.5h-3.9zM388.2 133.2h7.2v1.5h-7.2zM388.2 131.7h7.2v1.5h-7.2zM395.4 128.7h7.2v1.5h-7.2zM384.3 127.2h3.9v1.5h-3.9zM384.3 124.2h3.9v1.5h-3.9zM384.3 119.7h3.9v1.5h-3.9zM384.3 106.2h3.9v1.5h-3.9zM388.2 101.7h7.2v1.5h-7.2zM388.2 91.2h7.2v1.5h-7.2zM388.2 86.7h14.4v1.5h-14.4z"/>
<path fill="#ff6300" d="M388.2 252.0h7.2v1.5h-7.2zM388.2 250.5h7.2v1.5h-7.2zM395.4 249.0h7.2v1.5h-7.2zM409.8 249.0h7.2v1.5h-7.2zM384.3 244.5h3.9v1.5h-3.9zM417.0 237.0h7.2v1.5h-7.2zM417.0 235.5h7.2v1.5h-7.2zM417.0 232.4h7.2v1.5h-7.2zM409.8 230.9h7.2v1.5h-7.2zM388.2 229.4h7.2v1.5h-7.2zM409.8 229.4h7.2v1.5h-7.2zM417.0 223.4h7.2v1.5h-7.2zM417.0 221.9h7.2v1.5h-7.2zM409.8 215.9h7.2v1.5h-7.2zM384.3 196.4h3.9v1.5h-3.9zM402.6 196.4h7.2v1.5h-7.2zM409.8 194.9h7.2v1.5h-7.2zM417.0 191.9h7.2v1.5h-7.2zM388.2 190.4h7.2v1.5h-7.2zM384.3 188.9h3.9v1.5h-3.9zM402.6 188.9h7.2v1.5h-7.2zM395.4 184.3h7.2v1.5h-7.2zM409.8 182.8h7.2v1.5h-7.2zM384.3 181.3h3.9v1.5h-3.9zM395.4 179.8h14.4v1.5h-14.4zM402.6 173.8h7.2v1.5h-7.2zM388.2 166.3h7.2v1.5h-7.2zM388.2 161.8h7.2v1.5h-7.2zM402.6 160.3h14.4v1.5h-14.4zM395.4 155.8h7.2v1.5h-7.2zM409.8 155.8h7.2v1.5h-7.2zM395.4 154.3h7.2v1.5h-7.2zM395.4 149.8h14.4v1.5h-14.4zM402.6 148.3h7.2v1.5h-7.2zM388.2 146.8h14.4v1.5h-14.4zM388.2 140.8h7.2v1.5h-7.2zM388.2 139.3h7.2v1.5h-7.2zM388.2 125.7h7.2v1.5h-7.2zM388.2 124.2h7.2v1.5h-7.2zM384.3 121.2h3.9v1.5h-3.9zM384.3 118.2h3.9v1.5h-3.9zM395.4 116.7h7.2v1.5h-7.2zM384.3 100.2h18.3v1.5h-18.3z"/>
<path fill="#ff5300" d="M395.4 250.5h7.2v1.5h-7.2zM402.6 249.0h7.2v1.5h-7.2zM402.6 241.5h7.2v1.5h-7.2zM384.3 240.0h3.9v1.5h-3.9zM384.3 235.5h3.9v1.5h-3.9zM402.6 235.5h7.2v1.5h-7.2zM409.8 223.4h7.2v1.5h-7.2zM409.8 220.4h7.2v1.5h-7.2zM409.8 218.9h14.4v1.5h-14.4zM409.8 212.9h7.2v1.5h-7.2zM384.3 206.9h3.9v1.5h-3.9zM395.4 206.9h14.4v1.5h-14.4zM384.3 203.9h3.9v1.5h-3.9zM402.6 203.9h14.4v1.5h-14.4zM388.2 202.4h7.2v1.5h-7.2zM402.6 202.4h7.2v1.5h-7.2zM402.6 200.9h7.2v1.5h-7.2zM395.4 197.9h7.2v1.5h-7.2zM384.3 194.9h3.9v1.5h-3.9zM384.3 193.4h3.9v1.5h-3.9zM402.6 193.4h7.2v1.5h-7.2zM402.6 190.4h7.2v1.5h-7.2zM395.4 187.4h7.2v1.5h-7.2zM395.4 185.9h7.2v1.5h-7.2zM388.2 184.3h7.2v1.5h-7.2zM384.3 178.3h3.9v1.5h-3.9zM395.4 178.3h7.2v1.5h-7.2zM384.3 176.8h3.9v1.5h-3.9zM402.6 175.3h7.2v1.5h-7.2zM395.4 170.8h7.2v1.5h-7.2zM395.4 164.8h14.4v1.5h-14.4zM384.3 160.3h3.9v1.5h-3.9zM395.4 160.3h7.2v1.5h-7.2zM395.4 158.8h7.2v1.5h-7.2zM395.4 151.3h7.2v1.5h-7.2zM384.3 148.3h3.9v1.5h-3.9zM384.3 146.8h3.9v1.5h-3.9zM402.6 146.8h7.2v1.5h-7.2zM388.2 137.8h7.2v1.5h-7.2zM388.2 134.7h7.2v1.5h-7.2zM384.3 133.2h3.9v1.5h-3.9zM384.3 130.2h3.9v1.5h-3.9zM384.3 128.7h3.9v1.5h-3.9zM384.3 125.7h3.9v1.5h-3.9zM384.3 116.7h3.9v1.5h-3.9zM388.2 115.2h7.2v1.5h-7.2z"/>
<path fill="#ff4300" d="M388.2 249.0h7.2v1.5h-7.2zM409.8 243.0h7.2v1.5h-7.2zM384.3 241.5h3.9v1.5h-3.9zM395.4 241.5h7.2v1.5h-7.2zM402.6 238.5h7.2v1.5h-7.2zM395.4 235.5h7.2v1.5h-7.2zM402.6 227.9h7.2v1.5h-7.2zM402.6 212.9h7.2v1.5h-7.2zM409.8 211.4h7.2v1.5h-7.2zM388.2 208.4h7.2v1.5h-7.2zM409.8 208.4h7.2v1.5h-7.2zM402.6 205.4h7.2v1.5h-7.2zM384.3 197.9h3.9v1.5h-3.9zM395.4 196.4h7.2v1.5h-7.2zM409.8 191.9h7.2v1.5h-7.2zM384.3 190.4h3.9v1.5h-3.9zM388.2 188.9h7.2v1.5h-7.2zM384.3 179.8h11.1v1.5h-11.1zM402.6 170.8h7.2v1.5h-7.2zM384.3 169.3h3.9v1.5h-3.9zM388.2 167.8h7.2v1.5h-7.2zM384.3 166.3h3.9v1.5h-3.9zM384.3 164.8h3.9v1.5h-3.9zM388.2 158.8h7.2v1.5h-7.2zM395.4 157.3h7.2v1.5h-7.2zM402.6 155.8h7.2v1.5h-7.2zM388.2 154.3h7.2v1.5h-7.2zM384.3 137.8h3.9v1.5h-3.9z"/>
<path fill="#ff3300" d="M402.6 250.5h7.2v1.5h-7.2zM384.3 246.0h3.9v1.5h-3.9zM402.6 246.0h7.2v1.5h-7.2zM384.3 238.5h3.9v1.5h-3.9zM409.8 232.4h7.2v1.5h-7.2zM384.3 230.9h3.9v1.5h-3.9zM402.6 224.9h7.2v1.5h-7.2zM384.3 221.9h3.9v1.5h-3.9zM402.6 220.4h7.2v1.5h-7.2zM384.3 211.4h3.9v1.5h-3.9zM395.4 211.4h7.2v1.5h-7.2zM384.3 209.9h25.5v1.5h-25.5zM388.2 203.9h7.2v1.5h-7.2zM384.3 202.4h3.9v1.5h-3.9zM395.4 200.9h7.2v1.5h-7.2zM395.4 199.4h14.4v1.5h-14.4zM388.2 176.8h7.2v1.5h-7.2zM409.8 175.3h7.2v1.5h-7.2zM388.2 173.8h7.2v1.5h-7.2zM384.3 170.8h3.9v1.5h-3.9zM409.8 170.8h7.2v1.5h-7.2zM388.2 169.3h7.2v1.5h-7.2zM388.2 160.3h7.2v1.5h-7.2zM388.2 157.3h7.2v1.5h-7.2zM384.3 154.3h3.9v1.5h-3.9zM384.3 151.3h3.9v1.5h-3.9zM388.2 136.3h7.2v1.5h-7.2zM388.2 128.7h7.2v1.5h-7.2zM388.2 121.2h7.2v1.5h-7.2zM388.2 116.7h7.2v1.5h-7.2z"/>
<path fill="#ff2200" d="M384.3 247.5h3.9v1.5h-3.9zM402.6 244.5h7.2v1.5h-7.2zM402.6 230.9h7.2v1.5h-7.2zM402.6 229.4h7.2v1.5h-7.2zM409.8 226.4h7.2v1.5h-7.2zM402.6 221.9h7.2v1.5h-7.2zM395.4 220.4h7.2v1.5h-7.2zM388.2 218.9h7.2v1.5h-7.2zM402.6 218.9h7.2v1.5h-7.2zM402.6 217.4h7.2v1.5h-7.2zM388.2 215.9h7.2v1.5h-7.2zM388.2 212.9h7.2v1.5h-7.2zM402.6 211.4h7.2v1.5h-7.2zM395.4 203.9h7.2v1.5h-7.2zM395.4 202.4h7.2v1.5h-7.2zM384.3 199.4h3.9v1.5h-3.9zM395.4 194.9h7.2v1.5h-7.2zM402.6 191.9h7.2v1.5h-7.2zM384.3 187.4h3.9v1.5h-3.9zM384.3 185.9h3.9v1.5h-3.9zM388.2 182.8h14.4v1.5h-14.4zM388.2 178.3h7.2v1.5h-7.2zM395.4 175.3h7.2v1.5h-7.2zM384.3 172.3h3.9v1.5h-3.9zM388.2 155.8h7.2v1.5h-7.2zM384.3 149.8h3.9v1.5h-3.9zM388.2 148.3h7.2v1.5h-7.2z"/>
<path fill="#ff1200" d="M395.4 247.5h7.2v1.5h-7.2zM395.4 244.5h7.2v1.5h-7.2zM384.3 243.0h3.9v1.5h-3.9zM388.2 241.5h7.2v1.5h-7.2zM402.6 240.0h7.2v1.5h-7.2zM409.8 237.0h7.2v1.5h-7.2zM388.2 235.5h7.2v1.5h-7.2zM384.3 234.0h3.9v1.5h-3.9zM384.3 232.4h3.9v1.5h-3.9zM402.6 232.4h7.2v1.5h-7.2zM388.2 230.9h7.2v1.5h-7.2zM384.3 227.9h3.9v1.5h-3.9zM384.3 226.4h3.9v1.5h-3.9zM402.6 226.4h7.2v1.5h-7.2zM388.2 220.4h7.2v1.5h-7.2zM384.3 217.4h3.9v1.5h-3.9zM384.3 215.9h3.9v1.5h-3.9zM395.4 215.9h7.2v1.5h-7.2zM384.3 214.4h3.9v1.5h-3.9zM384.3 208.4h3.9v1.5h-3.9zM402.6 208.4h7.2v1.5h-7.2zM388.2 205.4h7.2v1.5h-7.2zM388.2 197.9h7.2v1.5h-7.2zM388.2 194.9h7.2v1.5h-7.2zM388.2 185.9h7.2v1.5h-7.2zM384.3 182.8h3.9v1.5h-3.9zM388.2 172.3h7.2v1.5h-7.2zM388.2 170.8h7.2v1.5h-7.2zM384.3 167.8h3.9v1.5h-3.9zM388.2 130.2h7.2v1.5h-7.2z"/>
<path fill="#ff0200" d="M388.2 246.0h7.2v1.5h-7.2zM388.2 244.5h7.2v1.5h-7.2zM388.2 240.0h14.4v1.5h-14.4zM388.2 238.5h14.4v1.5h-14.4zM402.6 234.0h7.2v1.5h-7.2zM384.3 229.4h3.9v1.5h-3.9zM395.4 227.9h7.2v1.5h-7.2zM395.4 226.4h7.2v1.5h-7.2zM384.3 224.9h3.9v1.5h-3.9zM402.6 223.4h7.2v1.5h-7.2zM395.4 221.9h7.2v1.5h-7.2zM384.3 218.9h3.9v1.5h-3.9zM395.4 205.4h7.2v1.5h-7.2zM395.4 193.4h7.2v1.5h-7.2zM395.4 191.9h7.2v1.5h-7.2zM388.2 187.4h7.2v1.5h-7.2zM384.3 175.3h3.9v1.5h-3.9zM388.2 164.8h7.2v1.5h-7.2zM384.3 157.3h3.9v1.5h-3.9z"/>
<path fill="#f10000" d="M395.4 246.0h7.2v1.5h-7.2zM395.4 243.0h14.4v1.5h-14.4zM388.2 232.4h14.4v1.5h-14.4zM395.4 230.9h7.2v1.5h-7.2zM395.4 229.4h7.2v1.5h-7.2zM388.2 227.9h7.2v1.5h-7.2zM388.2 224.9h14.4v1.5h-14.4zM409.8 221.9h7.2v1.5h-7.2zM384.3 220.4h3.9v1.5h-3.9zM395.4 214.4h7.2v1.5h-7.2zM384.3 200.9h3.9v1.5h-3.9zM388.2 199.4h7.2v1.5h-7.2zM384.3 191.9h3.9v1.5h-3.9zM388.2 175.3h7.2v1.5h-7.2zM384.3 173.8h3.9v1.5h-3.9zM384.3 142.3h3.9v1.5h-3.9z"/>
<path fill="#e10000" d="M388.2 243.0h7.2v1.5h-7.2zM395.4 234.0h7.2v1.5h-7.2zM388.2 226.4h7.2v1.5h-7.2zM395.4 223.4h7.2v1.5h-7.2zM388.2 221.9h7.2v1.5h-7.2zM395.4 218.9h7.2v1.5h-7.2zM395.4 217.4h7.2v1.5h-7.2zM402.6 214.4h7.2v1.5h-7.2zM395.4 212.9h7.2v1.5h-7.2zM395.4 208.4h7.2v1.5h-7.2zM388.2 200.9h7.2v1.5h-7.2zM388.2 193.4h7.2v1.5h-7.2zM388.2 191.9h7.2v1.5h-7.2z"/>
<path fill="#d00000" d="M388.2 247.5h7.2v1.5h-7.2zM395.4 237.0h14.4v1.5h-14.4zM388.2 234.0h7.2v1.5h-7.2zM388.2 223.4h7.2v1.5h-7.2zM388.2 214.4h7.2v1.5h-7.2zM384.3 212.9h3.9v1.5h-3.9zM388.2 211.4h7.2v1.5h-7.2z"/>
<path fill="#c00000" d="M384.3 237.0h11.1v1.5h-11.1zM384.3 223.4h3.9v1.5h-3.9zM388.2 217.4h7.2v1.5h-7.2z"/>
</g>
</g>
<rect x="383.7" y="12.5" width="224.6" height="246" fill="none" stroke="#aaa" stroke-width="0.8"/>
<rect x="618.10" y="13" width="18.20" height="245" fill="url(#jet)" stroke="#777" stroke-width="0.6"/>
<line x1="631.80" y1="43.50" x2="636.30" y2="43.50" stroke="#333" stroke-width="0.8"/>
<line x1="631.80" y1="74.40" x2="636.30" y2="74.40" stroke="#333" stroke-width="0.8"/>
<line x1="631.80" y1="104.40" x2="636.30" y2="104.40" stroke="#333" stroke-width="0.8"/>
<line x1="631.80" y1="135.40" x2="636.30" y2="135.40" stroke="#333" stroke-width="0.8"/>
<line x1="631.80" y1="166.10" x2="636.30" y2="166.10" stroke="#333" stroke-width="0.8"/>
<line x1="631.80" y1="196.40" x2="636.30" y2="196.40" stroke="#333" stroke-width="0.8"/>
<line x1="631.80" y1="227.40" x2="636.30" y2="227.40" stroke="#333" stroke-width="0.8"/>
<g style="will-change:transform">
<line x1="162.70" y1="273.9" x2="156.40" y2="289.5" stroke="#1a1a1a" stroke-width="0.85"/>
<line x1="508.50" y1="273.9" x2="502.20" y2="289.5" stroke="#1a1a1a" stroke-width="0.85"/>
<text class="tb" transform="translate(121.40,10.10) scale(1.2182,1.0000)">Modeled</text>
<text class="tb" transform="translate(462.19,10.10) scale(1.2309,1.0000)">Measured</text>
<text class="t" transform="translate(125.03,284.70) scale(1.0982,1.0000)">Time</text>
<text class="t" transform="translate(163.34,284.70) scale(1.0413,1.0000)">ms</text>
<text class="t" transform="translate(470.83,284.70) scale(1.0982,1.0000)">Time</text>
<text class="t" transform="translate(509.14,284.70) scale(1.0413,1.0000)">ms</text>
<text class="t" transform="translate(37.31,272.40) scale(1.1750,1.0000)">0</text>
<text class="t" transform="translate(92.28,272.40) scale(1.0980,1.0000)">50</text>
<text class="t" transform="translate(151.08,272.40) scale(1.0205,1.0000)">100</text>
<text class="t" transform="translate(211.54,272.40) scale(1.0564,1.0000)">150</text>
<text class="t" transform="translate(382.81,272.40) scale(1.1750,1.0000)">0</text>
<text class="t" transform="translate(437.78,272.40) scale(1.0980,1.0000)">50</text>
<text class="t" transform="translate(496.58,272.40) scale(1.0205,1.0000)">100</text>
<text class="t" transform="translate(557.04,272.40) scale(1.0564,1.0000)">150</text>
<text class="t" transform="translate(15.87,40.30) scale(1.0538,1.0000)">20</text>
<text class="t" transform="translate(15.92,95.70) scale(0.9760,1.0000)">15</text>
<text class="t" transform="translate(16.24,152.00) scale(1.0560,1.0000)">10</text>
<text class="t" transform="translate(21.75,206.90) scale(1.1304,1.0000)">5</text>
<text class="t" transform="translate(22.26,263.00) scale(1.0833,1.0000)">0</text>
<text class="t" transform="translate(360.97,40.30) scale(1.0538,1.0000)">20</text>
<text class="t" transform="translate(361.02,95.70) scale(0.9760,1.0000)">15</text>
<text class="t" transform="translate(361.34,152.00) scale(1.0560,1.0000)">10</text>
<text class="t" transform="translate(366.85,206.90) scale(1.1304,1.0000)">5</text>
<text class="t" transform="translate(367.36,263.00) scale(1.0833,1.0000)">0</text>
<text class="t" transform="translate(299.75,18.80) scale(1.1000,1.0000)">0</text>
<text class="t" transform="translate(302.78,48.60) scale(0.9720,1.0000)">10</text>
<text class="t" transform="translate(300.30,79.60) scale(1.0000,1.0000)">20</text>
<text class="t" transform="translate(304.31,112.40) scale(0.9846,1.0000)">30</text>
<text class="t" transform="translate(302.46,142.40) scale(0.9736,1.0000)">40</text>
<text class="t" transform="translate(302.15,173.80) scale(0.9961,1.0000)">50</text>
<text class="t" transform="translate(302.41,204.40) scale(0.9769,1.0000)">60</text>
<text class="t" transform="translate(302.15,234.70) scale(0.9961,1.0000)">70</text>
<text class="t" transform="translate(301.48,264.90) scale(1.0385,1.0000)">80</text>
<text class="t" transform="translate(644.25,18.80) scale(1.1000,1.0000)">0</text>
<text class="t" transform="translate(647.23,48.60) scale(0.9720,1.0000)">10</text>
<text class="t" transform="translate(647.20,79.60) scale(1.0000,1.0000)">20</text>
<text class="t" transform="translate(648.61,112.40) scale(0.9846,1.0000)">30</text>
<text class="t" transform="translate(646.96,142.40) scale(0.9736,1.0000)">40</text>
<text class="t" transform="translate(646.65,173.80) scale(0.9961,1.0000)">50</text>
<text class="t" transform="translate(646.91,204.40) scale(0.9769,1.0000)">60</text>
<text class="t" transform="translate(646.65,234.70) scale(0.9961,1.0000)">70</text>
<text class="t" transform="translate(646.18,264.90) scale(1.0385,1.0000)">80</text>
<text class="t" transform="translate(320.05,146.00) scale(1.0951,1.0000)">dB</text>
<text class="t" transform="translate(664.55,146.00) scale(1.0951,1.0000)">dB</text>
<text class="t" transform="translate(10.40,180.67) rotate(-90) scale(1.0601,1.0000)">Frequency/kHz</text>
<text class="t" transform="translate(355.60,180.67) rotate(-90) scale(1.0601,1.0000)">Frequency/kHz</text>
<rect x="293.00" y="43.95" width="8.30" height="0.9" fill="#1a1a1a"/>
<rect x="290.90" y="74.95" width="8.00" height="0.9" fill="#1a1a1a"/>
<rect x="294.00" y="107.75" width="8.70" height="0.9" fill="#1a1a1a"/>
<rect x="293.00" y="138.05" width="7.60" height="0.9" fill="#1a1a1a"/>
<rect x="293.00" y="168.95" width="8.30" height="0.9" fill="#1a1a1a"/>
<rect x="293.00" y="199.75" width="8.30" height="0.9" fill="#1a1a1a"/>
<rect x="293.00" y="230.05" width="8.00" height="0.9" fill="#1a1a1a"/>
<rect x="292.30" y="259.85" width="8.10" height="0.9" fill="#1a1a1a"/>
<rect x="637.60" y="43.95" width="8.20" height="0.9" fill="#1a1a1a"/>
<rect x="637.60" y="74.95" width="8.40" height="0.9" fill="#1a1a1a"/>
<rect x="639.00" y="107.75" width="8.40" height="0.9" fill="#1a1a1a"/>
<rect x="637.50" y="138.05" width="7.60" height="0.9" fill="#1a1a1a"/>
<rect x="637.50" y="168.95" width="8.30" height="0.9" fill="#1a1a1a"/>
<rect x="637.50" y="199.75" width="8.30" height="0.9" fill="#1a1a1a"/>
<rect x="637.50" y="230.05" width="8.00" height="0.9" fill="#1a1a1a"/>
<rect x="636.60" y="259.95" width="8.30" height="0.9" fill="#1a1a1a"/>
<path fill="#1a1a1a" d="M318.20 135.2h1.9v0.75h-1.15v12.85h1.15v0.75h-1.9zM340.50 135.2h-1.9v0.75h1.15v12.85h-1.15v0.75h1.9z"/>
<path fill="#1a1a1a" d="M662.70 135.2h1.9v0.75h-1.15v12.85h1.15v0.75h-1.9zM685.00 135.2h-1.9v0.75h1.15v12.85h-1.15v0.75h1.9z"/>
</g>
</svg>
</body></html>
